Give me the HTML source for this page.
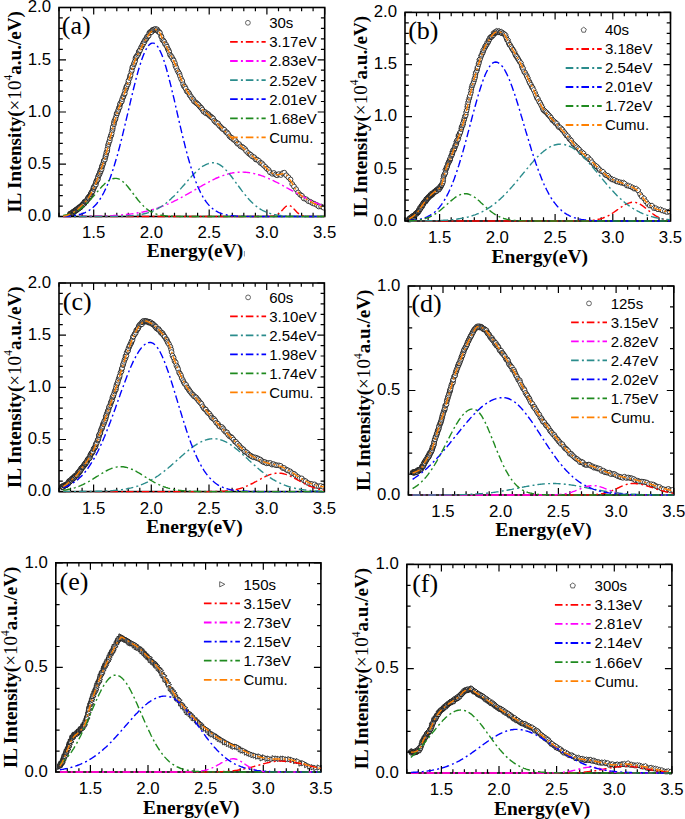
<!DOCTYPE html><html><head><meta charset="utf-8"><style>html,body{margin:0;padding:0;background:#fff;width:685px;height:819px;overflow:hidden}svg{display:block}</style></head><body>
<svg width="685" height="819" viewBox="0 0 685 819">
<rect width="685" height="819" fill="#fff"/>
<clipPath id="cpa"><rect x="59" y="7.5" width="265.7" height="211"/></clipPath>
<g clip-path="url(#cpa)">
<g fill="#fff" stroke="#111" stroke-width="0.8"><circle cx="70" cy="213.7" r="2.4"/><circle cx="70" cy="214.3" r="2.4"/><circle cx="70.8" cy="214.4" r="2.4"/><circle cx="70.9" cy="213.4" r="2.4"/><circle cx="71.1" cy="213.4" r="2.4"/><circle cx="71.7" cy="214.1" r="2.4"/><circle cx="72.1" cy="213.7" r="2.4"/><circle cx="72.4" cy="213.5" r="2.4"/><circle cx="72.3" cy="212.5" r="2.4"/><circle cx="73.1" cy="212.9" r="2.4"/><circle cx="73.5" cy="211.7" r="2.4"/><circle cx="73.4" cy="211.5" r="2.4"/><circle cx="73.8" cy="212" r="2.4"/><circle cx="74.1" cy="211.8" r="2.4"/><circle cx="74.4" cy="211.2" r="2.4"/><circle cx="74.7" cy="211.3" r="2.4"/><circle cx="74.9" cy="211.1" r="2.4"/><circle cx="75.6" cy="210.2" r="2.4"/><circle cx="75.8" cy="210.2" r="2.4"/><circle cx="76.1" cy="209.9" r="2.4"/><circle cx="76.3" cy="210.1" r="2.4"/><circle cx="76.7" cy="209.2" r="2.4"/><circle cx="77.2" cy="209.8" r="2.4"/><circle cx="77.7" cy="209.2" r="2.4"/><circle cx="77.7" cy="208.7" r="2.4"/><circle cx="78.3" cy="208.3" r="2.4"/><circle cx="78.5" cy="208.5" r="2.4"/><circle cx="78.8" cy="207.4" r="2.4"/><circle cx="79.4" cy="207.9" r="2.4"/><circle cx="79.5" cy="207.2" r="2.4"/><circle cx="80" cy="207.6" r="2.4"/><circle cx="80.4" cy="207.4" r="2.4"/><circle cx="80.5" cy="206.9" r="2.4"/><circle cx="81.2" cy="206.1" r="2.4"/><circle cx="81.7" cy="205.5" r="2.4"/><circle cx="81.9" cy="205.9" r="2.4"/><circle cx="82.3" cy="204.8" r="2.4"/><circle cx="82.8" cy="204.4" r="2.4"/><circle cx="82.9" cy="204.9" r="2.4"/><circle cx="83.2" cy="204" r="2.4"/><circle cx="83.6" cy="203.7" r="2.4"/><circle cx="84.2" cy="203.5" r="2.4"/><circle cx="84.4" cy="203.5" r="2.4"/><circle cx="84.5" cy="201.8" r="2.4"/><circle cx="85.3" cy="201.9" r="2.4"/><circle cx="85.4" cy="201.8" r="2.4"/><circle cx="85.9" cy="201.6" r="2.4"/><circle cx="86.3" cy="201.4" r="2.4"/><circle cx="86.8" cy="200.4" r="2.4"/><circle cx="86.9" cy="200.5" r="2.4"/><circle cx="87.4" cy="199.2" r="2.4"/><circle cx="87.9" cy="198.2" r="2.4"/><circle cx="88.3" cy="197.5" r="2.4"/><circle cx="88.6" cy="198.4" r="2.4"/><circle cx="88.9" cy="197.3" r="2.4"/><circle cx="89.6" cy="196" r="2.4"/><circle cx="89.9" cy="195.9" r="2.4"/><circle cx="90.5" cy="195.6" r="2.4"/><circle cx="90.8" cy="194.1" r="2.4"/><circle cx="91" cy="194.1" r="2.4"/><circle cx="91.3" cy="192.9" r="2.4"/><circle cx="91.6" cy="192.3" r="2.4"/><circle cx="92.2" cy="191.8" r="2.4"/><circle cx="92.7" cy="191.1" r="2.4"/><circle cx="93.3" cy="188.9" r="2.4"/><circle cx="93.6" cy="188.7" r="2.4"/><circle cx="93.6" cy="187.2" r="2.4"/><circle cx="94.2" cy="187.1" r="2.4"/><circle cx="95" cy="185.7" r="2.4"/><circle cx="95.4" cy="184" r="2.4"/><circle cx="95.9" cy="184.5" r="2.4"/><circle cx="96.1" cy="182.2" r="2.4"/><circle cx="96.3" cy="181.4" r="2.4"/><circle cx="96.9" cy="180" r="2.4"/><circle cx="97.5" cy="180" r="2.4"/><circle cx="98" cy="178.8" r="2.4"/><circle cx="97.9" cy="176.9" r="2.4"/><circle cx="98.7" cy="175.2" r="2.4"/><circle cx="99.1" cy="174.9" r="2.4"/><circle cx="99.8" cy="173.6" r="2.4"/><circle cx="99.9" cy="172" r="2.4"/><circle cx="100.7" cy="171.3" r="2.4"/><circle cx="100.8" cy="169.6" r="2.4"/><circle cx="101.7" cy="169" r="2.4"/><circle cx="101.9" cy="166.7" r="2.4"/><circle cx="102.1" cy="166" r="2.4"/><circle cx="102.8" cy="164.7" r="2.4"/><circle cx="103.3" cy="163.2" r="2.4"/><circle cx="103.7" cy="161.1" r="2.4"/><circle cx="103.9" cy="160.8" r="2.4"/><circle cx="104.9" cy="159.5" r="2.4"/><circle cx="105.4" cy="157.1" r="2.4"/><circle cx="105.6" cy="155.9" r="2.4"/><circle cx="106.2" cy="154.2" r="2.4"/><circle cx="106.4" cy="152.4" r="2.4"/><circle cx="107.3" cy="151" r="2.4"/><circle cx="107.4" cy="148.8" r="2.4"/><circle cx="108" cy="145.8" r="2.4"/><circle cx="108.4" cy="144.1" r="2.4"/><circle cx="108.9" cy="142.3" r="2.4"/><circle cx="109.7" cy="140.6" r="2.4"/><circle cx="110" cy="138.2" r="2.4"/><circle cx="110.8" cy="136" r="2.4"/><circle cx="111.2" cy="135.2" r="2.4"/><circle cx="111.7" cy="133.4" r="2.4"/><circle cx="112.3" cy="130.4" r="2.4"/><circle cx="112.7" cy="128.8" r="2.4"/><circle cx="112.8" cy="126.9" r="2.4"/><circle cx="113.9" cy="124.3" r="2.4"/><circle cx="113.9" cy="122.7" r="2.4"/><circle cx="114.4" cy="120.8" r="2.4"/><circle cx="115.3" cy="119.5" r="2.4"/><circle cx="115.6" cy="118" r="2.4"/><circle cx="116.4" cy="115.5" r="2.4"/><circle cx="116.7" cy="113.5" r="2.4"/><circle cx="117.2" cy="113.1" r="2.4"/><circle cx="118" cy="111.2" r="2.4"/><circle cx="118.4" cy="109.8" r="2.4"/><circle cx="118.9" cy="107.8" r="2.4"/><circle cx="119.7" cy="107" r="2.4"/><circle cx="120" cy="104.5" r="2.4"/><circle cx="120.3" cy="103.5" r="2.4"/><circle cx="121.4" cy="101.8" r="2.4"/><circle cx="121.8" cy="101.3" r="2.4"/><circle cx="122.2" cy="99.1" r="2.4"/><circle cx="123.1" cy="97.2" r="2.4"/><circle cx="123.5" cy="96.1" r="2.4"/><circle cx="124.2" cy="94.2" r="2.4"/><circle cx="124.8" cy="93.3" r="2.4"/><circle cx="125.2" cy="90.3" r="2.4"/><circle cx="126.1" cy="88.6" r="2.4"/><circle cx="126.3" cy="87" r="2.4"/><circle cx="126.8" cy="86.1" r="2.4"/><circle cx="127.8" cy="84.4" r="2.4"/><circle cx="128.4" cy="82.4" r="2.4"/><circle cx="128.5" cy="80.6" r="2.4"/><circle cx="129.7" cy="78" r="2.4"/><circle cx="130.1" cy="75.9" r="2.4"/><circle cx="130.6" cy="75" r="2.4"/><circle cx="131.4" cy="71.7" r="2.4"/><circle cx="131.9" cy="70" r="2.4"/><circle cx="132.3" cy="67.3" r="2.4"/><circle cx="132.9" cy="66.6" r="2.4"/><circle cx="133.8" cy="64.3" r="2.4"/><circle cx="134.3" cy="62.9" r="2.4"/><circle cx="135.1" cy="61" r="2.4"/><circle cx="135.5" cy="58.3" r="2.4"/><circle cx="136.1" cy="57.1" r="2.4"/><circle cx="136.7" cy="56.2" r="2.4"/><circle cx="137.9" cy="54.9" r="2.4"/><circle cx="138.5" cy="53.4" r="2.4"/><circle cx="138.8" cy="51.8" r="2.4"/><circle cx="139.4" cy="50.8" r="2.4"/><circle cx="140.1" cy="50.1" r="2.4"/><circle cx="141.2" cy="47.4" r="2.4"/><circle cx="141.4" cy="47.2" r="2.4"/><circle cx="142.3" cy="45.3" r="2.4"/><circle cx="143" cy="44.2" r="2.4"/><circle cx="143.6" cy="42.5" r="2.4"/><circle cx="144.4" cy="42.1" r="2.4"/><circle cx="144.9" cy="40.2" r="2.4"/><circle cx="145.9" cy="39.3" r="2.4"/><circle cx="146.6" cy="38.3" r="2.4"/><circle cx="147" cy="36.8" r="2.4"/><circle cx="147.9" cy="36.4" r="2.4"/><circle cx="148.7" cy="35.6" r="2.4"/><circle cx="149.2" cy="33.2" r="2.4"/><circle cx="149.9" cy="32.2" r="2.4"/><circle cx="150.6" cy="32.1" r="2.4"/><circle cx="151.5" cy="32.1" r="2.4"/><circle cx="152.4" cy="30" r="2.4"/><circle cx="152.9" cy="30.6" r="2.4"/><circle cx="153.7" cy="29.5" r="2.4"/><circle cx="154.8" cy="29.6" r="2.4"/><circle cx="155.5" cy="28.9" r="2.4"/><circle cx="156.5" cy="29.9" r="2.4"/><circle cx="157.1" cy="29.4" r="2.4"/><circle cx="157.7" cy="30.9" r="2.4"/><circle cx="158.5" cy="31.6" r="2.4"/><circle cx="159.4" cy="32.2" r="2.4"/><circle cx="159.9" cy="32.9" r="2.4"/><circle cx="161.2" cy="36.2" r="2.4"/><circle cx="161.5" cy="36.9" r="2.4"/><circle cx="162.4" cy="39.9" r="2.4"/><circle cx="163.5" cy="40.7" r="2.4"/><circle cx="164.3" cy="41.9" r="2.4"/><circle cx="165" cy="44" r="2.4"/><circle cx="166.2" cy="45" r="2.4"/><circle cx="166.9" cy="46.7" r="2.4"/><circle cx="167.8" cy="49" r="2.4"/><circle cx="168.6" cy="50.2" r="2.4"/><circle cx="169.2" cy="51.9" r="2.4"/><circle cx="170" cy="54.8" r="2.4"/><circle cx="171" cy="56" r="2.4"/><circle cx="171.9" cy="57.2" r="2.4"/><circle cx="173.1" cy="59.4" r="2.4"/><circle cx="173.7" cy="60.5" r="2.4"/><circle cx="174.9" cy="63.2" r="2.4"/><circle cx="175.4" cy="65.9" r="2.4"/><circle cx="176.3" cy="67.7" r="2.4"/><circle cx="177.4" cy="70.4" r="2.4"/><circle cx="178.4" cy="72.2" r="2.4"/><circle cx="179.4" cy="73.8" r="2.4"/><circle cx="180" cy="76" r="2.4"/><circle cx="181.1" cy="78.9" r="2.4"/><circle cx="182.3" cy="81" r="2.4"/><circle cx="183.1" cy="84.3" r="2.4"/><circle cx="183.9" cy="86.2" r="2.4"/><circle cx="184.9" cy="86.9" r="2.4"/><circle cx="185.7" cy="88.7" r="2.4"/><circle cx="186.8" cy="91.3" r="2.4"/><circle cx="187.9" cy="91.8" r="2.4"/><circle cx="189.2" cy="93.5" r="2.4"/><circle cx="189.7" cy="95.2" r="2.4"/><circle cx="190.9" cy="96.5" r="2.4"/><circle cx="191.9" cy="98.3" r="2.4"/><circle cx="193.2" cy="99.3" r="2.4"/><circle cx="193.9" cy="101.2" r="2.4"/><circle cx="195.3" cy="102.2" r="2.4"/><circle cx="196.3" cy="103" r="2.4"/><circle cx="197.2" cy="103.7" r="2.4"/><circle cx="198.4" cy="104.8" r="2.4"/><circle cx="199.6" cy="106.3" r="2.4"/><circle cx="200.8" cy="107.6" r="2.4"/><circle cx="201.4" cy="108.1" r="2.4"/><circle cx="202.5" cy="109.7" r="2.4"/><circle cx="203.6" cy="111.6" r="2.4"/><circle cx="205.3" cy="112.1" r="2.4"/><circle cx="205.9" cy="113.3" r="2.4"/><circle cx="207.5" cy="113.7" r="2.4"/><circle cx="208.6" cy="114.5" r="2.4"/><circle cx="209.6" cy="115.8" r="2.4"/><circle cx="211" cy="116.7" r="2.4"/><circle cx="211.9" cy="117.6" r="2.4"/><circle cx="213.1" cy="118.4" r="2.4"/><circle cx="214.2" cy="120.6" r="2.4"/><circle cx="215.3" cy="121.8" r="2.4"/><circle cx="216.5" cy="122.8" r="2.4"/><circle cx="218" cy="123.4" r="2.4"/><circle cx="219.1" cy="125.4" r="2.4"/><circle cx="220.3" cy="126.5" r="2.4"/><circle cx="221.7" cy="128" r="2.4"/><circle cx="222.8" cy="129.1" r="2.4"/><circle cx="224.3" cy="129.8" r="2.4"/><circle cx="225.9" cy="132" r="2.4"/><circle cx="226.9" cy="132.4" r="2.4"/><circle cx="228.2" cy="134" r="2.4"/><circle cx="229.5" cy="136.2" r="2.4"/><circle cx="230.8" cy="137.4" r="2.4"/><circle cx="232" cy="138" r="2.4"/><circle cx="233.6" cy="139.7" r="2.4"/><circle cx="235" cy="140.1" r="2.4"/><circle cx="236.5" cy="142.2" r="2.4"/><circle cx="237.5" cy="143.7" r="2.4"/><circle cx="239.2" cy="144.2" r="2.4"/><circle cx="240.5" cy="146.3" r="2.4"/><circle cx="242.2" cy="146.9" r="2.4"/><circle cx="243.4" cy="147.8" r="2.4"/><circle cx="245.2" cy="149.2" r="2.4"/><circle cx="246.2" cy="151" r="2.4"/><circle cx="248.2" cy="153" r="2.4"/><circle cx="249.7" cy="154.2" r="2.4"/><circle cx="250.8" cy="154.9" r="2.4"/><circle cx="252.2" cy="156.4" r="2.4"/><circle cx="254.2" cy="157.3" r="2.4"/><circle cx="255.7" cy="159.4" r="2.4"/><circle cx="257" cy="159.6" r="2.4"/><circle cx="258.9" cy="160.9" r="2.4"/><circle cx="260.4" cy="162.9" r="2.4"/><circle cx="261.9" cy="163.3" r="2.4"/><circle cx="263.3" cy="165.1" r="2.4"/><circle cx="265.3" cy="166.9" r="2.4"/><circle cx="266.9" cy="168.7" r="2.4"/><circle cx="268.7" cy="170.1" r="2.4"/><circle cx="270" cy="172.3" r="2.4"/><circle cx="272.3" cy="173.8" r="2.4"/><circle cx="273.9" cy="173" r="2.4"/><circle cx="275.7" cy="174.6" r="2.4"/><circle cx="277.1" cy="175.3" r="2.4"/><circle cx="278.8" cy="174.1" r="2.4"/><circle cx="280.9" cy="175" r="2.4"/><circle cx="282.6" cy="173.2" r="2.4"/><circle cx="284.3" cy="172.7" r="2.4"/><circle cx="286.3" cy="175.3" r="2.4"/><circle cx="288.4" cy="177.3" r="2.4"/><circle cx="290.5" cy="179.5" r="2.4"/><circle cx="292.2" cy="184" r="2.4"/><circle cx="294" cy="186.5" r="2.4"/><circle cx="296.1" cy="189.2" r="2.4"/><circle cx="298.1" cy="192.5" r="2.4"/><circle cx="300.2" cy="194.7" r="2.4"/><circle cx="301.9" cy="195.8" r="2.4"/><circle cx="303.8" cy="198.4" r="2.4"/><circle cx="306.3" cy="199.3" r="2.4"/><circle cx="308.3" cy="201.1" r="2.4"/><circle cx="310.4" cy="201.8" r="2.4"/><circle cx="312.6" cy="203.2" r="2.4"/><circle cx="314.4" cy="203.8" r="2.4"/><circle cx="317" cy="205.1" r="2.4"/><circle cx="318.8" cy="206.5" r="2.4"/><circle cx="321.1" cy="206.5" r="2.4"/><circle cx="323.5" cy="207.6" r="2.4"/></g>
</g>
<rect x="59" y="7.5" width="265.7" height="209" fill="none" stroke="#000" stroke-width="1.6"/>
<path d="M59 216.5v-3.8M59 7.5v3.8M70.6 216.5v-3.8M70.6 7.5v3.8M82.1 216.5v-3.8M82.1 7.5v3.8M93.7 216.5v-7M93.7 7.5v7M105.2 216.5v-3.8M105.2 7.5v3.8M116.8 216.5v-3.8M116.8 7.5v3.8M128.3 216.5v-3.8M128.3 7.5v3.8M139.9 216.5v-3.8M139.9 7.5v3.8M151.4 216.5v-7M151.4 7.5v7M163 216.5v-3.8M163 7.5v3.8M174.5 216.5v-3.8M174.5 7.5v3.8M186.1 216.5v-3.8M186.1 7.5v3.8M197.6 216.5v-3.8M197.6 7.5v3.8M209.2 216.5v-7M209.2 7.5v7M220.7 216.5v-3.8M220.7 7.5v3.8M232.3 216.5v-3.8M232.3 7.5v3.8M243.8 216.5v-3.8M243.8 7.5v3.8M255.4 216.5v-3.8M255.4 7.5v3.8M266.9 216.5v-7M266.9 7.5v7M278.5 216.5v-3.8M278.5 7.5v3.8M290 216.5v-3.8M290 7.5v3.8M301.6 216.5v-3.8M301.6 7.5v3.8M313.1 216.5v-3.8M313.1 7.5v3.8M324.7 216.5v-7M324.7 7.5v7M59 216.5h7M324.7 216.5h-7M59 206.1h3.8M324.7 206.1h-3.8M59 195.6h3.8M324.7 195.6h-3.8M59 185.2h3.8M324.7 185.2h-3.8M59 174.7h3.8M324.7 174.7h-3.8M59 164.2h7M324.7 164.2h-7M59 153.8h3.8M324.7 153.8h-3.8M59 143.3h3.8M324.7 143.3h-3.8M59 132.9h3.8M324.7 132.9h-3.8M59 122.5h3.8M324.7 122.5h-3.8M59 112h7M324.7 112h-7M59 101.5h3.8M324.7 101.5h-3.8M59 91.1h3.8M324.7 91.1h-3.8M59 80.7h3.8M324.7 80.7h-3.8M59 70.2h3.8M324.7 70.2h-3.8M59 59.8h7M324.7 59.8h-7M59 49.3h3.8M324.7 49.3h-3.8M59 38.8h3.8M324.7 38.8h-3.8M59 28.4h3.8M324.7 28.4h-3.8M59 17.9h3.8M324.7 17.9h-3.8M59 7.5h7M324.7 7.5h-7" stroke="#000" stroke-width="1.2" fill="none"/>
<g clip-path="url(#cpa)">
<path d="M63.2 216.5L64.3 216.5L65.5 216.5L66.6 216.5L67.8 216.5L68.9 216.5L70.1 216.5L71.2 216.5L72.4 216.5L73.6 216.5L74.7 216.5L75.9 216.5L77 216.5L78.2 216.5L79.3 216.5L80.5 216.5L81.6 216.5L82.8 216.5L84 216.5L85.1 216.5L86.3 216.5L87.4 216.5L88.6 216.5L89.7 216.5L90.9 216.5L92 216.5L93.2 216.5L94.3 216.5L95.5 216.5L96.7 216.5L97.8 216.5L99 216.5L100.1 216.5L101.3 216.5L102.4 216.5L103.6 216.5L104.7 216.5L105.9 216.5L107.1 216.5L108.2 216.5L109.4 216.5L110.5 216.5L111.7 216.5L112.8 216.5L114 216.5L115.1 216.5L116.3 216.5L117.5 216.5L118.6 216.5L119.8 216.5L120.9 216.5L122.1 216.5L123.2 216.5L124.4 216.5L125.5 216.5L126.7 216.5L127.9 216.5L129 216.5L130.2 216.5L131.3 216.5L132.5 216.5L133.6 216.5L134.8 216.5L135.9 216.5L137.1 216.5L138.2 216.5L139.4 216.5L140.6 216.5L141.7 216.5L142.9 216.5L144 216.5L145.2 216.5L146.3 216.5L147.5 216.5L148.6 216.5L149.8 216.5L151 216.5L152.1 216.5L153.3 216.5L154.4 216.5L155.6 216.5L156.7 216.5L157.9 216.5L159 216.5L160.2 216.5L161.4 216.5L162.5 216.5L163.7 216.5L164.8 216.5L166 216.5L167.1 216.5L168.3 216.5L169.4 216.5L170.6 216.5L171.7 216.5L172.9 216.5L174.1 216.5L175.2 216.5L176.4 216.5L177.5 216.5L178.7 216.5L179.8 216.5L181 216.5L182.1 216.5L183.3 216.5L184.5 216.5L185.6 216.5L186.8 216.5L187.9 216.5L189.1 216.5L190.2 216.5L191.4 216.5L192.5 216.5L193.7 216.5L194.9 216.5L196 216.5L197.2 216.5L198.3 216.5L199.5 216.5L200.6 216.5L201.8 216.5L202.9 216.5L204.1 216.5L205.3 216.5L206.4 216.5L207.6 216.5L208.7 216.5L209.9 216.5L211 216.5L212.2 216.5L213.3 216.5L214.5 216.5L215.6 216.5L216.8 216.5L218 216.5L219.1 216.5L220.3 216.5L221.4 216.5L222.6 216.5L223.7 216.5L224.9 216.5L226 216.5L227.2 216.5L228.4 216.5L229.5 216.5L230.7 216.5L231.8 216.5L233 216.5L234.1 216.5L235.3 216.5L236.4 216.5L237.6 216.5L238.8 216.5L239.9 216.5L241.1 216.5L242.2 216.5L243.4 216.5L244.5 216.5L245.7 216.5L246.8 216.5L248 216.5L249.1 216.5L250.3 216.5L251.5 216.5L252.6 216.5L253.8 216.5L254.9 216.5L256.1 216.5L257.2 216.5L258.4 216.5L259.5 216.5L260.7 216.5L261.9 216.5L263 216.5L264.2 216.5L265.3 216.5L266.5 216.5L267.6 216.5L268.8 216.5L269.9 216.4L271.1 216.3L272.3 216.2L273.4 216.1L274.6 215.8L275.7 215.4L276.9 214.9L278 214.2L279.2 213.3L280.3 212.2L281.5 211L282.7 209.7L283.8 208.4L285 207.2L286.1 206.3L287.3 205.6L288.4 205.3L289.6 205.5L290.7 206L291.9 206.8L293 207.9L294.2 209.2L295.4 210.5L296.5 211.7L297.7 212.9L298.8 213.8L300 214.6L301.1 215.2L302.3 215.6L303.4 216L304.6 216.2L305.8 216.3L306.9 216.4L308.1 216.4L309.2 216.5L310.4 216.5L311.5 216.5L312.7 216.5L313.8 216.5L315 216.5L316.2 216.5L317.3 216.5L318.5 216.5L319.6 216.5L320.8 216.5L321.9 216.5L323.1 216.5L324.2 216.5" fill="none" stroke="#FF0000" stroke-width="1.4" stroke-dasharray="7.6 3.2 2 2.9"/>
<path d="M63.2 216.5L64.3 216.5L65.5 216.5L66.6 216.5L67.8 216.5L68.9 216.5L70.1 216.5L71.2 216.5L72.4 216.4L73.6 216.4L74.7 216.4L75.9 216.4L77 216.4L78.2 216.4L79.3 216.4L80.5 216.4L81.6 216.4L82.8 216.4L84 216.4L85.1 216.4L86.3 216.3L87.4 216.3L88.6 216.3L89.7 216.3L90.9 216.3L92 216.3L93.2 216.2L94.3 216.2L95.5 216.2L96.7 216.2L97.8 216.1L99 216.1L100.1 216.1L101.3 216.1L102.4 216L103.6 216L104.7 215.9L105.9 215.9L107.1 215.9L108.2 215.8L109.4 215.8L110.5 215.7L111.7 215.6L112.8 215.6L114 215.5L115.1 215.4L116.3 215.4L117.5 215.3L118.6 215.2L119.8 215.1L120.9 215L122.1 214.9L123.2 214.8L124.4 214.7L125.5 214.6L126.7 214.5L127.9 214.3L129 214.2L130.2 214.1L131.3 213.9L132.5 213.8L133.6 213.6L134.8 213.4L135.9 213.2L137.1 213L138.2 212.8L139.4 212.6L140.6 212.4L141.7 212.2L142.9 212L144 211.7L145.2 211.4L146.3 211.2L147.5 210.9L148.6 210.6L149.8 210.3L151 210L152.1 209.7L153.3 209.3L154.4 209L155.6 208.6L156.7 208.3L157.9 207.9L159 207.5L160.2 207.1L161.4 206.6L162.5 206.2L163.7 205.8L164.8 205.3L166 204.8L167.1 204.3L168.3 203.9L169.4 203.3L170.6 202.8L171.7 202.3L172.9 201.8L174.1 201.2L175.2 200.6L176.4 200.1L177.5 199.5L178.7 198.9L179.8 198.3L181 197.7L182.1 197L183.3 196.4L184.5 195.8L185.6 195.1L186.8 194.5L187.9 193.8L189.1 193.2L190.2 192.5L191.4 191.8L192.5 191.2L193.7 190.5L194.9 189.8L196 189.2L197.2 188.5L198.3 187.8L199.5 187.1L200.6 186.5L201.8 185.8L202.9 185.2L204.1 184.5L205.3 183.9L206.4 183.2L207.6 182.6L208.7 182L209.9 181.4L211 180.8L212.2 180.2L213.3 179.6L214.5 179.1L215.6 178.5L216.8 178L218 177.5L219.1 177L220.3 176.5L221.4 176.1L222.6 175.7L223.7 175.3L224.9 174.9L226 174.5L227.2 174.2L228.4 173.9L229.5 173.6L230.7 173.3L231.8 173.1L233 172.8L234.1 172.7L235.3 172.5L236.4 172.4L237.6 172.2L238.8 172.2L239.9 172.1L241.1 172.1L242.2 172.1L243.4 172.1L244.5 172.2L245.7 172.3L246.8 172.4L248 172.5L249.1 172.6L250.3 172.8L251.5 173L252.6 173.2L253.8 173.5L254.9 173.7L256.1 174L257.2 174.4L258.4 174.7L259.5 175L260.7 175.4L261.9 175.8L263 176.2L264.2 176.7L265.3 177.1L266.5 177.6L267.6 178.1L268.8 178.6L269.9 179.1L271.1 179.6L272.3 180.2L273.4 180.7L274.6 181.3L275.7 181.9L276.9 182.4L278 183L279.2 183.6L280.3 184.2L281.5 184.9L282.7 185.5L283.8 186.1L285 186.8L286.1 187.4L287.3 188L288.4 188.7L289.6 189.3L290.7 189.9L291.9 190.6L293 191.2L294.2 191.9L295.4 192.5L296.5 193.1L297.7 193.8L298.8 194.4L300 195L301.1 195.6L302.3 196.2L303.4 196.8L304.6 197.4L305.8 198L306.9 198.6L308.1 199.2L309.2 199.7L310.4 200.3L311.5 200.8L312.7 201.4L313.8 201.9L315 202.4L316.2 202.9L317.3 203.4L318.5 203.9L319.6 204.3L320.8 204.8L321.9 205.2L323.1 205.7L324.2 206.1" fill="none" stroke="#FF00FF" stroke-width="1.4" stroke-dasharray="7.6 3.2 2 2.9"/>
<path d="M63.2 216.5L64.3 216.5L65.5 216.5L66.6 216.5L67.8 216.5L68.9 216.5L70.1 216.5L71.2 216.5L72.4 216.5L73.6 216.5L74.7 216.5L75.9 216.5L77 216.5L78.2 216.5L79.3 216.5L80.5 216.5L81.6 216.5L82.8 216.5L84 216.5L85.1 216.5L86.3 216.5L87.4 216.5L88.6 216.5L89.7 216.5L90.9 216.5L92 216.5L93.2 216.5L94.3 216.5L95.5 216.5L96.7 216.5L97.8 216.5L99 216.5L100.1 216.5L101.3 216.5L102.4 216.5L103.6 216.5L104.7 216.5L105.9 216.5L107.1 216.5L108.2 216.4L109.4 216.4L110.5 216.4L111.7 216.4L112.8 216.4L114 216.4L115.1 216.4L116.3 216.3L117.5 216.3L118.6 216.3L119.8 216.3L120.9 216.2L122.1 216.2L123.2 216.2L124.4 216.1L125.5 216.1L126.7 216L127.9 215.9L129 215.9L130.2 215.8L131.3 215.7L132.5 215.6L133.6 215.5L134.8 215.3L135.9 215.2L137.1 215.1L138.2 214.9L139.4 214.7L140.6 214.5L141.7 214.3L142.9 214.1L144 213.8L145.2 213.5L146.3 213.2L147.5 212.9L148.6 212.5L149.8 212.1L151 211.7L152.1 211.3L153.3 210.8L154.4 210.3L155.6 209.8L156.7 209.2L157.9 208.6L159 207.9L160.2 207.2L161.4 206.5L162.5 205.7L163.7 204.9L164.8 204.1L166 203.2L167.1 202.2L168.3 201.3L169.4 200.3L170.6 199.2L171.7 198.1L172.9 197L174.1 195.9L175.2 194.7L176.4 193.5L177.5 192.3L178.7 191L179.8 189.7L181 188.4L182.1 187.1L183.3 185.8L184.5 184.5L185.6 183.1L186.8 181.8L187.9 180.5L189.1 179.2L190.2 177.9L191.4 176.6L192.5 175.4L193.7 174.2L194.9 173L196 171.9L197.2 170.8L198.3 169.7L199.5 168.8L200.6 167.8L201.8 167L202.9 166.2L204.1 165.5L205.3 164.9L206.4 164.3L207.6 163.9L208.7 163.5L209.9 163.2L211 162.9L212.2 162.8L213.3 162.8L214.5 162.9L215.6 163.1L216.8 163.4L218 163.9L219.1 164.4L220.3 165.1L221.4 165.9L222.6 166.8L223.7 167.8L224.9 168.9L226 170.1L227.2 171.4L228.4 172.7L229.5 174.1L230.7 175.5L231.8 177L233 178.6L234.1 180.1L235.3 181.7L236.4 183.3L237.6 184.9L238.8 186.5L239.9 188L241.1 189.6L242.2 191.1L243.4 192.6L244.5 194.1L245.7 195.5L246.8 196.9L248 198.2L249.1 199.5L250.3 200.7L251.5 201.9L252.6 203L253.8 204.1L254.9 205.1L256.1 206.1L257.2 206.9L258.4 207.8L259.5 208.6L260.7 209.3L261.9 210L263 210.6L264.2 211.2L265.3 211.7L266.5 212.2L267.6 212.7L268.8 213.1L269.9 213.4L271.1 213.8L272.3 214.1L273.4 214.4L274.6 214.6L275.7 214.8L276.9 215.1L278 215.2L279.2 215.4L280.3 215.5L281.5 215.7L282.7 215.8L283.8 215.9L285 216L286.1 216L287.3 216.1L288.4 216.2L289.6 216.2L290.7 216.2L291.9 216.3L293 216.3L294.2 216.3L295.4 216.4L296.5 216.4L297.7 216.4L298.8 216.4L300 216.4L301.1 216.4L302.3 216.5L303.4 216.5L304.6 216.5L305.8 216.5L306.9 216.5L308.1 216.5L309.2 216.5L310.4 216.5L311.5 216.5L312.7 216.5L313.8 216.5L315 216.5L316.2 216.5L317.3 216.5L318.5 216.5L319.6 216.5L320.8 216.5L321.9 216.5L323.1 216.5L324.2 216.5" fill="none" stroke="#2A8C8C" stroke-width="1.4" stroke-dasharray="7.6 3.2 2 2.9"/>
<path d="M63.2 216.3L64.3 216.2L65.5 216.2L66.6 216.1L67.8 216.1L68.9 216L70.1 215.9L71.2 215.8L72.4 215.7L73.6 215.5L74.7 215.4L75.9 215.2L77 215L78.2 214.8L79.3 214.5L80.5 214.2L81.6 213.9L82.8 213.5L84 213L85.1 212.6L86.3 212L87.4 211.4L88.6 210.8L89.7 210L90.9 209.2L92 208.3L93.2 207.3L94.3 206.2L95.5 205L96.7 203.7L97.8 202.2L99 200.7L100.1 199L101.3 197.1L102.4 195.2L103.6 193L104.7 190.7L105.9 188.3L107.1 185.7L108.2 182.9L109.4 180L110.5 176.9L111.7 173.6L112.8 170.1L114 166.5L115.1 162.7L116.3 158.8L117.5 154.7L118.6 150.5L119.8 146.1L120.9 141.6L122.1 137L123.2 132.3L124.4 127.5L125.5 122.6L126.7 117.7L127.9 112.8L129 107.8L130.2 102.9L131.3 98L132.5 93.2L133.6 88.5L134.8 83.8L135.9 79.3L137.1 75L138.2 70.9L139.4 66.9L140.6 63.2L141.7 59.8L142.9 56.6L144 53.7L145.2 51.2L146.3 48.9L147.5 47L148.6 45.5L149.8 44.3L151 43.5L152.1 43.1L153.3 43.1L154.4 43.4L155.6 44.2L156.7 45.3L157.9 46.9L159 48.8L160.2 51.1L161.4 53.7L162.5 56.6L163.7 59.9L164.8 63.4L166 67.2L167.1 71.3L168.3 75.5L169.4 80L170.6 84.6L171.7 89.4L172.9 94.2L174.1 99.2L175.2 104.2L176.4 109.3L177.5 114.3L178.7 119.4L179.8 124.4L181 129.3L182.1 134.2L183.3 139L184.5 143.7L185.6 148.2L186.8 152.6L187.9 156.9L189.1 161L190.2 164.9L191.4 168.7L192.5 172.3L193.7 175.7L194.9 179L196 182.1L197.2 184.9L198.3 187.7L199.5 190.2L200.6 192.6L201.8 194.8L202.9 196.8L204.1 198.7L205.3 200.5L206.4 202.1L207.6 203.6L208.7 204.9L209.9 206.2L211 207.3L212.2 208.3L213.3 209.2L214.5 210.1L215.6 210.8L216.8 211.5L218 212.1L219.1 212.6L220.3 213.1L221.4 213.6L222.6 213.9L223.7 214.3L224.9 214.6L226 214.8L227.2 215.1L228.4 215.3L229.5 215.4L230.7 215.6L231.8 215.7L233 215.8L234.1 215.9L235.3 216L236.4 216.1L237.6 216.2L238.8 216.2L239.9 216.3L241.1 216.3L242.2 216.3L243.4 216.4L244.5 216.4L245.7 216.4L246.8 216.4L248 216.4L249.1 216.4L250.3 216.5L251.5 216.5L252.6 216.5L253.8 216.5L254.9 216.5L256.1 216.5L257.2 216.5L258.4 216.5L259.5 216.5L260.7 216.5L261.9 216.5L263 216.5L264.2 216.5L265.3 216.5L266.5 216.5L267.6 216.5L268.8 216.5L269.9 216.5L271.1 216.5L272.3 216.5L273.4 216.5L274.6 216.5L275.7 216.5L276.9 216.5L278 216.5L279.2 216.5L280.3 216.5L281.5 216.5L282.7 216.5L283.8 216.5L285 216.5L286.1 216.5L287.3 216.5L288.4 216.5L289.6 216.5L290.7 216.5L291.9 216.5L293 216.5L294.2 216.5L295.4 216.5L296.5 216.5L297.7 216.5L298.8 216.5L300 216.5L301.1 216.5L302.3 216.5L303.4 216.5L304.6 216.5L305.8 216.5L306.9 216.5L308.1 216.5L309.2 216.5L310.4 216.5L311.5 216.5L312.7 216.5L313.8 216.5L315 216.5L316.2 216.5L317.3 216.5L318.5 216.5L319.6 216.5L320.8 216.5L321.9 216.5L323.1 216.5L324.2 216.5" fill="none" stroke="#0000FF" stroke-width="1.4" stroke-dasharray="7.6 3.2 2 2.9"/>
<path d="M63.2 215.4L64.3 215.2L65.5 215L66.6 214.8L67.8 214.5L68.9 214.2L70.1 213.9L71.2 213.5L72.4 213.1L73.6 212.6L74.7 212.1L75.9 211.6L77 211L78.2 210.3L79.3 209.6L80.5 208.8L81.6 208L82.8 207.1L84 206.1L85.1 205.1L86.3 204L87.4 202.9L88.6 201.7L89.7 200.5L90.9 199.2L92 197.9L93.2 196.6L94.3 195.3L95.5 193.9L96.7 192.5L97.8 191.2L99 189.9L100.1 188.5L101.3 187.3L102.4 186L103.6 184.9L104.7 183.8L105.9 182.7L107.1 181.8L108.2 181L109.4 180.2L110.5 179.6L111.7 179.1L112.8 178.7L114 178.5L115.1 178.4L116.3 178.4L117.5 178.6L118.6 178.9L119.8 179.4L120.9 180.1L122.1 180.9L123.2 181.9L124.4 183L125.5 184.1L126.7 185.4L127.9 186.8L129 188.2L130.2 189.7L131.3 191.2L132.5 192.7L133.6 194.3L134.8 195.8L135.9 197.3L137.1 198.8L138.2 200.3L139.4 201.6L140.6 203L141.7 204.2L142.9 205.4L144 206.6L145.2 207.6L146.3 208.6L147.5 209.5L148.6 210.3L149.8 211.1L151 211.7L152.1 212.4L153.3 212.9L154.4 213.4L155.6 213.8L156.7 214.2L157.9 214.6L159 214.9L160.2 215.1L161.4 215.3L162.5 215.5L163.7 215.7L164.8 215.8L166 215.9L167.1 216L168.3 216.1L169.4 216.2L170.6 216.3L171.7 216.3L172.9 216.3L174.1 216.4L175.2 216.4L176.4 216.4L177.5 216.4L178.7 216.4L179.8 216.5L181 216.5L182.1 216.5L183.3 216.5L184.5 216.5L185.6 216.5L186.8 216.5L187.9 216.5L189.1 216.5L190.2 216.5L191.4 216.5L192.5 216.5L193.7 216.5L194.9 216.5L196 216.5L197.2 216.5L198.3 216.5L199.5 216.5L200.6 216.5L201.8 216.5L202.9 216.5L204.1 216.5L205.3 216.5L206.4 216.5L207.6 216.5L208.7 216.5L209.9 216.5L211 216.5L212.2 216.5L213.3 216.5L214.5 216.5L215.6 216.5L216.8 216.5L218 216.5L219.1 216.5L220.3 216.5L221.4 216.5L222.6 216.5L223.7 216.5L224.9 216.5L226 216.5L227.2 216.5L228.4 216.5L229.5 216.5L230.7 216.5L231.8 216.5L233 216.5L234.1 216.5L235.3 216.5L236.4 216.5L237.6 216.5L238.8 216.5L239.9 216.5L241.1 216.5L242.2 216.5L243.4 216.5L244.5 216.5L245.7 216.5L246.8 216.5L248 216.5L249.1 216.5L250.3 216.5L251.5 216.5L252.6 216.5L253.8 216.5L254.9 216.5L256.1 216.5L257.2 216.5L258.4 216.5L259.5 216.5L260.7 216.5L261.9 216.5L263 216.5L264.2 216.5L265.3 216.5L266.5 216.5L267.6 216.5L268.8 216.5L269.9 216.5L271.1 216.5L272.3 216.5L273.4 216.5L274.6 216.5L275.7 216.5L276.9 216.5L278 216.5L279.2 216.5L280.3 216.5L281.5 216.5L282.7 216.5L283.8 216.5L285 216.5L286.1 216.5L287.3 216.5L288.4 216.5L289.6 216.5L290.7 216.5L291.9 216.5L293 216.5L294.2 216.5L295.4 216.5L296.5 216.5L297.7 216.5L298.8 216.5L300 216.5L301.1 216.5L302.3 216.5L303.4 216.5L304.6 216.5L305.8 216.5L306.9 216.5L308.1 216.5L309.2 216.5L310.4 216.5L311.5 216.5L312.7 216.5L313.8 216.5L315 216.5L316.2 216.5L317.3 216.5L318.5 216.5L319.6 216.5L320.8 216.5L321.9 216.5L323.1 216.5L324.2 216.5" fill="none" stroke="#1F8A1F" stroke-width="1.4" stroke-dasharray="7.6 3.2 2 2.9"/>
<path d="M63.2 216.2L64.3 216L65.5 215.9L66.6 215.5L67.8 215.1L68.9 214.6L70.1 214.1L71.2 213.5L72.4 212.9L73.6 212.2L74.7 211.4L75.9 210.6L77 209.7L78.2 208.7L79.3 207.7L80.5 206.6L81.6 205.5L82.8 204.3L84 203.2L85.1 202L86.3 200.8L87.4 199.3L88.6 197.7L89.7 195.9L90.9 193.8L92 191.6L93.2 189.3L94.3 186.8L95.5 184L96.7 181.1L97.8 178L99 174.9L100.1 171.8L101.3 168.6L102.4 165.4L103.6 162L104.7 158.4L105.9 154.6L107.1 150.3L108.2 145.8L109.4 141.2L110.5 136.7L111.7 132.4L112.8 128L114 123.7L115.1 119.5L116.3 115.6L117.5 112L118.6 108.8L119.8 105.7L120.9 102.8L122.1 99.7L123.2 96.5L124.4 93.2L125.5 89.9L126.7 86.5L127.9 83.1L129 79.6L130.2 75.8L131.3 71.9L132.5 68.1L133.6 64.4L134.8 61.1L135.9 58.3L137.1 55.8L138.2 53.5L139.4 51.2L140.6 49L141.7 46.8L142.9 44.7L144 42.6L145.2 40.6L146.3 38.8L147.5 36.8L148.6 35L149.8 33.3L151 32L152.1 31L153.3 30.1L154.4 29.5L155.6 29.5L156.7 30L157.9 30.7L159 31.7L160.2 33.7L161.4 36.3L162.5 38.9L163.7 41.2L164.8 43.5L166 45.7L167.1 48L168.3 50.2L169.4 52.5L170.6 54.8L171.7 57.1L172.9 59.5L174.1 61.9L175.2 64.4L176.4 67.1L177.5 69.9L178.7 72.8L179.8 75.7L181 78.6L182.1 81.4L183.3 84.1L184.5 86.5L185.6 88.7L186.8 90.7L187.9 92.5L189.1 94.2L190.2 95.8L191.4 97.4L192.5 98.9L193.7 100.3L194.9 101.6L196 103L197.2 104.2L198.3 105.5L199.5 106.7L200.6 107.9L201.8 109L202.9 110.1L204.1 111.1L205.3 112.1L206.4 113L207.6 114L208.7 115L209.9 116.1L211 117.2L212.2 118.3L213.3 119.4L214.5 120.5L215.6 121.7L216.8 122.8L218 124L219.1 125.1L220.3 126.3L221.4 127.5L222.6 128.6L223.7 129.8L224.9 131L226 132.2L227.2 133.4L228.4 134.5L229.5 135.7L230.7 136.8L231.8 137.8L233 138.9L234.1 139.9L235.3 141L236.4 142L237.6 143L238.8 144L239.9 145L241.1 146.1L242.2 147.1L243.4 148.2L244.5 149.2L245.7 150.3L246.8 151.4L248 152.4L249.1 153.5L250.3 154.5L251.5 155.4L252.6 156.4L253.8 157.3L254.9 158.2L256.1 159.1L257.2 159.9L258.4 160.8L259.5 161.8L260.7 162.7L261.9 163.7L263 164.8L264.2 166L265.3 167.1L266.5 168.2L267.6 169.3L268.8 170.4L269.9 171.5L271.1 172.4L272.3 173.1L273.4 173.6L274.6 174L275.7 174.3L276.9 174.6L278 174.7L279.2 174.6L280.3 174.4L281.5 174L282.7 173.6L283.8 173.4L285 173.5L286.1 174.4L287.3 175.9L288.4 177.6L289.6 179.4L290.7 181L291.9 182.9L293 184.8L294.2 186.8L295.4 188.6L296.5 190.1L297.7 191.6L298.8 193L300 194.3L301.1 195.4L302.3 196.4L303.4 197.3L304.6 198.1L305.8 198.9L306.9 199.6L308.1 200.3L309.2 200.9L310.4 201.5L311.5 202.2L312.7 202.8L313.8 203.4L315 204L316.2 204.6L317.3 205.1L318.5 205.7L319.6 206.2L320.8 206.7L321.9 207.2L323.1 207.7L324.2 208.2" fill="none" stroke="#FF8000" stroke-width="1.4" stroke-dasharray="7.6 3.2 2 2.9"/>
</g>
<g font-family='"Liberation Sans", sans-serif' font-size="16.8">
<text x="93.7" y="238.3" text-anchor="middle">1.5</text>
<text x="151.4" y="238.3" text-anchor="middle">2.0</text>
<text x="209.2" y="238.3" text-anchor="middle">2.5</text>
<text x="266.9" y="238.3" text-anchor="middle">3.0</text>
<text x="324.7" y="238.3" text-anchor="middle">3.5</text>
<text x="51" y="221.2" text-anchor="end">0.0</text>
<text x="51" y="168.9" text-anchor="end">0.5</text>
<text x="51" y="116.7" text-anchor="end">1.0</text>
<text x="51" y="64.5" text-anchor="end">1.5</text>
<text x="51" y="12.2" text-anchor="end">2.0</text>
</g>
<text x="195" y="257.3" font-family='"Liberation Serif", serif' font-weight="bold" font-size="19.5" text-anchor="middle">Energy(eV)</text>
<text transform="translate(20.5 112) rotate(-90)" font-family='"Liberation Serif", serif' font-weight="bold" font-size="19.1" text-anchor="middle">IL Intensity(<tspan font-weight="normal">&#215;10</tspan><tspan font-weight="normal" font-size="11.5" dy="-8.3">4</tspan><tspan dy="8.3">a.u./eV)</tspan></text>
<text x="61.8" y="33.8" font-family='"Liberation Serif", serif' font-size="26">(a)</text>
<g font-family='"Liberation Sans", sans-serif' font-size="15">
<circle cx="247.9" cy="22.8" r="2.4" fill="none" stroke="#555" stroke-width="0.9"/>
<text x="269.2" y="28.2">30s</text>
<path d="M230.1 41.9H265.7" stroke="#FF0000" stroke-width="1.8" stroke-dasharray="7.6 3.2 2 2.9"/>
<text x="269.2" y="47.3">3.17eV</text>
<path d="M230.1 61H265.7" stroke="#FF00FF" stroke-width="1.8" stroke-dasharray="7.6 3.2 2 2.9"/>
<text x="269.2" y="66.4">2.83eV</text>
<path d="M230.1 80.1H265.7" stroke="#2A8C8C" stroke-width="1.8" stroke-dasharray="7.6 3.2 2 2.9"/>
<text x="269.2" y="85.5">2.52eV</text>
<path d="M230.1 99.2H265.7" stroke="#0000FF" stroke-width="1.8" stroke-dasharray="7.6 3.2 2 2.9"/>
<text x="269.2" y="104.6">2.01eV</text>
<path d="M230.1 118.3H265.7" stroke="#1F8A1F" stroke-width="1.8" stroke-dasharray="7.6 3.2 2 2.9"/>
<text x="269.2" y="123.7">1.68eV</text>
<path d="M230.1 137.4H265.7" stroke="#FF8000" stroke-width="1.8" stroke-dasharray="7.6 3.2 2 2.9"/>
<text x="269.2" y="142.8">Cumu.</text>
</g>
<clipPath id="cpb"><rect x="405" y="12.4" width="265.5" height="210.6"/></clipPath>
<g clip-path="url(#cpb)">
<g fill="#fff" stroke="#111" stroke-width="0.8"><path d="M408.9 217L411.4 218.8L410.5 221.8L407.4 221.8L406.4 218.8Z"/><path d="M408.8 216.2L411.4 218L410.4 221L407.3 221L406.3 218Z"/><path d="M409.7 216.9L412.2 218.7L411.2 221.6L408.1 221.6L407.2 218.7Z"/><path d="M409.8 215.6L412.3 217.5L411.3 220.4L408.2 220.4L407.3 217.5Z"/><path d="M410.2 215.1L412.7 216.9L411.8 219.8L408.7 219.8L407.7 216.9Z"/><path d="M410.1 215.5L412.6 217.3L411.6 220.3L408.5 220.3L407.6 217.3Z"/><path d="M410.3 215.2L412.9 217L411.9 220L408.8 220L407.8 217Z"/><path d="M411 215.8L413.5 217.7L412.6 220.6L409.5 220.6L408.5 217.7Z"/><path d="M411.4 214.8L413.9 216.6L412.9 219.6L409.8 219.6L408.9 216.6Z"/><path d="M411.8 215.4L414.3 217.2L413.3 220.1L410.2 220.1L409.2 217.2Z"/><path d="M411.9 213.9L414.4 215.7L413.5 218.6L410.4 218.6L409.4 215.7Z"/><path d="M411.9 214.6L414.4 216.4L413.5 219.4L410.4 219.4L409.4 216.4Z"/><path d="M412.3 214.3L414.8 216.1L413.8 219L410.7 219L409.8 216.1Z"/><path d="M412.6 213.5L415.1 215.3L414.2 218.2L411.1 218.2L410.1 215.3Z"/><path d="M412.7 214.3L415.2 216.1L414.2 219.1L411.1 219.1L410.2 216.1Z"/><path d="M413.2 214.2L415.7 216L414.8 218.9L411.7 218.9L410.7 216Z"/><path d="M413.7 214L416.2 215.8L415.3 218.8L412.2 218.8L411.2 215.8Z"/><path d="M413.7 212.8L416.3 214.6L415.3 217.6L412.2 217.6L411.2 214.6Z"/><path d="M414.2 212.4L416.7 214.2L415.8 217.2L412.7 217.2L411.7 214.2Z"/><path d="M414.3 212.7L416.9 214.5L415.9 217.4L412.8 217.4L411.8 214.5Z"/><path d="M414.9 212.4L417.4 214.2L416.4 217.2L413.3 217.2L412.4 214.2Z"/><path d="M414.8 212.3L417.3 214.2L416.4 217.1L413.3 217.1L412.3 214.2Z"/><path d="M415.3 211.8L417.8 213.7L416.8 216.6L413.7 216.6L412.7 213.7Z"/><path d="M415.6 211.4L418.1 213.3L417.2 216.2L414.1 216.2L413.1 213.3Z"/><path d="M416.3 210.6L418.8 212.5L417.8 215.4L414.7 215.4L413.8 212.5Z"/><path d="M416.1 210.3L418.6 212.1L417.6 215L414.5 215L413.6 212.1Z"/><path d="M416.8 210.1L419.4 211.9L418.4 214.8L415.3 214.8L414.3 211.9Z"/><path d="M416.9 210.9L419.4 212.7L418.4 215.7L415.3 215.7L414.4 212.7Z"/><path d="M417.5 210L420 211.8L419 214.8L415.9 214.8L415 211.8Z"/><path d="M417.6 209.4L420.2 211.3L419.2 214.2L416.1 214.2L415.1 211.3Z"/><path d="M418 209.7L420.5 211.5L419.6 214.5L416.5 214.5L415.5 211.5Z"/><path d="M418 209.3L420.5 211.1L419.5 214L416.4 214L415.5 211.1Z"/><path d="M418.5 208.6L421 210.4L420.1 213.4L417 213.4L416 210.4Z"/><path d="M419.1 208.1L421.6 209.9L420.7 212.9L417.6 212.9L416.6 209.9Z"/><path d="M419.1 207L421.6 208.8L420.6 211.8L417.5 211.8L416.6 208.8Z"/><path d="M419.6 207.1L422.1 209L421.1 211.9L418 211.9L417.1 209Z"/><path d="M419.6 206.6L422.1 208.4L421.1 211.4L418 211.4L417 208.4Z"/><path d="M420.2 206.2L422.7 208L421.8 211L418.7 211L417.7 208Z"/><path d="M420.3 204.6L422.8 206.4L421.8 209.4L418.7 209.4L417.8 206.4Z"/><path d="M420.7 205.5L423.2 207.3L422.3 210.2L419.1 210.2L418.2 207.3Z"/><path d="M421 204.4L423.5 206.2L422.6 209.1L419.5 209.1L418.5 206.2Z"/><path d="M421.8 203.1L424.3 204.9L423.3 207.8L420.2 207.8L419.3 204.9Z"/><path d="M421.9 204L424.4 205.8L423.5 208.8L420.4 208.8L419.4 205.8Z"/><path d="M422 202.2L424.5 204.1L423.6 207L420.5 207L419.5 204.1Z"/><path d="M422.7 202.2L425.2 204.1L424.3 207L421.2 207L420.2 204.1Z"/><path d="M422.7 202.8L425.2 204.6L424.3 207.5L421.2 207.5L420.2 204.6Z"/><path d="M423.1 201.7L425.6 203.5L424.6 206.4L421.5 206.4L420.5 203.5Z"/><path d="M423.3 200.3L425.8 202.1L424.9 205L421.8 205L420.8 202.1Z"/><path d="M424.2 200L426.7 201.8L425.7 204.8L422.6 204.8L421.7 201.8Z"/><path d="M424 199.3L426.5 201.1L425.6 204.1L422.5 204.1L421.5 201.1Z"/><path d="M424.6 199.2L427.1 201L426.1 204L423 204L422 201Z"/><path d="M425.1 198.4L427.6 200.2L426.7 203.2L423.6 203.2L422.6 200.2Z"/><path d="M425.4 198.6L427.9 200.5L426.9 203.4L423.8 203.4L422.9 200.5Z"/><path d="M425.7 198.6L428.2 200.4L427.3 203.4L424.2 203.4L423.2 200.4Z"/><path d="M426.1 197.7L428.6 199.5L427.6 202.5L424.5 202.5L423.6 199.5Z"/><path d="M426.3 196.3L428.8 198.1L427.9 201.1L424.8 201.1L423.8 198.1Z"/><path d="M426.8 197.2L429.3 199.1L428.3 202L425.2 202L424.3 199.1Z"/><path d="M427.2 196.6L429.7 198.4L428.7 201.4L425.6 201.4L424.7 198.4Z"/><path d="M427.4 195.4L429.9 197.2L429 200.2L425.9 200.2L424.9 197.2Z"/><path d="M427.5 195.2L430 197L429.1 199.9L426 199.9L425 197Z"/><path d="M428 195.2L430.5 197L429.6 200L426.5 200L425.5 197Z"/><path d="M428.8 194L431.3 195.8L430.3 198.8L427.2 198.8L426.3 195.8Z"/><path d="M428.9 194.5L431.4 196.3L430.5 199.3L427.4 199.3L426.4 196.3Z"/><path d="M429.3 193.8L431.8 195.6L430.8 198.6L427.7 198.6L426.8 195.6Z"/><path d="M429.8 193.4L432.3 195.3L431.3 198.2L428.2 198.2L427.3 195.3Z"/><path d="M429.8 192.7L432.4 194.6L431.4 197.5L428.3 197.5L427.3 194.6Z"/><path d="M430.6 193L433.1 194.9L432.1 197.8L429 197.8L428.1 194.9Z"/><path d="M430.8 192.7L433.3 194.5L432.3 197.5L429.2 197.5L428.3 194.5Z"/><path d="M431 191.2L433.5 193.1L432.6 196L429.5 196L428.5 193.1Z"/><path d="M431.6 192L434.1 193.8L433.1 196.7L430 196.7L429.1 193.8Z"/><path d="M432.1 192L434.6 193.9L433.6 196.8L430.5 196.8L429.6 193.9Z"/><path d="M432.2 191.7L434.7 193.5L433.8 196.5L430.7 196.5L429.7 193.5Z"/><path d="M432.6 190.9L435.1 192.8L434.2 195.7L431.1 195.7L430.1 192.8Z"/><path d="M433.1 190.7L435.7 192.6L434.7 195.5L431.6 195.5L430.6 192.6Z"/><path d="M433.7 189.9L436.2 191.8L435.3 194.7L432.2 194.7L431.2 191.8Z"/><path d="M433.7 189.4L436.2 191.2L435.3 194.1L432.2 194.1L431.2 191.2Z"/><path d="M434.2 189.5L436.8 191.3L435.8 194.2L432.7 194.2L431.7 191.3Z"/><path d="M434.6 189.4L437.1 191.2L436.2 194.2L433.1 194.2L432.1 191.2Z"/><path d="M434.9 188.6L437.4 190.5L436.5 193.4L433.4 193.4L432.4 190.5Z"/><path d="M435.4 188.9L437.9 190.8L436.9 193.7L433.8 193.7L432.9 190.8Z"/><path d="M435.8 188L438.3 189.9L437.4 192.8L434.3 192.8L433.3 189.9Z"/><path d="M436.2 187.9L438.7 189.7L437.8 192.7L434.7 192.7L433.7 189.7Z"/><path d="M436.5 188.6L439 190.4L438.1 193.3L435 193.3L434 190.4Z"/><path d="M437.1 187.1L439.6 188.9L438.6 191.8L435.5 191.8L434.6 188.9Z"/><path d="M437.4 186.9L439.9 188.7L439 191.7L435.9 191.7L434.9 188.7Z"/><path d="M438 186.5L440.5 188.4L439.5 191.3L436.4 191.3L435.4 188.4Z"/><path d="M438 186L440.5 187.8L439.6 190.8L436.5 190.8L435.5 187.8Z"/><path d="M438.7 187L441.2 188.9L440.2 191.8L437.1 191.8L436.2 188.9Z"/><path d="M438.8 185.3L441.3 187.1L440.3 190.1L437.2 190.1L436.3 187.1Z"/><path d="M439.4 186.2L441.9 188.1L440.9 191L437.8 191L436.8 188.1Z"/><path d="M440 185L442.5 186.8L441.5 189.8L438.4 189.8L437.4 186.8Z"/><path d="M440.6 184.5L443.1 186.4L442.1 189.3L439 189.3L438.1 186.4Z"/><path d="M440.5 183.7L443 185.5L442.1 188.4L439 188.4L438 185.5Z"/><path d="M441.2 182.7L443.8 184.6L442.8 187.5L439.7 187.5L438.7 184.6Z"/><path d="M441.6 182.3L444.1 184.1L443.2 187.1L440.1 187.1L439.1 184.1Z"/><path d="M441.9 182L444.4 183.9L443.4 186.8L440.3 186.8L439.3 183.9Z"/><path d="M442.5 180.6L445 182.4L444 185.4L440.9 185.4L440 182.4Z"/><path d="M443.1 178.9L445.6 180.7L444.7 183.7L441.6 183.7L440.6 180.7Z"/><path d="M443.2 176.5L445.7 178.4L444.7 181.3L441.6 181.3L440.7 178.4Z"/><path d="M443.6 174.1L446.1 175.9L445.2 178.9L442.1 178.9L441.1 175.9Z"/><path d="M444 172.6L446.5 174.4L445.6 177.3L442.5 177.3L441.5 174.4Z"/><path d="M444.9 171.3L447.4 173.1L446.4 176.1L443.3 176.1L442.3 173.1Z"/><path d="M445.4 170.2L447.9 172L446.9 175L443.8 175L442.9 172Z"/><path d="M445.5 167.3L448 169.2L447 172.1L443.9 172.1L442.9 169.2Z"/><path d="M446.3 166.1L448.8 168L447.8 170.9L444.7 170.9L443.8 168Z"/><path d="M446.5 165.4L449 167.2L448.1 170.2L445 170.2L444 167.2Z"/><path d="M446.8 164.4L449.3 166.2L448.3 169.2L445.2 169.2L444.3 166.2Z"/><path d="M447.4 163.4L449.9 165.3L448.9 168.2L445.8 168.2L444.9 165.3Z"/><path d="M447.8 161.5L450.3 163.4L449.3 166.3L446.2 166.3L445.3 163.4Z"/><path d="M448.4 160.1L450.9 162L449.9 164.9L446.8 164.9L445.9 162Z"/><path d="M448.9 159.1L451.4 160.9L450.4 163.9L447.3 163.9L446.4 160.9Z"/><path d="M449.2 158.9L451.7 160.7L450.7 163.7L447.6 163.7L446.7 160.7Z"/><path d="M449.8 158L452.3 159.8L451.4 162.7L448.3 162.7L447.3 159.8Z"/><path d="M450 156.7L452.5 158.5L451.6 161.5L448.5 161.5L447.5 158.5Z"/><path d="M450.4 155.7L452.9 157.6L451.9 160.5L448.8 160.5L447.8 157.6Z"/><path d="M451.1 153.5L453.6 155.3L452.6 158.3L449.5 158.3L448.6 155.3Z"/><path d="M451.8 152.5L454.3 154.4L453.3 157.3L450.2 157.3L449.3 154.4Z"/><path d="M452.1 151.7L454.6 153.5L453.7 156.4L450.6 156.4L449.6 153.5Z"/><path d="M452.4 149.7L454.9 151.5L453.9 154.5L450.8 154.5L449.8 151.5Z"/><path d="M452.9 149.2L455.4 151L454.4 154L451.3 154L450.4 151Z"/><path d="M453.3 147.2L455.8 149L454.8 152L451.7 152L450.7 149Z"/><path d="M454.1 146.9L456.6 148.7L455.7 151.7L452.6 151.7L451.6 148.7Z"/><path d="M454.6 145.7L457.1 147.5L456.2 150.5L453.1 150.5L452.1 147.5Z"/><path d="M455.1 143.8L457.6 145.6L456.6 148.5L453.5 148.5L452.5 145.6Z"/><path d="M455.6 142.5L458.1 144.4L457.2 147.3L454.1 147.3L453.1 144.4Z"/><path d="M456.2 141.6L458.8 143.4L457.8 146.4L454.7 146.4L453.7 143.4Z"/><path d="M456.3 139.5L458.8 141.3L457.9 144.2L454.8 144.2L453.8 141.3Z"/><path d="M457 138.3L459.5 140.1L458.5 143.1L455.4 143.1L454.5 140.1Z"/><path d="M457.3 137.5L459.8 139.3L458.9 142.3L455.8 142.3L454.8 139.3Z"/><path d="M458.2 136.4L460.8 138.2L459.8 141.2L456.7 141.2L455.7 138.2Z"/><path d="M458.4 133.9L460.9 135.7L460 138.7L456.8 138.7L455.9 135.7Z"/><path d="M458.7 132.4L461.3 134.3L460.3 137.2L457.2 137.2L456.2 134.3Z"/><path d="M459.3 132.5L461.8 134.3L460.8 137.3L457.7 137.3L456.8 134.3Z"/><path d="M459.9 130.2L462.5 132L461.5 135L458.4 135L457.4 132Z"/><path d="M460.5 129.4L463 131.2L462 134.2L458.9 134.2L458 131.2Z"/><path d="M461.3 126.5L463.8 128.4L462.9 131.3L459.8 131.3L458.8 128.4Z"/><path d="M461.5 125L464 126.8L463.1 129.8L460 129.8L459 126.8Z"/><path d="M462.1 123.1L464.6 125L463.7 127.9L460.6 127.9L459.6 125Z"/><path d="M462.9 122.2L465.4 124L464.5 127L461.4 127L460.4 124Z"/><path d="M463.1 120.4L465.6 122.2L464.6 125.2L461.5 125.2L460.6 122.2Z"/><path d="M463.8 118L466.4 119.8L465.4 122.8L462.3 122.8L461.3 119.8Z"/><path d="M464.4 116.1L466.9 117.9L465.9 120.9L462.8 120.9L461.9 117.9Z"/><path d="M465 113.7L467.5 115.5L466.5 118.5L463.4 118.5L462.5 115.5Z"/><path d="M465.8 112.6L468.3 114.4L467.3 117.4L464.2 117.4L463.3 114.4Z"/><path d="M466.1 109.8L468.6 111.6L467.6 114.6L464.5 114.6L463.6 111.6Z"/><path d="M466.7 107.6L469.2 109.4L468.2 112.4L465.1 112.4L464.2 109.4Z"/><path d="M467.4 104.5L469.9 106.4L468.9 109.3L465.8 109.3L464.8 106.4Z"/><path d="M467.5 102.5L470 104.3L469 107.3L465.9 107.3L465 104.3Z"/><path d="M468.2 99.8L470.7 101.6L469.7 104.6L466.6 104.6L465.6 101.6Z"/><path d="M468.6 97.4L471.1 99.2L470.1 102.1L467 102.1L466.1 99.2Z"/><path d="M469.4 95.2L471.9 97L471 99.9L467.9 99.9L466.9 97Z"/><path d="M469.8 93.2L472.3 95.1L471.4 98L468.3 98L467.3 95.1Z"/><path d="M470.8 90.3L473.3 92.1L472.4 95L469.3 95L468.3 92.1Z"/><path d="M471.2 87.4L473.7 89.2L472.8 92.2L469.7 92.2L468.7 89.2Z"/><path d="M471.6 85.1L474.1 86.9L473.2 89.8L470.1 89.8L469.1 86.9Z"/><path d="M472.2 82.8L474.7 84.7L473.8 87.6L470.6 87.6L469.7 84.7Z"/><path d="M473 81.2L475.5 83L474.5 86L471.4 86L470.5 83Z"/><path d="M473.7 79.2L476.2 81L475.3 83.9L472.2 83.9L471.2 81Z"/><path d="M474.3 76.9L476.8 78.7L475.9 81.6L472.8 81.6L471.8 78.7Z"/><path d="M475 75L477.5 76.8L476.6 79.8L473.5 79.8L472.5 76.8Z"/><path d="M475.4 72.5L477.9 74.3L477 77.2L473.8 77.2L472.9 74.3Z"/><path d="M475.7 70.1L478.2 71.9L477.3 74.8L474.2 74.8L473.2 71.9Z"/><path d="M476.8 68.1L479.3 70L478.4 72.9L475.3 72.9L474.3 70Z"/><path d="M477.3 65.8L479.8 67.7L478.9 70.6L475.8 70.6L474.8 67.7Z"/><path d="M477.7 64.5L480.2 66.3L479.3 69.2L476.1 69.2L475.2 66.3Z"/><path d="M478.5 61.6L481 63.5L480.1 66.4L477 66.4L476 63.5Z"/><path d="M479 60L481.5 61.8L480.6 64.7L477.5 64.7L476.5 61.8Z"/><path d="M479.4 57.2L481.9 59.1L480.9 62L477.8 62L476.9 59.1Z"/><path d="M480.2 56.3L482.7 58.1L481.7 61.1L478.6 61.1L477.7 58.1Z"/><path d="M481.1 53.5L483.6 55.3L482.7 58.2L479.6 58.2L478.6 55.3Z"/><path d="M481.6 52.2L484.2 54L483.2 56.9L480.1 56.9L479.1 54Z"/><path d="M482.5 50.1L485 51.9L484.1 54.9L481 54.9L480 51.9Z"/><path d="M483 49.4L485.5 51.2L484.6 54.2L481.4 54.2L480.5 51.2Z"/><path d="M483.4 47.6L485.9 49.4L484.9 52.3L481.8 52.3L480.8 49.4Z"/><path d="M484.3 46L486.8 47.9L485.9 50.8L482.8 50.8L481.8 47.9Z"/><path d="M485.2 44.1L487.7 45.9L486.7 48.9L483.6 48.9L482.7 45.9Z"/><path d="M485.6 43.5L488.1 45.3L487.1 48.3L484 48.3L483 45.3Z"/><path d="M486.3 42.2L488.8 44L487.8 47L484.7 47L483.8 44Z"/><path d="M487.1 41.2L489.6 43.1L488.6 46L485.5 46L484.6 43.1Z"/><path d="M487.3 39.9L489.8 41.7L488.9 44.6L485.8 44.6L484.8 41.7Z"/><path d="M488.5 38.9L491 40.8L490.1 43.7L487 43.7L486 40.8Z"/><path d="M488.8 37.2L491.3 39L490.3 42L487.2 42L486.3 39Z"/><path d="M489.5 36.7L492 38.5L491 41.4L487.9 41.4L487 38.5Z"/><path d="M490.2 34.7L492.7 36.5L491.8 39.5L488.7 39.5L487.7 36.5Z"/><path d="M491.1 34.2L493.6 36L492.7 39L489.6 39L488.6 36Z"/><path d="M491.6 34L494.1 35.8L493.1 38.8L490 38.8L489.1 35.8Z"/><path d="M492.7 32.9L495.2 34.7L494.2 37.7L491.1 37.7L490.2 34.7Z"/><path d="M493.4 32.2L496 34L495 37L491.9 37L490.9 34Z"/><path d="M493.6 30.3L496.1 32.1L495.2 35.1L492.1 35.1L491.1 32.1Z"/><path d="M494.7 30.7L497.2 32.5L496.3 35.5L493.2 35.5L492.2 32.5Z"/><path d="M495.2 29.7L497.7 31.5L496.8 34.5L493.7 34.5L492.7 31.5Z"/><path d="M495.9 29L498.4 30.8L497.5 33.7L494.4 33.7L493.4 30.8Z"/><path d="M496.7 28.4L499.2 30.3L498.3 33.2L495.2 33.2L494.2 30.3Z"/><path d="M497.6 29.8L500.1 31.6L499.1 34.6L496 34.6L495.1 31.6Z"/><path d="M498.1 28.9L500.6 30.7L499.6 33.7L496.5 33.7L495.6 30.7Z"/><path d="M499.1 28.5L501.6 30.3L500.7 33.3L497.5 33.3L496.6 30.3Z"/><path d="M499.7 29.6L502.2 31.4L501.2 34.4L498.1 34.4L497.2 31.4Z"/><path d="M500.8 29.6L503.3 31.4L502.3 34.4L499.2 34.4L498.3 31.4Z"/><path d="M501.5 29.3L504 31.1L503 34.1L499.9 34.1L498.9 31.1Z"/><path d="M501.9 30.7L504.4 32.5L503.4 35.5L500.3 35.5L499.4 32.5Z"/><path d="M502.9 30.5L505.4 32.3L504.5 35.2L501.4 35.2L500.4 32.3Z"/><path d="M504 31L506.5 32.8L505.5 35.8L502.4 35.8L501.5 32.8Z"/><path d="M504.6 31.9L507.1 33.7L506.2 36.7L503.1 36.7L502.1 33.7Z"/><path d="M505.6 32.6L508.1 34.4L507.1 37.4L504 37.4L503.1 34.4Z"/><path d="M506.2 34.8L508.7 36.6L507.7 39.5L504.6 39.5L503.7 36.6Z"/><path d="M506.7 36.7L509.2 38.5L508.3 41.5L505.2 41.5L504.2 38.5Z"/><path d="M507.9 37.5L510.4 39.3L509.4 42.3L506.3 42.3L505.4 39.3Z"/><path d="M508.5 39.8L511 41.6L510 44.6L506.9 44.6L506 41.6Z"/><path d="M509.3 41.7L511.8 43.5L510.8 46.5L507.7 46.5L506.8 43.5Z"/><path d="M509.9 42.2L512.4 44L511.5 46.9L508.4 46.9L507.4 44Z"/><path d="M511.1 44.1L513.6 45.9L512.7 48.8L509.6 48.8L508.6 45.9Z"/><path d="M511.8 45.5L514.3 47.3L513.4 50.3L510.3 50.3L509.3 47.3Z"/><path d="M512.9 47L515.4 48.9L514.5 51.8L511.4 51.8L510.4 48.9Z"/><path d="M513.3 47.7L515.8 49.6L514.8 52.5L511.7 52.5L510.8 49.6Z"/><path d="M514.6 49.7L517.1 51.5L516.2 54.5L513.1 54.5L512.1 51.5Z"/><path d="M515.1 51.7L517.6 53.5L516.7 56.5L513.6 56.5L512.6 53.5Z"/><path d="M516 53.1L518.5 54.9L517.5 57.9L514.4 57.9L513.5 54.9Z"/><path d="M516.9 54L519.4 55.9L518.4 58.8L515.3 58.8L514.4 55.9Z"/><path d="M517.6 55.7L520.2 57.5L519.2 60.5L516.1 60.5L515.1 57.5Z"/><path d="M518.6 57.1L521.1 59L520.2 61.9L517.1 61.9L516.1 59Z"/><path d="M519.5 58.7L522 60.6L521 63.5L517.9 63.5L517 60.6Z"/><path d="M520.8 60.3L523.4 62.2L522.4 65.1L519.3 65.1L518.3 62.2Z"/><path d="M521.7 63.1L524.2 64.9L523.3 67.9L520.2 67.9L519.2 64.9Z"/><path d="M522.3 65L524.8 66.9L523.8 69.8L520.7 69.8L519.8 66.9Z"/><path d="M523.1 65.9L525.6 67.7L524.6 70.7L521.5 70.7L520.6 67.7Z"/><path d="M524 68.8L526.5 70.6L525.5 73.6L522.4 73.6L521.5 70.6Z"/><path d="M525.1 70L527.6 71.8L526.6 74.8L523.5 74.8L522.6 71.8Z"/><path d="M526.4 72.3L528.9 74.2L527.9 77.1L524.8 77.1L523.9 74.2Z"/><path d="M526.8 73.7L529.3 75.5L528.4 78.5L525.3 78.5L524.3 75.5Z"/><path d="M527.8 75.5L530.3 77.3L529.4 80.3L526.2 80.3L525.3 77.3Z"/><path d="M528.9 78.1L531.4 80L530.5 82.9L527.3 82.9L526.4 80Z"/><path d="M529.7 80.1L532.2 81.9L531.2 84.9L528.1 84.9L527.2 81.9Z"/><path d="M530.9 82.1L533.4 83.9L532.5 86.8L529.4 86.8L528.4 83.9Z"/><path d="M531.8 84.1L534.3 85.9L533.3 88.9L530.2 88.9L529.3 85.9Z"/><path d="M532.6 85.1L535.1 86.9L534.2 89.9L531.1 89.9L530.1 86.9Z"/><path d="M533.6 87.3L536.1 89.2L535.2 92.1L532.1 92.1L531.1 89.2Z"/><path d="M535 90.1L537.5 91.9L536.6 94.9L533.5 94.9L532.5 91.9Z"/><path d="M535.9 92.6L538.5 94.5L537.5 97.4L534.4 97.4L533.4 94.5Z"/><path d="M536.8 95L539.3 96.8L538.3 99.8L535.2 99.8L534.3 96.8Z"/><path d="M537.9 96.1L540.4 97.9L539.4 100.8L536.3 100.8L535.4 97.9Z"/><path d="M539 98.7L541.5 100.5L540.5 103.5L537.4 103.5L536.5 100.5Z"/><path d="M540.1 100.3L542.6 102.2L541.7 105.1L538.6 105.1L537.6 102.2Z"/><path d="M541.2 102.5L543.7 104.3L542.7 107.2L539.6 107.2L538.6 104.3Z"/><path d="M542.3 104.6L544.8 106.5L543.8 109.4L540.7 109.4L539.8 106.5Z"/><path d="M543.1 107L545.6 108.8L544.6 111.7L541.5 111.7L540.6 108.8Z"/><path d="M544.2 107.9L546.7 109.7L545.7 112.7L542.6 112.7L541.7 109.7Z"/><path d="M545.4 109L547.9 110.9L547 113.8L543.9 113.8L542.9 110.9Z"/><path d="M546.5 109.9L549 111.7L548.1 114.6L545 114.6L544 111.7Z"/><path d="M547.6 111.4L550.2 113.2L549.2 116.2L546.1 116.2L545.1 113.2Z"/><path d="M548.7 112.4L551.2 114.3L550.3 117.2L547.2 117.2L546.2 114.3Z"/><path d="M549.9 113.7L552.4 115.5L551.4 118.5L548.3 118.5L547.3 115.5Z"/><path d="M551.1 115.1L553.6 117L552.6 119.9L549.5 119.9L548.6 117Z"/><path d="M552.2 117.3L554.7 119.1L553.7 122L550.6 122L549.6 119.1Z"/><path d="M553.4 118.1L555.9 120L555 122.9L551.9 122.9L550.9 120Z"/><path d="M554.5 119L557 120.8L556 123.7L552.9 123.7L552 120.8Z"/><path d="M555.3 120.3L557.9 122.1L556.9 125.1L553.8 125.1L552.8 122.1Z"/><path d="M556.9 120.9L559.4 122.8L558.4 125.7L555.3 125.7L554.4 122.8Z"/><path d="M557.8 123.1L560.3 124.9L559.4 127.8L556.3 127.8L555.3 124.9Z"/><path d="M558.7 124.4L561.2 126.2L560.3 129.1L557.2 129.1L556.2 126.2Z"/><path d="M560.2 124.9L562.8 126.7L561.8 129.7L558.7 129.7L557.7 126.7Z"/><path d="M561.6 126.3L564.1 128.1L563.2 131.1L560 131.1L559.1 128.1Z"/><path d="M562.4 127.3L564.9 129.1L563.9 132.1L560.8 132.1L559.9 129.1Z"/><path d="M564.1 129.3L566.6 131.1L565.6 134.1L562.5 134.1L561.6 131.1Z"/><path d="M565.1 130.7L567.6 132.5L566.6 135.5L563.5 135.5L562.6 132.5Z"/><path d="M566.3 132.7L568.8 134.5L567.9 137.5L564.8 137.5L563.8 134.5Z"/><path d="M567.7 133.5L570.2 135.3L569.3 138.3L566.2 138.3L565.2 135.3Z"/><path d="M569 135.8L571.5 137.7L570.6 140.6L567.5 140.6L566.5 137.7Z"/><path d="M570.2 136.8L572.7 138.6L571.7 141.5L568.6 141.5L567.7 138.6Z"/><path d="M571.2 138L573.7 139.8L572.7 142.7L569.6 142.7L568.7 139.8Z"/><path d="M572.9 140.7L575.4 142.6L574.4 145.5L571.3 145.5L570.4 142.6Z"/><path d="M574.1 141.8L576.6 143.6L575.7 146.6L572.6 146.6L571.6 143.6Z"/><path d="M575.7 143.5L578.2 145.3L577.2 148.2L574.1 148.2L573.2 145.3Z"/><path d="M577 144.6L579.6 146.4L578.6 149.4L575.5 149.4L574.5 146.4Z"/><path d="M578.4 146L580.9 147.8L579.9 150.8L576.8 150.8L575.8 147.8Z"/><path d="M579.5 147.2L582 149.1L581.1 152L578 152L577 149.1Z"/><path d="M580.9 149.6L583.4 151.4L582.5 154.4L579.4 154.4L578.4 151.4Z"/><path d="M582.2 149.6L584.7 151.5L583.7 154.4L580.6 154.4L579.7 151.5Z"/><path d="M583.5 150.7L586 152.6L585.1 155.5L582 155.5L581 152.6Z"/><path d="M585 153.3L587.5 155.2L586.5 158.1L583.4 158.1L582.5 155.2Z"/><path d="M586.7 154.7L589.2 156.5L588.3 159.5L585.1 159.5L584.2 156.5Z"/><path d="M587.9 154.4L590.4 156.3L589.4 159.2L586.3 159.2L585.4 156.3Z"/><path d="M589.3 156.7L591.8 158.5L590.8 161.5L587.7 161.5L586.7 158.5Z"/><path d="M590.6 157.3L593.1 159.2L592.2 162.1L589 162.1L588.1 159.2Z"/><path d="M592 159.6L594.6 161.5L593.6 164.4L590.5 164.4L589.5 161.5Z"/><path d="M593.7 161.6L596.2 163.4L595.3 166.3L592.2 166.3L591.2 163.4Z"/><path d="M595.2 163.1L597.7 164.9L596.8 167.9L593.7 167.9L592.7 164.9Z"/><path d="M596.6 163.7L599.1 165.5L598.1 168.5L595 168.5L594.1 165.5Z"/><path d="M598.6 165.7L601.1 167.6L600.1 170.5L597 170.5L596.1 167.6Z"/><path d="M599.6 167.3L602.1 169.2L601.2 172.1L598.1 172.1L597.1 169.2Z"/><path d="M601.4 168.5L603.9 170.3L603 173.2L599.9 173.2L598.9 170.3Z"/><path d="M603.1 169.2L605.6 171L604.7 173.9L601.6 173.9L600.6 171Z"/><path d="M604.9 171.5L607.4 173.3L606.5 176.3L603.3 176.3L602.4 173.3Z"/><path d="M606.2 172.6L608.7 174.5L607.8 177.4L604.7 177.4L603.7 174.5Z"/><path d="M608.1 173.2L610.6 175L609.6 178L606.5 178L605.5 175Z"/><path d="M609.4 174.9L611.9 176.7L611 179.6L607.9 179.6L606.9 176.7Z"/><path d="M610.9 176.1L613.4 177.9L612.5 180.8L609.4 180.8L608.4 177.9Z"/><path d="M612.5 176.9L615 178.7L614 181.7L610.9 181.7L610 178.7Z"/><path d="M614.2 177.3L616.7 179.1L615.8 182.1L612.7 182.1L611.7 179.1Z"/><path d="M616.4 178.5L618.9 180.4L617.9 183.3L614.8 183.3L613.8 180.4Z"/><path d="M617.7 179L620.2 180.8L619.2 183.8L616.1 183.8L615.1 180.8Z"/><path d="M619.8 179.6L622.3 181.4L621.4 184.4L618.3 184.4L617.3 181.4Z"/><path d="M621.6 180.2L624.1 182L623.2 185L620.1 185L619.1 182Z"/><path d="M623.3 180.1L625.8 181.9L624.8 184.9L621.7 184.9L620.8 181.9Z"/><path d="M624.6 180.9L627.2 182.8L626.2 185.7L623.1 185.7L622.1 182.8Z"/><path d="M626.8 182.8L629.3 184.7L628.4 187.6L625.3 187.6L624.3 184.7Z"/><path d="M628.3 183.1L630.8 184.9L629.8 187.9L626.7 187.9L625.8 184.9Z"/><path d="M630.3 183.8L632.8 185.6L631.9 188.5L628.8 188.5L627.8 185.6Z"/><path d="M632.5 184.9L635 186.7L634 189.6L630.9 189.6L629.9 186.7Z"/><path d="M634.4 186L636.9 187.9L635.9 190.8L632.8 190.8L631.9 187.9Z"/><path d="M636.2 186.1L638.7 187.9L637.7 190.8L634.6 190.8L633.6 187.9Z"/><path d="M638.2 187.8L640.7 189.7L639.7 192.6L636.6 192.6L635.6 189.7Z"/><path d="M640 191.5L642.5 193.3L641.6 196.3L638.5 196.3L637.5 193.3Z"/><path d="M641.6 194L644.1 195.8L643.2 198.7L640.1 198.7L639.1 195.8Z"/><path d="M644 195.7L646.5 197.5L645.5 200.4L642.4 200.4L641.5 197.5Z"/><path d="M645.8 198.7L648.3 200.6L647.4 203.5L644.3 203.5L643.3 200.6Z"/><path d="M647.8 201.2L650.3 203L649.3 206L646.2 206L645.3 203Z"/><path d="M649.7 203L652.2 204.8L651.3 207.7L648.2 207.7L647.2 204.8Z"/><path d="M652 203L654.5 204.9L653.5 207.8L650.4 207.8L649.5 204.9Z"/><path d="M653.9 205.4L656.4 207.3L655.4 210.2L652.3 210.2L651.4 207.3Z"/><path d="M655.9 205.6L658.4 207.4L657.5 210.3L654.3 210.3L653.4 207.4Z"/><path d="M658 206.8L660.6 208.6L659.6 211.5L656.5 211.5L655.5 208.6Z"/><path d="M660.7 206.9L663.2 208.8L662.3 211.7L659.2 211.7L658.2 208.8Z"/><path d="M662.5 208L665 209.8L664 212.7L660.9 212.7L660 209.8Z"/><path d="M664.9 208.6L667.4 210.4L666.4 213.3L663.3 213.3L662.4 210.4Z"/><path d="M667 209.4L669.6 211.2L668.6 214.2L665.5 214.2L664.5 211.2Z"/><path d="M669.3 208.9L671.9 210.8L670.9 213.7L667.8 213.7L666.8 210.8Z"/></g>
</g>
<rect x="405" y="12.4" width="265.5" height="208.6" fill="none" stroke="#000" stroke-width="1.6"/>
<path d="M405 221v-3.8M405 12.4v3.8M416.5 221v-3.8M416.5 12.4v3.8M428.1 221v-3.8M428.1 12.4v3.8M439.6 221v-7M439.6 12.4v7M451.2 221v-3.8M451.2 12.4v3.8M462.7 221v-3.8M462.7 12.4v3.8M474.3 221v-3.8M474.3 12.4v3.8M485.8 221v-3.8M485.8 12.4v3.8M497.3 221v-7M497.3 12.4v7M508.9 221v-3.8M508.9 12.4v3.8M520.4 221v-3.8M520.4 12.4v3.8M532 221v-3.8M532 12.4v3.8M543.5 221v-3.8M543.5 12.4v3.8M555.1 221v-7M555.1 12.4v7M566.6 221v-3.8M566.6 12.4v3.8M578.2 221v-3.8M578.2 12.4v3.8M589.7 221v-3.8M589.7 12.4v3.8M601.2 221v-3.8M601.2 12.4v3.8M612.8 221v-7M612.8 12.4v7M624.3 221v-3.8M624.3 12.4v3.8M635.9 221v-3.8M635.9 12.4v3.8M647.4 221v-3.8M647.4 12.4v3.8M659 221v-3.8M659 12.4v3.8M670.5 221v-7M670.5 12.4v7M405 221h7M670.5 221h-7M405 210.6h3.8M670.5 210.6h-3.8M405 200.1h3.8M670.5 200.1h-3.8M405 189.7h3.8M670.5 189.7h-3.8M405 179.3h3.8M670.5 179.3h-3.8M405 168.8h7M670.5 168.8h-7M405 158.4h3.8M670.5 158.4h-3.8M405 148h3.8M670.5 148h-3.8M405 137.6h3.8M670.5 137.6h-3.8M405 127.1h3.8M670.5 127.1h-3.8M405 116.7h7M670.5 116.7h-7M405 106.3h3.8M670.5 106.3h-3.8M405 95.8h3.8M670.5 95.8h-3.8M405 85.4h3.8M670.5 85.4h-3.8M405 75h3.8M670.5 75h-3.8M405 64.6h7M670.5 64.6h-7M405 54.1h3.8M670.5 54.1h-3.8M405 43.7h3.8M670.5 43.7h-3.8M405 33.3h3.8M670.5 33.3h-3.8M405 22.8h3.8M670.5 22.8h-3.8M405 12.4h7M670.5 12.4h-7" stroke="#000" stroke-width="1.2" fill="none"/>
<g clip-path="url(#cpb)">
<path d="M409.2 221L410.3 221L411.5 221L412.6 221L413.8 221L414.9 221L416.1 221L417.2 221L418.4 221L419.5 221L420.7 221L421.9 221L423 221L424.2 221L425.3 221L426.5 221L427.6 221L428.8 221L429.9 221L431.1 221L432.2 221L433.4 221L434.6 221L435.7 221L436.9 221L438 221L439.2 221L440.3 221L441.5 221L442.6 221L443.8 221L444.9 221L446.1 221L447.2 221L448.4 221L449.6 221L450.7 221L451.9 221L453 221L454.2 221L455.3 221L456.5 221L457.6 221L458.8 221L459.9 221L461.1 221L462.3 221L463.4 221L464.6 221L465.7 221L466.9 221L468 221L469.2 221L470.3 221L471.5 221L472.6 221L473.8 221L475 221L476.1 221L477.3 221L478.4 221L479.6 221L480.7 221L481.9 221L483 221L484.2 221L485.3 221L486.5 221L487.7 221L488.8 221L490 221L491.1 221L492.3 221L493.4 221L494.6 221L495.7 221L496.9 221L498 221L499.2 221L500.3 221L501.5 221L502.7 221L503.8 221L505 221L506.1 221L507.3 221L508.4 221L509.6 221L510.7 221L511.9 221L513 221L514.2 221L515.4 221L516.5 221L517.7 221L518.8 221L520 221L521.1 221L522.3 221L523.4 221L524.6 221L525.7 221L526.9 221L528.1 221L529.2 221L530.4 221L531.5 221L532.7 221L533.8 221L535 221L536.1 221L537.3 221L538.4 221L539.6 221L540.8 221L541.9 221L543.1 221L544.2 221L545.4 221L546.5 221L547.7 221L548.8 221L550 221L551.1 221L552.3 221L553.4 221L554.6 221L555.8 221L556.9 221L558.1 221L559.2 221L560.4 221L561.5 221L562.7 221L563.8 221L565 221L566.1 221L567.3 221L568.5 221L569.6 221L570.8 221L571.9 221L573.1 221L574.2 221L575.4 221L576.5 221L577.7 221L578.8 220.9L580 220.9L581.2 220.9L582.3 220.9L583.5 220.9L584.6 220.8L585.8 220.8L586.9 220.7L588.1 220.7L589.2 220.6L590.4 220.5L591.5 220.4L592.7 220.3L593.9 220.2L595 220L596.2 219.8L597.3 219.6L598.5 219.3L599.6 219.1L600.8 218.7L601.9 218.4L603.1 218L604.2 217.5L605.4 217.1L606.5 216.5L607.7 216L608.9 215.4L610 214.7L611.2 214L612.3 213.3L613.5 212.5L614.6 211.7L615.8 210.9L616.9 210.1L618.1 209.3L619.2 208.5L620.4 207.7L621.6 206.9L622.7 206.1L623.9 205.4L625 204.7L626.2 204.1L627.3 203.6L628.5 203.2L629.6 202.8L630.8 202.5L631.9 202.3L633.1 202.2L634.3 202.2L635.4 202.4L636.6 202.7L637.7 203.1L638.9 203.6L640 204.2L641.2 204.9L642.3 205.6L643.5 206.5L644.6 207.4L645.8 208.3L647 209.2L648.1 210.2L649.3 211.1L650.4 212L651.6 212.9L652.7 213.8L653.9 214.6L655 215.4L656.2 216.1L657.3 216.7L658.5 217.3L659.6 217.8L660.8 218.3L662 218.7L663.1 219.1L664.3 219.4L665.4 219.7L666.6 219.9L667.7 220.1L668.9 220.3L670 220.4" fill="none" stroke="#FF0000" stroke-width="1.4" stroke-dasharray="7.6 3.2 2 2.9"/>
<path d="M409.2 221L410.3 221L411.5 221L412.6 221L413.8 221L414.9 220.9L416.1 220.9L417.2 220.9L418.4 220.9L419.5 220.9L420.7 220.9L421.9 220.9L423 220.9L424.2 220.9L425.3 220.9L426.5 220.8L427.6 220.8L428.8 220.8L429.9 220.8L431.1 220.8L432.2 220.7L433.4 220.7L434.6 220.7L435.7 220.6L436.9 220.6L438 220.6L439.2 220.5L440.3 220.5L441.5 220.4L442.6 220.4L443.8 220.3L444.9 220.2L446.1 220.2L447.2 220.1L448.4 220L449.6 219.9L450.7 219.8L451.9 219.7L453 219.6L454.2 219.4L455.3 219.3L456.5 219.2L457.6 219L458.8 218.8L459.9 218.6L461.1 218.4L462.3 218.2L463.4 218L464.6 217.8L465.7 217.5L466.9 217.2L468 217L469.2 216.7L470.3 216.3L471.5 216L472.6 215.6L473.8 215.2L475 214.8L476.1 214.4L477.3 213.9L478.4 213.5L479.6 212.9L480.7 212.4L481.9 211.9L483 211.3L484.2 210.7L485.3 210L486.5 209.3L487.7 208.6L488.8 207.9L490 207.2L491.1 206.4L492.3 205.5L493.4 204.7L494.6 203.8L495.7 202.9L496.9 201.9L498 200.9L499.2 199.9L500.3 198.9L501.5 197.8L502.7 196.7L503.8 195.6L505 194.4L506.1 193.2L507.3 192L508.4 190.8L509.6 189.5L510.7 188.2L511.9 186.9L513 185.6L514.2 184.3L515.4 182.9L516.5 181.5L517.7 180.1L518.8 178.7L520 177.3L521.1 175.9L522.3 174.5L523.4 173.1L524.6 171.7L525.7 170.3L526.9 168.9L528.1 167.5L529.2 166.1L530.4 164.8L531.5 163.4L532.7 162.1L533.8 160.8L535 159.6L536.1 158.3L537.3 157.1L538.4 156L539.6 154.9L540.8 153.8L541.9 152.8L543.1 151.8L544.2 150.8L545.4 150L546.5 149.1L547.7 148.4L548.8 147.6L550 147L551.1 146.4L552.3 145.9L553.4 145.4L554.6 145L555.8 144.7L556.9 144.5L558.1 144.3L559.2 144.2L560.4 144.1L561.5 144.2L562.7 144.3L563.8 144.4L565 144.7L566.1 145L567.3 145.3L568.5 145.8L569.6 146.3L570.8 146.9L571.9 147.5L573.1 148.2L574.2 149L575.4 149.8L576.5 150.7L577.7 151.6L578.8 152.6L580 153.6L581.2 154.6L582.3 155.8L583.5 156.9L584.6 158.1L585.8 159.3L586.9 160.6L588.1 161.9L589.2 163.2L590.4 164.5L591.5 165.9L592.7 167.2L593.9 168.6L595 170L596.2 171.4L597.3 172.8L598.5 174.2L599.6 175.6L600.8 177.1L601.9 178.5L603.1 179.9L604.2 181.3L605.4 182.6L606.5 184L607.7 185.3L608.9 186.7L610 188L611.2 189.3L612.3 190.5L613.5 191.8L614.6 193L615.8 194.2L616.9 195.4L618.1 196.5L619.2 197.6L620.4 198.7L621.6 199.7L622.7 200.7L623.9 201.7L625 202.7L626.2 203.6L627.3 204.5L628.5 205.4L629.6 206.2L630.8 207L631.9 207.8L633.1 208.5L634.3 209.2L635.4 209.9L636.6 210.5L637.7 211.2L638.9 211.7L640 212.3L641.2 212.8L642.3 213.4L643.5 213.8L644.6 214.3L645.8 214.7L647 215.2L648.1 215.5L649.3 215.9L650.4 216.3L651.6 216.6L652.7 216.9L653.9 217.2L655 217.5L656.2 217.7L657.3 218L658.5 218.2L659.6 218.4L660.8 218.6L662 218.8L663.1 219L664.3 219.1L665.4 219.3L666.6 219.4L667.7 219.5L668.9 219.7L670 219.8" fill="none" stroke="#2A8C8C" stroke-width="1.4" stroke-dasharray="7.6 3.2 2 2.9"/>
<path d="M409.2 220.5L410.3 220.4L411.5 220.3L412.6 220.2L413.8 220.1L414.9 220L416.1 219.8L417.2 219.6L418.4 219.4L419.5 219.2L420.7 219L421.9 218.7L423 218.3L424.2 218L425.3 217.6L426.5 217.1L427.6 216.6L428.8 216L429.9 215.4L431.1 214.7L432.2 213.9L433.4 213.1L434.6 212.2L435.7 211.2L436.9 210.1L438 208.9L439.2 207.6L440.3 206.1L441.5 204.6L442.6 203L443.8 201.2L444.9 199.3L446.1 197.3L447.2 195.1L448.4 192.8L449.6 190.3L450.7 187.7L451.9 185L453 182.1L454.2 179L455.3 175.8L456.5 172.5L457.6 169L458.8 165.4L459.9 161.7L461.1 157.9L462.3 153.9L463.4 149.9L464.6 145.7L465.7 141.5L466.9 137.2L468 132.9L469.2 128.5L470.3 124.2L471.5 119.8L472.6 115.4L473.8 111.1L475 106.8L476.1 102.7L477.3 98.6L478.4 94.6L479.6 90.8L480.7 87.2L481.9 83.7L483 80.4L484.2 77.4L485.3 74.5L486.5 72L487.7 69.7L488.8 67.7L490 65.9L491.1 64.5L492.3 63.4L493.4 62.6L494.6 62.2L495.7 62L496.9 62.2L498 62.6L499.2 63.3L500.3 64.3L501.5 65.5L502.7 66.9L503.8 68.6L505 70.5L506.1 72.6L507.3 75L508.4 77.6L509.6 80.3L510.7 83.2L511.9 86.3L513 89.5L514.2 92.9L515.4 96.4L516.5 100L517.7 103.7L518.8 107.5L520 111.3L521.1 115.2L522.3 119.1L523.4 123L524.6 127L525.7 130.9L526.9 134.8L528.1 138.7L529.2 142.5L530.4 146.3L531.5 150L532.7 153.6L533.8 157.2L535 160.7L536.1 164L537.3 167.3L538.4 170.5L539.6 173.6L540.8 176.5L541.9 179.4L543.1 182.1L544.2 184.7L545.4 187.2L546.5 189.5L547.7 191.8L548.8 193.9L550 196L551.1 197.9L552.3 199.7L553.4 201.4L554.6 202.9L555.8 204.4L556.9 205.8L558.1 207.1L559.2 208.3L560.4 209.4L561.5 210.5L562.7 211.4L563.8 212.3L565 213.2L566.1 213.9L567.3 214.6L568.5 215.2L569.6 215.8L570.8 216.3L571.9 216.8L573.1 217.3L574.2 217.7L575.4 218L576.5 218.3L577.7 218.6L578.8 218.9L580 219.1L581.2 219.4L582.3 219.6L583.5 219.7L584.6 219.9L585.8 220L586.9 220.1L588.1 220.2L589.2 220.3L590.4 220.4L591.5 220.5L592.7 220.6L593.9 220.6L595 220.7L596.2 220.7L597.3 220.8L598.5 220.8L599.6 220.8L600.8 220.8L601.9 220.9L603.1 220.9L604.2 220.9L605.4 220.9L606.5 220.9L607.7 220.9L608.9 220.9L610 221L611.2 221L612.3 221L613.5 221L614.6 221L615.8 221L616.9 221L618.1 221L619.2 221L620.4 221L621.6 221L622.7 221L623.9 221L625 221L626.2 221L627.3 221L628.5 221L629.6 221L630.8 221L631.9 221L633.1 221L634.3 221L635.4 221L636.6 221L637.7 221L638.9 221L640 221L641.2 221L642.3 221L643.5 221L644.6 221L645.8 221L647 221L648.1 221L649.3 221L650.4 221L651.6 221L652.7 221L653.9 221L655 221L656.2 221L657.3 221L658.5 221L659.6 221L660.8 221L662 221L663.1 221L664.3 221L665.4 221L666.6 221L667.7 221L668.9 221L670 221" fill="none" stroke="#0000FF" stroke-width="1.4" stroke-dasharray="7.6 3.2 2 2.9"/>
<path d="M409.2 220.8L410.3 220.7L411.5 220.6L412.6 220.6L413.8 220.5L414.9 220.4L416.1 220.3L417.2 220.1L418.4 220L419.5 219.8L420.7 219.6L421.9 219.4L423 219.1L424.2 218.8L425.3 218.5L426.5 218.2L427.6 217.7L428.8 217.3L429.9 216.8L431.1 216.3L432.2 215.7L433.4 215.1L434.6 214.4L435.7 213.6L436.9 212.9L438 212L439.2 211.2L440.3 210.3L441.5 209.3L442.6 208.3L443.8 207.3L444.9 206.3L446.1 205.3L447.2 204.2L448.4 203.2L449.6 202.1L450.7 201.1L451.9 200.1L453 199.2L454.2 198.3L455.3 197.4L456.5 196.7L457.6 196L458.8 195.3L459.9 194.8L461.1 194.4L462.3 194L463.4 193.8L464.6 193.7L465.7 193.7L466.9 193.8L468 194L469.2 194.3L470.3 194.8L471.5 195.3L472.6 196L473.8 196.7L475 197.5L476.1 198.4L477.3 199.3L478.4 200.3L479.6 201.3L480.7 202.4L481.9 203.5L483 204.5L484.2 205.6L485.3 206.7L486.5 207.7L487.7 208.8L488.8 209.8L490 210.7L491.1 211.6L492.3 212.5L493.4 213.3L494.6 214.1L495.7 214.8L496.9 215.5L498 216.1L499.2 216.7L500.3 217.2L501.5 217.7L502.7 218.1L503.8 218.5L505 218.8L506.1 219.1L507.3 219.4L508.4 219.6L509.6 219.8L510.7 220L511.9 220.2L513 220.3L514.2 220.4L515.4 220.5L516.5 220.6L517.7 220.7L518.8 220.7L520 220.8L521.1 220.8L522.3 220.9L523.4 220.9L524.6 220.9L525.7 220.9L526.9 220.9L528.1 221L529.2 221L530.4 221L531.5 221L532.7 221L533.8 221L535 221L536.1 221L537.3 221L538.4 221L539.6 221L540.8 221L541.9 221L543.1 221L544.2 221L545.4 221L546.5 221L547.7 221L548.8 221L550 221L551.1 221L552.3 221L553.4 221L554.6 221L555.8 221L556.9 221L558.1 221L559.2 221L560.4 221L561.5 221L562.7 221L563.8 221L565 221L566.1 221L567.3 221L568.5 221L569.6 221L570.8 221L571.9 221L573.1 221L574.2 221L575.4 221L576.5 221L577.7 221L578.8 221L580 221L581.2 221L582.3 221L583.5 221L584.6 221L585.8 221L586.9 221L588.1 221L589.2 221L590.4 221L591.5 221L592.7 221L593.9 221L595 221L596.2 221L597.3 221L598.5 221L599.6 221L600.8 221L601.9 221L603.1 221L604.2 221L605.4 221L606.5 221L607.7 221L608.9 221L610 221L611.2 221L612.3 221L613.5 221L614.6 221L615.8 221L616.9 221L618.1 221L619.2 221L620.4 221L621.6 221L622.7 221L623.9 221L625 221L626.2 221L627.3 221L628.5 221L629.6 221L630.8 221L631.9 221L633.1 221L634.3 221L635.4 221L636.6 221L637.7 221L638.9 221L640 221L641.2 221L642.3 221L643.5 221L644.6 221L645.8 221L647 221L648.1 221L649.3 221L650.4 221L651.6 221L652.7 221L653.9 221L655 221L656.2 221L657.3 221L658.5 221L659.6 221L660.8 221L662 221L663.1 221L664.3 221L665.4 221L666.6 221L667.7 221L668.9 221L670 221" fill="none" stroke="#1F8A1F" stroke-width="1.4" stroke-dasharray="7.6 3.2 2 2.9"/>
<path d="M409.2 218.9L410.3 218.2L411.5 217.4L412.6 216.6L413.8 215.7L414.9 214.7L416.1 213.6L417.2 212.4L418.4 211L419.5 209.3L420.7 207.7L421.9 206L423 204.4L424.2 202.7L425.3 201.1L426.5 199.5L427.6 198.1L428.8 196.8L429.9 195.7L431.1 194.7L432.2 193.7L433.4 192.7L434.6 191.8L435.7 191.1L436.9 190.3L438 189.5L439.2 188.5L440.3 187.2L441.5 185.4L442.6 181.9L443.8 177.4L444.9 172.8L446.1 168.8L447.2 165.8L448.4 163L449.6 160.3L450.7 157.5L451.9 154.6L453 151.6L454.2 148.7L455.3 145.8L456.5 142.8L457.6 139.7L458.8 136.6L459.9 133.3L461.1 129.9L462.3 126.3L463.4 122.5L464.6 118.3L465.7 113.7L466.9 108.9L468 103.9L469.2 98.9L470.3 93.9L471.5 89.1L472.6 84.5L473.8 80.2L475 76.3L476.1 72.4L477.3 68.5L478.4 64.7L479.6 61L480.7 57.5L481.9 54.2L483 51.2L484.2 48.5L485.3 46.2L486.5 44.2L487.7 42.2L488.8 40.3L490 38.5L491.1 36.7L492.3 35.2L493.4 33.9L494.6 32.8L495.7 32.1L496.9 31.7L498 31.7L499.2 31.9L500.3 32.2L501.5 32.6L502.7 33L503.8 33.8L505 35.3L506.1 37.4L507.3 39.7L508.4 42L509.6 44L510.7 46L511.9 48L513 50L514.2 52L515.4 54.1L516.5 56.1L517.7 58.2L518.8 60.3L520 62.4L521.1 64.6L522.3 66.8L523.4 69.1L524.6 71.4L525.7 73.8L526.9 76.1L528.1 78.5L529.2 80.8L530.4 83.2L531.5 85.5L532.7 87.9L533.8 90.3L535 92.8L536.1 95.3L537.3 97.8L538.4 100.3L539.6 102.6L540.8 104.9L541.9 107L543.1 108.8L544.2 110.5L545.4 112L546.5 113.4L547.7 114.7L548.8 115.9L550 117.1L551.1 118.2L552.3 119.4L553.4 120.6L554.6 121.8L555.8 123.1L556.9 124.4L558.1 125.6L559.2 126.9L560.4 128.2L561.5 129.4L562.7 130.7L563.8 132L565 133.3L566.1 134.6L567.3 136L568.5 137.4L569.6 138.8L570.8 140.2L571.9 141.7L573.1 143.1L574.2 144.6L575.4 146L576.5 147.3L577.7 148.5L578.8 149.7L580 150.9L581.2 151.9L582.3 153L583.5 154L584.6 155L585.8 156L586.9 157L588.1 158L589.2 159L590.4 160.1L591.5 161.3L592.7 162.4L593.9 163.6L595 164.8L596.2 166L597.3 167.1L598.5 168.3L599.6 169.4L600.8 170.4L601.9 171.4L603.1 172.4L604.2 173.5L605.4 174.4L606.5 175.4L607.7 176.4L608.9 177.2L610 178.1L611.2 178.8L612.3 179.5L613.5 180L614.6 180.5L615.8 181L616.9 181.4L618.1 181.8L619.2 182.1L620.4 182.5L621.6 182.9L622.7 183.3L623.9 183.7L625 184.1L626.2 184.6L627.3 185.1L628.5 185.5L629.6 186L630.8 186.5L631.9 187L633.1 187.6L634.3 188.3L635.4 189L636.6 189.8L637.7 190.9L638.9 192.2L640 193.7L641.2 195.3L642.3 196.9L643.5 198.5L644.6 200L645.8 201.4L647 202.6L648.1 203.5L649.3 204.4L650.4 205.3L651.6 206.1L652.7 206.9L653.9 207.6L655 208.2L656.2 208.8L657.3 209.3L658.5 209.7L659.6 210L660.8 210.3L662 210.6L663.1 210.9L664.3 211.1L665.4 211.3L666.6 211.5L667.7 211.7L668.9 211.8L670 211.8" fill="none" stroke="#FF8000" stroke-width="1.4" stroke-dasharray="7.6 3.2 2 2.9"/>
</g>
<g font-family='"Liberation Sans", sans-serif' font-size="16.8">
<text x="439.6" y="242.8" text-anchor="middle">1.5</text>
<text x="497.3" y="242.8" text-anchor="middle">2.0</text>
<text x="555.1" y="242.8" text-anchor="middle">2.5</text>
<text x="612.8" y="242.8" text-anchor="middle">3.0</text>
<text x="670.5" y="242.8" text-anchor="middle">3.5</text>
<text x="397" y="225.7" text-anchor="end">0.0</text>
<text x="397" y="173.5" text-anchor="end">0.5</text>
<text x="397" y="121.4" text-anchor="end">1.0</text>
<text x="397" y="69.3" text-anchor="end">1.5</text>
<text x="397" y="17.1" text-anchor="end">2.0</text>
</g>
<text x="539.8" y="263" font-family='"Liberation Serif", serif' font-weight="bold" font-size="19.5" text-anchor="middle">Energy(eV)</text>
<text transform="translate(366.5 116.7) rotate(-90)" font-family='"Liberation Serif", serif' font-weight="bold" font-size="19.1" text-anchor="middle">IL Intensity(<tspan font-weight="normal">&#215;10</tspan><tspan font-weight="normal" font-size="11.5" dy="-8.3">4</tspan><tspan dy="8.3">a.u./eV)</tspan></text>
<text x="408.2" y="38.7" font-family='"Liberation Serif", serif' font-size="26">(b)</text>
<g font-family='"Liberation Sans", sans-serif' font-size="15">
<path d="M583.7 27.2L586.3 29.1L585.3 32.2L582.1 32.2L581.1 29.1Z" fill="none" stroke="#555" stroke-width="0.9"/>
<text x="604.9" y="35.4">40s</text>
<path d="M565.7 49H601.7" stroke="#FF0000" stroke-width="1.8" stroke-dasharray="7.6 3.2 2 2.9"/>
<text x="604.9" y="54.4">3.18eV</text>
<path d="M565.7 68H601.7" stroke="#2A8C8C" stroke-width="1.8" stroke-dasharray="7.6 3.2 2 2.9"/>
<text x="604.9" y="73.4">2.54eV</text>
<path d="M565.7 87H601.7" stroke="#0000FF" stroke-width="1.8" stroke-dasharray="7.6 3.2 2 2.9"/>
<text x="604.9" y="92.4">2.01eV</text>
<path d="M565.7 106H601.7" stroke="#1F8A1F" stroke-width="1.8" stroke-dasharray="7.6 3.2 2 2.9"/>
<text x="604.9" y="111.4">1.72eV</text>
<path d="M565.7 125H601.7" stroke="#FF8000" stroke-width="1.8" stroke-dasharray="7.6 3.2 2 2.9"/>
<text x="604.9" y="130.4">Cumu.</text>
</g>
<clipPath id="cpc"><rect x="59" y="283" width="265.4" height="210.6"/></clipPath>
<g clip-path="url(#cpc)">
<g fill="#fff" stroke="#111" stroke-width="0.8"><circle cx="61.8" cy="486.7" r="2.4"/><circle cx="62.3" cy="487.2" r="2.4"/><circle cx="62.4" cy="486.8" r="2.4"/><circle cx="62.8" cy="486.4" r="2.4"/><circle cx="63" cy="485.8" r="2.4"/><circle cx="63.2" cy="487.1" r="2.4"/><circle cx="63.7" cy="485.5" r="2.4"/><circle cx="64.2" cy="485.9" r="2.4"/><circle cx="64.4" cy="485.5" r="2.4"/><circle cx="64.3" cy="485.6" r="2.4"/><circle cx="64.8" cy="485.4" r="2.4"/><circle cx="65" cy="485.3" r="2.4"/><circle cx="65.7" cy="485.3" r="2.4"/><circle cx="65.9" cy="485" r="2.4"/><circle cx="66.1" cy="484.8" r="2.4"/><circle cx="66.4" cy="484.7" r="2.4"/><circle cx="66.8" cy="484.8" r="2.4"/><circle cx="67.1" cy="484.4" r="2.4"/><circle cx="67.4" cy="483.6" r="2.4"/><circle cx="67.8" cy="483.8" r="2.4"/><circle cx="67.7" cy="483.8" r="2.4"/><circle cx="68.4" cy="483.4" r="2.4"/><circle cx="68.2" cy="482.9" r="2.4"/><circle cx="69" cy="481.9" r="2.4"/><circle cx="68.8" cy="481.4" r="2.4"/><circle cx="69.2" cy="482.4" r="2.4"/><circle cx="69.7" cy="480.9" r="2.4"/><circle cx="69.8" cy="481.6" r="2.4"/><circle cx="70" cy="480.4" r="2.4"/><circle cx="70.4" cy="480.3" r="2.4"/><circle cx="70.8" cy="480.8" r="2.4"/><circle cx="71.4" cy="480.5" r="2.4"/><circle cx="71.5" cy="480.4" r="2.4"/><circle cx="71.9" cy="479.2" r="2.4"/><circle cx="72" cy="478.5" r="2.4"/><circle cx="72.7" cy="479" r="2.4"/><circle cx="73.1" cy="478.5" r="2.4"/><circle cx="73.5" cy="477.6" r="2.4"/><circle cx="73.5" cy="478.3" r="2.4"/><circle cx="73.7" cy="477.2" r="2.4"/><circle cx="74.3" cy="477.4" r="2.4"/><circle cx="74.3" cy="477.7" r="2.4"/><circle cx="74.7" cy="477.2" r="2.4"/><circle cx="75.1" cy="475.8" r="2.4"/><circle cx="75.2" cy="475.9" r="2.4"/><circle cx="75.6" cy="476.3" r="2.4"/><circle cx="76.3" cy="475.4" r="2.4"/><circle cx="76.7" cy="475.4" r="2.4"/><circle cx="76.7" cy="475.1" r="2.4"/><circle cx="77.2" cy="475" r="2.4"/><circle cx="77.4" cy="473.5" r="2.4"/><circle cx="78" cy="473.9" r="2.4"/><circle cx="78.1" cy="472.5" r="2.4"/><circle cx="78.7" cy="472.8" r="2.4"/><circle cx="79.1" cy="471.5" r="2.4"/><circle cx="79.3" cy="472" r="2.4"/><circle cx="79.8" cy="471.8" r="2.4"/><circle cx="79.9" cy="471.3" r="2.4"/><circle cx="80.2" cy="469.9" r="2.4"/><circle cx="80.6" cy="470.3" r="2.4"/><circle cx="81.1" cy="468.4" r="2.4"/><circle cx="81.4" cy="469.2" r="2.4"/><circle cx="81.7" cy="467.9" r="2.4"/><circle cx="82.2" cy="467.6" r="2.4"/><circle cx="82.7" cy="467.1" r="2.4"/><circle cx="82.8" cy="467" r="2.4"/><circle cx="83" cy="466.7" r="2.4"/><circle cx="83.7" cy="465.9" r="2.4"/><circle cx="84.1" cy="464.8" r="2.4"/><circle cx="84.7" cy="465" r="2.4"/><circle cx="85" cy="464.3" r="2.4"/><circle cx="85.1" cy="463.7" r="2.4"/><circle cx="85.3" cy="463.6" r="2.4"/><circle cx="86.1" cy="462.9" r="2.4"/><circle cx="86.1" cy="462.4" r="2.4"/><circle cx="86.6" cy="461.8" r="2.4"/><circle cx="87.1" cy="461.8" r="2.4"/><circle cx="87.2" cy="460.5" r="2.4"/><circle cx="87.8" cy="459.5" r="2.4"/><circle cx="88.2" cy="458.9" r="2.4"/><circle cx="88.7" cy="458.6" r="2.4"/><circle cx="88.8" cy="458.5" r="2.4"/><circle cx="89.5" cy="458.3" r="2.4"/><circle cx="89.9" cy="457.6" r="2.4"/><circle cx="90.2" cy="456" r="2.4"/><circle cx="90.4" cy="454.9" r="2.4"/><circle cx="90.8" cy="454.1" r="2.4"/><circle cx="91.6" cy="453.5" r="2.4"/><circle cx="92" cy="452.5" r="2.4"/><circle cx="92.5" cy="452.2" r="2.4"/><circle cx="92.4" cy="452.1" r="2.4"/><circle cx="92.8" cy="451.5" r="2.4"/><circle cx="93.5" cy="449.5" r="2.4"/><circle cx="93.8" cy="448.5" r="2.4"/><circle cx="94.5" cy="447.9" r="2.4"/><circle cx="94.8" cy="447.6" r="2.4"/><circle cx="95.3" cy="446.8" r="2.4"/><circle cx="95.6" cy="446" r="2.4"/><circle cx="95.7" cy="444.4" r="2.4"/><circle cx="96.2" cy="443.7" r="2.4"/><circle cx="96.8" cy="442.7" r="2.4"/><circle cx="97.5" cy="440.6" r="2.4"/><circle cx="98" cy="439.8" r="2.4"/><circle cx="98.3" cy="439.1" r="2.4"/><circle cx="98.9" cy="437" r="2.4"/><circle cx="98.9" cy="435.4" r="2.4"/><circle cx="99.3" cy="434.8" r="2.4"/><circle cx="100.2" cy="433.4" r="2.4"/><circle cx="100.3" cy="432.9" r="2.4"/><circle cx="100.7" cy="430.8" r="2.4"/><circle cx="101.2" cy="429.3" r="2.4"/><circle cx="102" cy="428.4" r="2.4"/><circle cx="102.1" cy="427.4" r="2.4"/><circle cx="102.6" cy="426" r="2.4"/><circle cx="103" cy="424" r="2.4"/><circle cx="103.7" cy="424" r="2.4"/><circle cx="104.2" cy="422.4" r="2.4"/><circle cx="104.3" cy="421" r="2.4"/><circle cx="105.3" cy="419.9" r="2.4"/><circle cx="105.8" cy="418.1" r="2.4"/><circle cx="105.8" cy="416.4" r="2.4"/><circle cx="106.4" cy="415.7" r="2.4"/><circle cx="106.8" cy="413.7" r="2.4"/><circle cx="107.6" cy="412.3" r="2.4"/><circle cx="107.7" cy="411.1" r="2.4"/><circle cx="108.5" cy="409.9" r="2.4"/><circle cx="109" cy="407.7" r="2.4"/><circle cx="109.2" cy="406.7" r="2.4"/><circle cx="110.2" cy="405.4" r="2.4"/><circle cx="110.7" cy="403.3" r="2.4"/><circle cx="110.9" cy="402.3" r="2.4"/><circle cx="111.6" cy="401.1" r="2.4"/><circle cx="112.2" cy="399.7" r="2.4"/><circle cx="112.4" cy="397.5" r="2.4"/><circle cx="113.1" cy="396.6" r="2.4"/><circle cx="113.3" cy="395.6" r="2.4"/><circle cx="114.1" cy="393.6" r="2.4"/><circle cx="114.7" cy="391.5" r="2.4"/><circle cx="115.2" cy="390.3" r="2.4"/><circle cx="115.9" cy="389.4" r="2.4"/><circle cx="116" cy="387.6" r="2.4"/><circle cx="116.4" cy="385.4" r="2.4"/><circle cx="117.2" cy="383.6" r="2.4"/><circle cx="117.6" cy="382.8" r="2.4"/><circle cx="118.1" cy="380.7" r="2.4"/><circle cx="118.8" cy="378.7" r="2.4"/><circle cx="119.4" cy="377.1" r="2.4"/><circle cx="119.7" cy="375.8" r="2.4"/><circle cx="120.5" cy="372.7" r="2.4"/><circle cx="121.4" cy="371.4" r="2.4"/><circle cx="121.7" cy="369.1" r="2.4"/><circle cx="122.1" cy="368.1" r="2.4"/><circle cx="123" cy="365.1" r="2.4"/><circle cx="123.2" cy="364" r="2.4"/><circle cx="124" cy="361.9" r="2.4"/><circle cx="124.5" cy="359.9" r="2.4"/><circle cx="125.4" cy="358.3" r="2.4"/><circle cx="125.5" cy="356.1" r="2.4"/><circle cx="126.4" cy="355.7" r="2.4"/><circle cx="126.7" cy="352.5" r="2.4"/><circle cx="127.7" cy="351" r="2.4"/><circle cx="128" cy="350.7" r="2.4"/><circle cx="128.5" cy="348.4" r="2.4"/><circle cx="129.4" cy="346.6" r="2.4"/><circle cx="129.7" cy="345.4" r="2.4"/><circle cx="130.8" cy="343.6" r="2.4"/><circle cx="131.3" cy="342.7" r="2.4"/><circle cx="131.6" cy="341.3" r="2.4"/><circle cx="132.5" cy="339.9" r="2.4"/><circle cx="132.9" cy="337.1" r="2.4"/><circle cx="133.4" cy="336.4" r="2.4"/><circle cx="134.5" cy="334.2" r="2.4"/><circle cx="134.8" cy="334.2" r="2.4"/><circle cx="135.8" cy="332.7" r="2.4"/><circle cx="136.2" cy="330.5" r="2.4"/><circle cx="136.9" cy="329.9" r="2.4"/><circle cx="137.7" cy="329" r="2.4"/><circle cx="138.2" cy="328.1" r="2.4"/><circle cx="138.8" cy="325.9" r="2.4"/><circle cx="139.5" cy="325.7" r="2.4"/><circle cx="140.1" cy="324.3" r="2.4"/><circle cx="140.9" cy="324.3" r="2.4"/><circle cx="141.9" cy="324.2" r="2.4"/><circle cx="142" cy="322.3" r="2.4"/><circle cx="142.7" cy="321.7" r="2.4"/><circle cx="143.4" cy="320.9" r="2.4"/><circle cx="144.5" cy="321.6" r="2.4"/><circle cx="145.1" cy="320.9" r="2.4"/><circle cx="145.9" cy="321.6" r="2.4"/><circle cx="146.5" cy="321.1" r="2.4"/><circle cx="147.3" cy="321.6" r="2.4"/><circle cx="148" cy="321.6" r="2.4"/><circle cx="148.7" cy="322.6" r="2.4"/><circle cx="149.1" cy="321.8" r="2.4"/><circle cx="149.9" cy="322.5" r="2.4"/><circle cx="150.8" cy="322.4" r="2.4"/><circle cx="151.5" cy="323.7" r="2.4"/><circle cx="152.5" cy="323.6" r="2.4"/><circle cx="152.8" cy="324.1" r="2.4"/><circle cx="154" cy="324.9" r="2.4"/><circle cx="154.8" cy="325.9" r="2.4"/><circle cx="155.3" cy="327" r="2.4"/><circle cx="155.9" cy="326.6" r="2.4"/><circle cx="156.6" cy="328.5" r="2.4"/><circle cx="157.9" cy="329.2" r="2.4"/><circle cx="158.6" cy="329" r="2.4"/><circle cx="159.1" cy="330.1" r="2.4"/><circle cx="160.2" cy="331.2" r="2.4"/><circle cx="160.9" cy="332.8" r="2.4"/><circle cx="161.7" cy="332.6" r="2.4"/><circle cx="162.7" cy="333.4" r="2.4"/><circle cx="163.1" cy="334.8" r="2.4"/><circle cx="164.3" cy="336.3" r="2.4"/><circle cx="164.7" cy="336.8" r="2.4"/><circle cx="166" cy="339" r="2.4"/><circle cx="166.8" cy="339.8" r="2.4"/><circle cx="167.4" cy="341.6" r="2.4"/><circle cx="168.1" cy="343" r="2.4"/><circle cx="169.1" cy="344.3" r="2.4"/><circle cx="170.4" cy="346.9" r="2.4"/><circle cx="171.2" cy="349.6" r="2.4"/><circle cx="171.6" cy="352.1" r="2.4"/><circle cx="172.5" cy="355.7" r="2.4"/><circle cx="173.6" cy="357.8" r="2.4"/><circle cx="174.5" cy="361" r="2.4"/><circle cx="175.7" cy="362.4" r="2.4"/><circle cx="176.4" cy="365.5" r="2.4"/><circle cx="177.4" cy="367.2" r="2.4"/><circle cx="178.1" cy="369.1" r="2.4"/><circle cx="179.1" cy="372.5" r="2.4"/><circle cx="180" cy="373.8" r="2.4"/><circle cx="181" cy="375.5" r="2.4"/><circle cx="181.7" cy="378.1" r="2.4"/><circle cx="182.9" cy="380.2" r="2.4"/><circle cx="183.7" cy="382.1" r="2.4"/><circle cx="184.6" cy="383.8" r="2.4"/><circle cx="186.1" cy="384.9" r="2.4"/><circle cx="186.9" cy="387.3" r="2.4"/><circle cx="187.9" cy="388.2" r="2.4"/><circle cx="188.9" cy="389.9" r="2.4"/><circle cx="189.6" cy="390.9" r="2.4"/><circle cx="190.7" cy="392.3" r="2.4"/><circle cx="191.9" cy="393.9" r="2.4"/><circle cx="193.1" cy="394.8" r="2.4"/><circle cx="193.9" cy="396.2" r="2.4"/><circle cx="195.2" cy="396.9" r="2.4"/><circle cx="196.2" cy="397.5" r="2.4"/><circle cx="197.3" cy="399.2" r="2.4"/><circle cx="198.4" cy="400.2" r="2.4"/><circle cx="199" cy="401.3" r="2.4"/><circle cx="200.3" cy="402.7" r="2.4"/><circle cx="201.4" cy="403.8" r="2.4"/><circle cx="202.6" cy="406.3" r="2.4"/><circle cx="203.8" cy="408.2" r="2.4"/><circle cx="205.1" cy="409.3" r="2.4"/><circle cx="205.8" cy="409.6" r="2.4"/><circle cx="207.1" cy="411.7" r="2.4"/><circle cx="208" cy="412.9" r="2.4"/><circle cx="209.3" cy="413.7" r="2.4"/><circle cx="210.8" cy="415.8" r="2.4"/><circle cx="211.7" cy="417.6" r="2.4"/><circle cx="213.1" cy="418.5" r="2.4"/><circle cx="214.2" cy="419.2" r="2.4"/><circle cx="215.3" cy="420.7" r="2.4"/><circle cx="216.3" cy="422.7" r="2.4"/><circle cx="217.9" cy="423.8" r="2.4"/><circle cx="219.1" cy="425.9" r="2.4"/><circle cx="220" cy="426.7" r="2.4"/><circle cx="221.8" cy="427" r="2.4"/><circle cx="223.1" cy="428.4" r="2.4"/><circle cx="224" cy="430.2" r="2.4"/><circle cx="225.5" cy="431.9" r="2.4"/><circle cx="227" cy="432.4" r="2.4"/><circle cx="228" cy="434.5" r="2.4"/><circle cx="229.3" cy="436.1" r="2.4"/><circle cx="231" cy="436.9" r="2.4"/><circle cx="232" cy="437.8" r="2.4"/><circle cx="233.5" cy="439.6" r="2.4"/><circle cx="234.9" cy="441.6" r="2.4"/><circle cx="235.9" cy="441.9" r="2.4"/><circle cx="237.4" cy="443.8" r="2.4"/><circle cx="239.2" cy="445.4" r="2.4"/><circle cx="240.4" cy="447.3" r="2.4"/><circle cx="241.9" cy="448.3" r="2.4"/><circle cx="243.5" cy="449.5" r="2.4"/><circle cx="244.6" cy="451.5" r="2.4"/><circle cx="246.2" cy="452.1" r="2.4"/><circle cx="247.6" cy="453.2" r="2.4"/><circle cx="249" cy="454.7" r="2.4"/><circle cx="250.6" cy="455.6" r="2.4"/><circle cx="252" cy="456.6" r="2.4"/><circle cx="253.6" cy="457.2" r="2.4"/><circle cx="255.4" cy="457.5" r="2.4"/><circle cx="257" cy="458.1" r="2.4"/><circle cx="258.5" cy="458.8" r="2.4"/><circle cx="260.4" cy="459.6" r="2.4"/><circle cx="262" cy="461.1" r="2.4"/><circle cx="263.5" cy="462.1" r="2.4"/><circle cx="265" cy="462.1" r="2.4"/><circle cx="266.4" cy="463.3" r="2.4"/><circle cx="268.3" cy="463.1" r="2.4"/><circle cx="270.2" cy="463" r="2.4"/><circle cx="272" cy="464.6" r="2.4"/><circle cx="273.5" cy="464.1" r="2.4"/><circle cx="275.2" cy="465" r="2.4"/><circle cx="277" cy="465.3" r="2.4"/><circle cx="279" cy="465.4" r="2.4"/><circle cx="280.6" cy="465.9" r="2.4"/><circle cx="282.7" cy="468" r="2.4"/><circle cx="284.1" cy="468" r="2.4"/><circle cx="286.4" cy="469.7" r="2.4"/><circle cx="287.8" cy="470.3" r="2.4"/><circle cx="290.2" cy="471.4" r="2.4"/><circle cx="291.9" cy="473.1" r="2.4"/><circle cx="294.1" cy="473.8" r="2.4"/><circle cx="295.6" cy="475.2" r="2.4"/><circle cx="297.9" cy="476.9" r="2.4"/><circle cx="299.6" cy="478.4" r="2.4"/><circle cx="301.7" cy="478.4" r="2.4"/><circle cx="304" cy="480.5" r="2.4"/><circle cx="305.6" cy="481.2" r="2.4"/><circle cx="307.8" cy="482.9" r="2.4"/><circle cx="310.2" cy="483.9" r="2.4"/><circle cx="312" cy="484.1" r="2.4"/><circle cx="314.6" cy="484.4" r="2.4"/><circle cx="316.4" cy="485.9" r="2.4"/><circle cx="318.8" cy="486.3" r="2.4"/><circle cx="320.7" cy="486" r="2.4"/><circle cx="323.1" cy="486.8" r="2.4"/></g>
</g>
<rect x="59" y="283" width="265.4" height="208.6" fill="none" stroke="#000" stroke-width="1.6"/>
<path d="M59 491.6v-3.8M59 283v3.8M70.5 491.6v-3.8M70.5 283v3.8M82.1 491.6v-3.8M82.1 283v3.8M93.6 491.6v-7M93.6 283v7M105.2 491.6v-3.8M105.2 283v3.8M116.7 491.6v-3.8M116.7 283v3.8M128.2 491.6v-3.8M128.2 283v3.8M139.8 491.6v-3.8M139.8 283v3.8M151.3 491.6v-7M151.3 283v7M162.9 491.6v-3.8M162.9 283v3.8M174.4 491.6v-3.8M174.4 283v3.8M185.9 491.6v-3.8M185.9 283v3.8M197.5 491.6v-3.8M197.5 283v3.8M209 491.6v-7M209 283v7M220.5 491.6v-3.8M220.5 283v3.8M232.1 491.6v-3.8M232.1 283v3.8M243.6 491.6v-3.8M243.6 283v3.8M255.2 491.6v-3.8M255.2 283v3.8M266.7 491.6v-7M266.7 283v7M278.2 491.6v-3.8M278.2 283v3.8M289.8 491.6v-3.8M289.8 283v3.8M301.3 491.6v-3.8M301.3 283v3.8M312.9 491.6v-3.8M312.9 283v3.8M324.4 491.6v-7M324.4 283v7M59 491.6h7M324.4 491.6h-7M59 481.2h3.8M324.4 481.2h-3.8M59 470.7h3.8M324.4 470.7h-3.8M59 460.3h3.8M324.4 460.3h-3.8M59 449.9h3.8M324.4 449.9h-3.8M59 439.5h7M324.4 439.5h-7M59 429h3.8M324.4 429h-3.8M59 418.6h3.8M324.4 418.6h-3.8M59 408.2h3.8M324.4 408.2h-3.8M59 397.7h3.8M324.4 397.7h-3.8M59 387.3h7M324.4 387.3h-7M59 376.9h3.8M324.4 376.9h-3.8M59 366.4h3.8M324.4 366.4h-3.8M59 356h3.8M324.4 356h-3.8M59 345.6h3.8M324.4 345.6h-3.8M59 335.1h7M324.4 335.1h-7M59 324.7h3.8M324.4 324.7h-3.8M59 314.3h3.8M324.4 314.3h-3.8M59 303.9h3.8M324.4 303.9h-3.8M59 293.4h3.8M324.4 293.4h-3.8M59 283h7M324.4 283h-7" stroke="#000" stroke-width="1.2" fill="none"/>
<g clip-path="url(#cpc)">
<path d="M63.2 491.6L64.3 491.6L65.5 491.6L66.6 491.6L67.8 491.6L68.9 491.6L70.1 491.6L71.2 491.6L72.4 491.6L73.5 491.6L74.7 491.6L75.8 491.6L77 491.6L78.2 491.6L79.3 491.6L80.5 491.6L81.6 491.6L82.8 491.6L83.9 491.6L85.1 491.6L86.2 491.6L87.4 491.6L88.5 491.6L89.7 491.6L90.8 491.6L92 491.6L93.2 491.6L94.3 491.6L95.5 491.6L96.6 491.6L97.8 491.6L98.9 491.6L100.1 491.6L101.2 491.6L102.4 491.6L103.5 491.6L104.7 491.6L105.8 491.6L107 491.6L108.2 491.6L109.3 491.6L110.5 491.6L111.6 491.6L112.8 491.6L113.9 491.6L115.1 491.6L116.2 491.6L117.4 491.6L118.5 491.6L119.7 491.6L120.8 491.6L122 491.6L123.2 491.6L124.3 491.6L125.5 491.6L126.6 491.6L127.8 491.6L128.9 491.6L130.1 491.6L131.2 491.6L132.4 491.6L133.5 491.6L134.7 491.6L135.9 491.6L137 491.6L138.2 491.6L139.3 491.6L140.5 491.6L141.6 491.6L142.8 491.6L143.9 491.6L145.1 491.6L146.2 491.6L147.4 491.6L148.5 491.6L149.7 491.6L150.9 491.6L152 491.6L153.2 491.6L154.3 491.6L155.5 491.6L156.6 491.6L157.8 491.6L158.9 491.6L160.1 491.6L161.2 491.6L162.4 491.6L163.5 491.6L164.7 491.6L165.9 491.6L167 491.6L168.2 491.6L169.3 491.6L170.5 491.6L171.6 491.6L172.8 491.6L173.9 491.6L175.1 491.6L176.2 491.6L177.4 491.6L178.5 491.6L179.7 491.6L180.9 491.6L182 491.6L183.2 491.6L184.3 491.6L185.5 491.6L186.6 491.6L187.8 491.6L188.9 491.6L190.1 491.6L191.2 491.6L192.4 491.6L193.5 491.6L194.7 491.6L195.9 491.6L197 491.6L198.2 491.6L199.3 491.6L200.5 491.6L201.6 491.6L202.8 491.6L203.9 491.6L205.1 491.6L206.2 491.6L207.4 491.6L208.5 491.6L209.7 491.5L210.9 491.5L212 491.5L213.2 491.5L214.3 491.5L215.5 491.5L216.6 491.4L217.8 491.4L218.9 491.4L220.1 491.3L221.2 491.3L222.4 491.2L223.5 491.1L224.7 491.1L225.9 491L227 490.9L228.2 490.7L229.3 490.6L230.5 490.5L231.6 490.3L232.8 490.1L233.9 489.9L235.1 489.7L236.2 489.5L237.4 489.2L238.5 488.9L239.7 488.6L240.9 488.3L242 487.9L243.2 487.5L244.3 487.1L245.5 486.7L246.6 486.2L247.8 485.7L248.9 485.2L250.1 484.6L251.2 484L252.4 483.5L253.5 482.9L254.7 482.2L255.9 481.6L257 481L258.2 480.3L259.3 479.7L260.5 479.1L261.6 478.4L262.8 477.8L263.9 477.2L265.1 476.7L266.2 476.1L267.4 475.6L268.6 475.1L269.7 474.7L270.9 474.3L272 474L273.2 473.7L274.3 473.5L275.5 473.3L276.6 473.2L277.8 473.1L278.9 473.1L280.1 473.2L281.2 473.3L282.4 473.5L283.6 473.8L284.7 474.1L285.9 474.4L287 474.8L288.2 475.2L289.3 475.7L290.5 476.2L291.6 476.8L292.8 477.4L293.9 478L295.1 478.6L296.2 479.2L297.4 479.8L298.6 480.5L299.7 481.1L300.9 481.7L302 482.4L303.2 483L304.3 483.6L305.5 484.2L306.6 484.7L307.8 485.3L308.9 485.8L310.1 486.3L311.2 486.7L312.4 487.2L313.6 487.6L314.7 488L315.9 488.3L317 488.7L318.2 489L319.3 489.3L320.5 489.5L321.6 489.8L322.8 490L323.9 490.2" fill="none" stroke="#FF0000" stroke-width="1.4" stroke-dasharray="7.6 3.2 2 2.9"/>
<path d="M63.2 491.6L64.3 491.6L65.5 491.6L66.6 491.6L67.8 491.6L68.9 491.6L70.1 491.6L71.2 491.6L72.4 491.6L73.5 491.6L74.7 491.6L75.8 491.6L77 491.6L78.2 491.6L79.3 491.6L80.5 491.5L81.6 491.5L82.8 491.5L83.9 491.5L85.1 491.5L86.2 491.5L87.4 491.5L88.5 491.5L89.7 491.5L90.8 491.5L92 491.4L93.2 491.4L94.3 491.4L95.5 491.4L96.6 491.3L97.8 491.3L98.9 491.3L100.1 491.3L101.2 491.2L102.4 491.2L103.5 491.1L104.7 491.1L105.8 491L107 491L108.2 490.9L109.3 490.8L110.5 490.8L111.6 490.7L112.8 490.6L113.9 490.5L115.1 490.4L116.2 490.3L117.4 490.2L118.5 490.1L119.7 489.9L120.8 489.8L122 489.6L123.2 489.4L124.3 489.3L125.5 489.1L126.6 488.9L127.8 488.6L128.9 488.4L130.1 488.1L131.2 487.9L132.4 487.6L133.5 487.3L134.7 487L135.9 486.6L137 486.3L138.2 485.9L139.3 485.5L140.5 485.1L141.6 484.6L142.8 484.2L143.9 483.7L145.1 483.2L146.2 482.6L147.4 482.1L148.5 481.5L149.7 480.9L150.9 480.3L152 479.6L153.2 478.9L154.3 478.2L155.5 477.5L156.6 476.7L157.8 476L158.9 475.2L160.1 474.3L161.2 473.5L162.4 472.6L163.5 471.8L164.7 470.8L165.9 469.9L167 469L168.2 468L169.3 467L170.5 466.1L171.6 465.1L172.8 464L173.9 463L175.1 462L176.2 461L177.4 459.9L178.5 458.9L179.7 457.9L180.9 456.8L182 455.8L183.2 454.8L184.3 453.8L185.5 452.8L186.6 451.8L187.8 450.9L188.9 449.9L190.1 449L191.2 448.1L192.4 447.3L193.5 446.4L194.7 445.6L195.9 444.9L197 444.1L198.2 443.4L199.3 442.8L200.5 442.2L201.6 441.6L202.8 441.1L203.9 440.6L205.1 440.2L206.2 439.8L207.4 439.5L208.5 439.2L209.7 439L210.9 438.9L212 438.8L213.2 438.7L214.3 438.7L215.5 438.8L216.6 438.9L217.8 439.1L218.9 439.3L220.1 439.6L221.2 440L222.4 440.4L223.5 440.8L224.7 441.4L225.9 441.9L227 442.5L228.2 443.2L229.3 443.9L230.5 444.6L231.6 445.4L232.8 446.2L233.9 447.1L235.1 448L236.2 448.9L237.4 449.8L238.5 450.8L239.7 451.8L240.9 452.8L242 453.8L243.2 454.9L244.3 455.9L245.5 457L246.6 458L247.8 459.1L248.9 460.2L250.1 461.2L251.2 462.3L252.4 463.4L253.5 464.4L254.7 465.4L255.9 466.5L257 467.5L258.2 468.5L259.3 469.5L260.5 470.4L261.6 471.4L262.8 472.3L263.9 473.2L265.1 474.1L266.2 474.9L267.4 475.8L268.6 476.6L269.7 477.4L270.9 478.1L272 478.8L273.2 479.6L274.3 480.2L275.5 480.9L276.6 481.5L277.8 482.1L278.9 482.7L280.1 483.2L281.2 483.8L282.4 484.3L283.6 484.7L284.7 485.2L285.9 485.6L287 486L288.2 486.4L289.3 486.8L290.5 487.1L291.6 487.4L292.8 487.7L293.9 488L295.1 488.3L296.2 488.5L297.4 488.8L298.6 489L299.7 489.2L300.9 489.4L302 489.6L303.2 489.7L304.3 489.9L305.5 490L306.6 490.2L307.8 490.3L308.9 490.4L310.1 490.5L311.2 490.6L312.4 490.7L313.6 490.8L314.7 490.9L315.9 490.9L317 491L318.2 491L319.3 491.1L320.5 491.1L321.6 491.2L322.8 491.2L323.9 491.3" fill="none" stroke="#2A8C8C" stroke-width="1.4" stroke-dasharray="7.6 3.2 2 2.9"/>
<path d="M63.2 487.6L64.3 487.2L65.5 486.8L66.6 486.3L67.8 485.8L68.9 485.3L70.1 484.7L71.2 484.1L72.4 483.4L73.5 482.6L74.7 481.9L75.8 481L77 480.1L78.2 479.2L79.3 478.1L80.5 477L81.6 475.9L82.8 474.7L83.9 473.4L85.1 472L86.2 470.5L87.4 469L88.5 467.4L89.7 465.7L90.8 463.9L92 462.1L93.2 460.1L94.3 458.1L95.5 456L96.6 453.8L97.8 451.5L98.9 449.2L100.1 446.7L101.2 444.2L102.4 441.6L103.5 438.9L104.7 436.2L105.8 433.4L107 430.5L108.2 427.5L109.3 424.5L110.5 421.5L111.6 418.4L112.8 415.2L113.9 412.1L115.1 408.9L116.2 405.7L117.4 402.4L118.5 399.2L119.7 396L120.8 392.8L122 389.6L123.2 386.4L124.3 383.3L125.5 380.2L126.6 377.2L127.8 374.3L128.9 371.4L130.1 368.6L131.2 366L132.4 363.4L133.5 360.9L134.7 358.6L135.9 356.4L137 354.3L138.2 352.4L139.3 350.6L140.5 349L141.6 347.6L142.8 346.3L143.9 345.2L145.1 344.3L146.2 343.5L147.4 343L148.5 342.6L149.7 342.5L150.9 342.5L152 342.8L153.2 343.4L154.3 344.2L155.5 345.3L156.6 346.6L157.8 348.2L158.9 350L160.1 352L161.2 354.3L162.4 356.8L163.5 359.4L164.7 362.3L165.9 365.3L167 368.4L168.2 371.7L169.3 375.1L170.5 378.7L171.6 382.3L172.8 386L173.9 389.7L175.1 393.5L176.2 397.3L177.4 401.1L178.5 405L179.7 408.8L180.9 412.6L182 416.3L183.2 420L184.3 423.7L185.5 427.2L186.6 430.7L187.8 434.2L188.9 437.5L190.1 440.7L191.2 443.8L192.4 446.8L193.5 449.7L194.7 452.5L195.9 455.1L197 457.6L198.2 460.1L199.3 462.4L200.5 464.5L201.6 466.6L202.8 468.5L203.9 470.4L205.1 472.1L206.2 473.7L207.4 475.2L208.5 476.6L209.7 477.9L210.9 479.2L212 480.3L213.2 481.3L214.3 482.3L215.5 483.2L216.6 484L217.8 484.8L218.9 485.5L220.1 486.1L221.2 486.7L222.4 487.2L223.5 487.7L224.7 488.1L225.9 488.5L227 488.8L228.2 489.1L229.3 489.4L230.5 489.7L231.6 489.9L232.8 490.1L233.9 490.3L235.1 490.4L236.2 490.6L237.4 490.7L238.5 490.8L239.7 490.9L240.9 491L242 491.1L243.2 491.2L244.3 491.2L245.5 491.3L246.6 491.3L247.8 491.4L248.9 491.4L250.1 491.4L251.2 491.4L252.4 491.5L253.5 491.5L254.7 491.5L255.9 491.5L257 491.5L258.2 491.5L259.3 491.6L260.5 491.6L261.6 491.6L262.8 491.6L263.9 491.6L265.1 491.6L266.2 491.6L267.4 491.6L268.6 491.6L269.7 491.6L270.9 491.6L272 491.6L273.2 491.6L274.3 491.6L275.5 491.6L276.6 491.6L277.8 491.6L278.9 491.6L280.1 491.6L281.2 491.6L282.4 491.6L283.6 491.6L284.7 491.6L285.9 491.6L287 491.6L288.2 491.6L289.3 491.6L290.5 491.6L291.6 491.6L292.8 491.6L293.9 491.6L295.1 491.6L296.2 491.6L297.4 491.6L298.6 491.6L299.7 491.6L300.9 491.6L302 491.6L303.2 491.6L304.3 491.6L305.5 491.6L306.6 491.6L307.8 491.6L308.9 491.6L310.1 491.6L311.2 491.6L312.4 491.6L313.6 491.6L314.7 491.6L315.9 491.6L317 491.6L318.2 491.6L319.3 491.6L320.5 491.6L321.6 491.6L322.8 491.6L323.9 491.6" fill="none" stroke="#0000FF" stroke-width="1.4" stroke-dasharray="7.6 3.2 2 2.9"/>
<path d="M63.2 490.3L64.3 490.1L65.5 490L66.6 489.8L67.8 489.5L68.9 489.3L70.1 489.1L71.2 488.8L72.4 488.5L73.5 488.2L74.7 487.8L75.8 487.4L77 487L78.2 486.6L79.3 486.2L80.5 485.7L81.6 485.2L82.8 484.7L83.9 484.1L85.1 483.5L86.2 482.9L87.4 482.3L88.5 481.7L89.7 481L90.8 480.3L92 479.6L93.2 478.9L94.3 478.2L95.5 477.4L96.6 476.7L97.8 476L98.9 475.2L100.1 474.5L101.2 473.8L102.4 473.1L103.5 472.4L104.7 471.7L105.8 471.1L107 470.5L108.2 469.9L109.3 469.4L110.5 468.9L111.6 468.4L112.8 468L113.9 467.7L115.1 467.3L116.2 467.1L117.4 466.9L118.5 466.8L119.7 466.7L120.8 466.7L122 466.7L123.2 466.8L124.3 467L125.5 467.2L126.6 467.4L127.8 467.8L128.9 468.1L130.1 468.5L131.2 469L132.4 469.5L133.5 470L134.7 470.6L135.9 471.2L137 471.9L138.2 472.5L139.3 473.2L140.5 473.9L141.6 474.6L142.8 475.3L143.9 476L145.1 476.8L146.2 477.5L147.4 478.2L148.5 478.9L149.7 479.6L150.9 480.3L152 481L153.2 481.7L154.3 482.3L155.5 482.9L156.6 483.5L157.8 484.1L158.9 484.6L160.1 485.1L161.2 485.6L162.4 486.1L163.5 486.6L164.7 487L165.9 487.4L167 487.7L168.2 488.1L169.3 488.4L170.5 488.7L171.6 489L172.8 489.2L173.9 489.5L175.1 489.7L176.2 489.9L177.4 490.1L178.5 490.2L179.7 490.4L180.9 490.5L182 490.7L183.2 490.8L184.3 490.9L185.5 491L186.6 491L187.8 491.1L188.9 491.2L190.1 491.2L191.2 491.3L192.4 491.3L193.5 491.4L194.7 491.4L195.9 491.4L197 491.4L198.2 491.5L199.3 491.5L200.5 491.5L201.6 491.5L202.8 491.5L203.9 491.5L205.1 491.5L206.2 491.6L207.4 491.6L208.5 491.6L209.7 491.6L210.9 491.6L212 491.6L213.2 491.6L214.3 491.6L215.5 491.6L216.6 491.6L217.8 491.6L218.9 491.6L220.1 491.6L221.2 491.6L222.4 491.6L223.5 491.6L224.7 491.6L225.9 491.6L227 491.6L228.2 491.6L229.3 491.6L230.5 491.6L231.6 491.6L232.8 491.6L233.9 491.6L235.1 491.6L236.2 491.6L237.4 491.6L238.5 491.6L239.7 491.6L240.9 491.6L242 491.6L243.2 491.6L244.3 491.6L245.5 491.6L246.6 491.6L247.8 491.6L248.9 491.6L250.1 491.6L251.2 491.6L252.4 491.6L253.5 491.6L254.7 491.6L255.9 491.6L257 491.6L258.2 491.6L259.3 491.6L260.5 491.6L261.6 491.6L262.8 491.6L263.9 491.6L265.1 491.6L266.2 491.6L267.4 491.6L268.6 491.6L269.7 491.6L270.9 491.6L272 491.6L273.2 491.6L274.3 491.6L275.5 491.6L276.6 491.6L277.8 491.6L278.9 491.6L280.1 491.6L281.2 491.6L282.4 491.6L283.6 491.6L284.7 491.6L285.9 491.6L287 491.6L288.2 491.6L289.3 491.6L290.5 491.6L291.6 491.6L292.8 491.6L293.9 491.6L295.1 491.6L296.2 491.6L297.4 491.6L298.6 491.6L299.7 491.6L300.9 491.6L302 491.6L303.2 491.6L304.3 491.6L305.5 491.6L306.6 491.6L307.8 491.6L308.9 491.6L310.1 491.6L311.2 491.6L312.4 491.6L313.6 491.6L314.7 491.6L315.9 491.6L317 491.6L318.2 491.6L319.3 491.6L320.5 491.6L321.6 491.6L322.8 491.6L323.9 491.6" fill="none" stroke="#1F8A1F" stroke-width="1.4" stroke-dasharray="7.6 3.2 2 2.9"/>
<path d="M63.2 486.6L64.3 485.9L65.5 485.2L66.6 484.3L67.8 483.2L68.9 482.1L70.1 481L71.2 479.9L72.4 479L73.5 478L74.7 477L75.8 475.9L77 474.7L78.2 473.2L79.3 471.6L80.5 470L81.6 468.3L82.8 466.8L83.9 465.3L85.1 463.8L86.2 462.3L87.4 460.7L88.5 458.9L89.7 457.1L90.8 455.1L92 453L93.2 450.7L94.3 448.3L95.5 445.6L96.6 442.8L97.8 439.8L98.9 436.7L100.1 433.4L101.2 430.2L102.4 426.9L103.5 423.6L104.7 420.3L105.8 417.1L107 413.8L108.2 410.6L109.3 407.3L110.5 404L111.6 400.6L112.8 397.3L113.9 393.9L115.1 390.5L116.2 387L117.4 383.5L118.5 379.9L119.7 376.1L120.8 372.3L122 368.5L123.2 364.7L124.3 361L125.5 357.5L126.6 354.1L127.8 350.9L128.9 348L130.1 345.1L131.2 342.1L132.4 339.3L133.5 336.5L134.7 333.9L135.9 331.5L137 329.3L138.2 327.4L139.3 325.9L140.5 324.6L141.6 323.4L142.8 322.3L143.9 321.5L145.1 321L146.2 321L147.4 321.3L148.5 321.9L149.7 322.5L150.9 323.2L152 323.9L153.2 324.7L154.3 325.5L155.5 326.5L156.6 327.5L157.8 328.7L158.9 329.8L160.1 331.1L161.2 332.4L162.4 333.8L163.5 335.2L164.7 336.7L165.9 338.4L167 340.3L168.2 342.4L169.3 344.8L170.5 348L171.6 351.6L172.8 355.3L173.9 358.7L175.1 361.7L176.2 364.7L177.4 367.5L178.5 370.3L179.7 373.1L180.9 375.7L182 378.2L183.2 380.6L184.3 382.8L185.5 384.9L186.6 386.7L187.8 388.4L188.9 389.9L190.1 391.4L191.2 392.8L192.4 394.2L193.5 395.5L194.7 396.7L195.9 398L197 399.3L198.2 400.6L199.3 402L200.5 403.4L201.6 404.8L202.8 406.3L203.9 407.7L205.1 409.2L206.2 410.6L207.4 412L208.5 413.4L209.7 414.7L210.9 416L212 417.3L213.2 418.7L214.3 419.9L215.5 421.2L216.6 422.5L217.8 423.8L218.9 425L220.1 426.2L221.2 427.5L222.4 428.7L223.5 429.8L224.7 431L225.9 432.2L227 433.3L228.2 434.5L229.3 435.6L230.5 436.8L231.6 437.9L232.8 439.1L233.9 440.3L235.1 441.5L236.2 442.7L237.4 443.9L238.5 445.1L239.7 446.3L240.9 447.4L242 448.5L243.2 449.5L244.3 450.4L245.5 451.4L246.6 452.3L247.8 453.1L248.9 454L250.1 454.8L251.2 455.6L252.4 456.3L253.5 457L254.7 457.7L255.9 458.3L257 458.9L258.2 459.4L259.3 460L260.5 460.5L261.6 461L262.8 461.4L263.9 461.9L265.1 462.3L266.2 462.7L267.4 463L268.6 463.3L269.7 463.6L270.9 463.8L272 464.1L273.2 464.3L274.3 464.5L275.5 464.8L276.6 465.1L277.8 465.4L278.9 465.8L280.1 466.2L281.2 466.6L282.4 467.2L283.6 467.7L284.7 468.3L285.9 468.9L287 469.5L288.2 470.2L289.3 470.8L290.5 471.4L291.6 472.2L292.8 472.9L293.9 473.7L295.1 474.5L296.2 475.4L297.4 476.2L298.6 477L299.7 477.7L300.9 478.4L302 479.1L303.2 479.7L304.3 480.3L305.5 480.9L306.6 481.5L307.8 482.1L308.9 482.7L310.1 483.2L311.2 483.6L312.4 484L313.6 484.4L314.7 484.8L315.9 485.1L317 485.4L318.2 485.7L319.3 486L320.5 486.3L321.6 486.5L322.8 486.7L323.9 486.9" fill="none" stroke="#FF8000" stroke-width="1.4" stroke-dasharray="7.6 3.2 2 2.9"/>
</g>
<g font-family='"Liberation Sans", sans-serif' font-size="16.8">
<text x="93.6" y="513.5" text-anchor="middle">1.5</text>
<text x="151.3" y="513.5" text-anchor="middle">2.0</text>
<text x="209" y="513.5" text-anchor="middle">2.5</text>
<text x="266.7" y="513.5" text-anchor="middle">3.0</text>
<text x="324.4" y="513.5" text-anchor="middle">3.5</text>
<text x="51" y="496.3" text-anchor="end">0.0</text>
<text x="51" y="444.2" text-anchor="end">0.5</text>
<text x="51" y="392" text-anchor="end">1.0</text>
<text x="51" y="339.8" text-anchor="end">1.5</text>
<text x="51" y="287.7" text-anchor="end">2.0</text>
</g>
<text x="194.5" y="533.4" font-family='"Liberation Serif", serif' font-weight="bold" font-size="19.5" text-anchor="middle">Energy(eV)</text>
<text transform="translate(20.5 387.3) rotate(-90)" font-family='"Liberation Serif", serif' font-weight="bold" font-size="19.1" text-anchor="middle">IL Intensity(<tspan font-weight="normal">&#215;10</tspan><tspan font-weight="normal" font-size="11.5" dy="-8.3">4</tspan><tspan dy="8.3">a.u./eV)</tspan></text>
<text x="62.8" y="309.9" font-family='"Liberation Serif", serif' font-size="26">(c)</text>
<g font-family='"Liberation Sans", sans-serif' font-size="15">
<circle cx="248.1" cy="297.4" r="2.4" fill="none" stroke="#555" stroke-width="0.9"/>
<text x="269.2" y="302.8">60s</text>
<path d="M230.1 316.4H266.1" stroke="#FF0000" stroke-width="1.8" stroke-dasharray="7.6 3.2 2 2.9"/>
<text x="269.2" y="321.8">3.10eV</text>
<path d="M230.1 335.4H266.1" stroke="#2A8C8C" stroke-width="1.8" stroke-dasharray="7.6 3.2 2 2.9"/>
<text x="269.2" y="340.8">2.54eV</text>
<path d="M230.1 354.4H266.1" stroke="#0000FF" stroke-width="1.8" stroke-dasharray="7.6 3.2 2 2.9"/>
<text x="269.2" y="359.8">1.98eV</text>
<path d="M230.1 373.4H266.1" stroke="#1F8A1F" stroke-width="1.8" stroke-dasharray="7.6 3.2 2 2.9"/>
<text x="269.2" y="378.8">1.74eV</text>
<path d="M230.1 392.4H266.1" stroke="#FF8000" stroke-width="1.8" stroke-dasharray="7.6 3.2 2 2.9"/>
<text x="269.2" y="397.8">Cumu.</text>
</g>
<clipPath id="cpd"><rect x="408.4" y="286" width="265.4" height="211"/></clipPath>
<g clip-path="url(#cpd)">
<g fill="#fff" stroke="#111" stroke-width="0.8"><circle cx="412.6" cy="472.5" r="2.4"/><circle cx="413.4" cy="472.5" r="2.4"/><circle cx="413.1" cy="472.1" r="2.4"/><circle cx="413.7" cy="472.5" r="2.4"/><circle cx="414.1" cy="472.3" r="2.4"/><circle cx="414.1" cy="472.8" r="2.4"/><circle cx="414.3" cy="472.4" r="2.4"/><circle cx="415" cy="471.7" r="2.4"/><circle cx="415" cy="471.9" r="2.4"/><circle cx="415.2" cy="472.1" r="2.4"/><circle cx="415.8" cy="472.3" r="2.4"/><circle cx="415.8" cy="471.7" r="2.4"/><circle cx="416.1" cy="472.2" r="2.4"/><circle cx="416.7" cy="471.2" r="2.4"/><circle cx="417" cy="471.3" r="2.4"/><circle cx="417.1" cy="471" r="2.4"/><circle cx="417.4" cy="471.8" r="2.4"/><circle cx="417.8" cy="470.1" r="2.4"/><circle cx="418.3" cy="470.2" r="2.4"/><circle cx="418.6" cy="470.9" r="2.4"/><circle cx="418.7" cy="470.9" r="2.4"/><circle cx="418.9" cy="470.1" r="2.4"/><circle cx="419.3" cy="469.9" r="2.4"/><circle cx="419.8" cy="469.7" r="2.4"/><circle cx="419.8" cy="469.7" r="2.4"/><circle cx="420.3" cy="469.3" r="2.4"/><circle cx="420.6" cy="468.8" r="2.4"/><circle cx="421.2" cy="469.4" r="2.4"/><circle cx="421.3" cy="468.4" r="2.4"/><circle cx="421.8" cy="467.3" r="2.4"/><circle cx="421.9" cy="466.6" r="2.4"/><circle cx="422.3" cy="466.6" r="2.4"/><circle cx="422.8" cy="466.2" r="2.4"/><circle cx="423.1" cy="466.1" r="2.4"/><circle cx="423.3" cy="465.8" r="2.4"/><circle cx="423.8" cy="464.7" r="2.4"/><circle cx="423.6" cy="463.5" r="2.4"/><circle cx="424.5" cy="463.5" r="2.4"/><circle cx="424.7" cy="461.9" r="2.4"/><circle cx="424.7" cy="462.8" r="2.4"/><circle cx="425.5" cy="461.4" r="2.4"/><circle cx="425.5" cy="460.4" r="2.4"/><circle cx="425.8" cy="461.1" r="2.4"/><circle cx="426.3" cy="460.2" r="2.4"/><circle cx="426.6" cy="459.6" r="2.4"/><circle cx="426.7" cy="458.7" r="2.4"/><circle cx="427.6" cy="458.2" r="2.4"/><circle cx="427.8" cy="457.1" r="2.4"/><circle cx="427.8" cy="456.6" r="2.4"/><circle cx="428.5" cy="457.2" r="2.4"/><circle cx="428.6" cy="455.3" r="2.4"/><circle cx="429.2" cy="455.8" r="2.4"/><circle cx="429.4" cy="455.4" r="2.4"/><circle cx="429.5" cy="453.2" r="2.4"/><circle cx="429.8" cy="454" r="2.4"/><circle cx="430.5" cy="453.1" r="2.4"/><circle cx="431.1" cy="451.8" r="2.4"/><circle cx="431.3" cy="451.5" r="2.4"/><circle cx="431.6" cy="449.9" r="2.4"/><circle cx="432.1" cy="450" r="2.4"/><circle cx="432.5" cy="448.3" r="2.4"/><circle cx="432.4" cy="447.1" r="2.4"/><circle cx="433.1" cy="446.6" r="2.4"/><circle cx="433.6" cy="445.2" r="2.4"/><circle cx="434" cy="444.1" r="2.4"/><circle cx="434.2" cy="442" r="2.4"/><circle cx="434.3" cy="441.9" r="2.4"/><circle cx="434.7" cy="439.8" r="2.4"/><circle cx="435" cy="439.2" r="2.4"/><circle cx="435.5" cy="437" r="2.4"/><circle cx="436" cy="436.7" r="2.4"/><circle cx="436.7" cy="434.7" r="2.4"/><circle cx="436.7" cy="433.9" r="2.4"/><circle cx="437.3" cy="432.6" r="2.4"/><circle cx="437.7" cy="430.8" r="2.4"/><circle cx="438" cy="430.1" r="2.4"/><circle cx="438.6" cy="429.2" r="2.4"/><circle cx="439" cy="427.7" r="2.4"/><circle cx="438.9" cy="426.2" r="2.4"/><circle cx="439.9" cy="424.7" r="2.4"/><circle cx="440.3" cy="423.3" r="2.4"/><circle cx="440.6" cy="422.7" r="2.4"/><circle cx="440.7" cy="422" r="2.4"/><circle cx="441.4" cy="420.4" r="2.4"/><circle cx="441.6" cy="419" r="2.4"/><circle cx="442.2" cy="417.6" r="2.4"/><circle cx="442.2" cy="416.2" r="2.4"/><circle cx="442.7" cy="414.9" r="2.4"/><circle cx="443" cy="413.9" r="2.4"/><circle cx="443.6" cy="411.9" r="2.4"/><circle cx="444.4" cy="410.4" r="2.4"/><circle cx="444.4" cy="409.5" r="2.4"/><circle cx="445" cy="408.3" r="2.4"/><circle cx="445.1" cy="405.9" r="2.4"/><circle cx="445.8" cy="405.1" r="2.4"/><circle cx="446.5" cy="404.2" r="2.4"/><circle cx="446.8" cy="401.4" r="2.4"/><circle cx="447" cy="400" r="2.4"/><circle cx="447.7" cy="398.4" r="2.4"/><circle cx="447.9" cy="397" r="2.4"/><circle cx="448.6" cy="395.4" r="2.4"/><circle cx="449" cy="393.7" r="2.4"/><circle cx="449.7" cy="392" r="2.4"/><circle cx="450" cy="390.7" r="2.4"/><circle cx="450" cy="390.1" r="2.4"/><circle cx="450.6" cy="388.8" r="2.4"/><circle cx="451.1" cy="386.3" r="2.4"/><circle cx="451.6" cy="384.7" r="2.4"/><circle cx="452.4" cy="382.9" r="2.4"/><circle cx="452.9" cy="382.5" r="2.4"/><circle cx="452.9" cy="380.2" r="2.4"/><circle cx="453.3" cy="379.6" r="2.4"/><circle cx="453.9" cy="376.8" r="2.4"/><circle cx="454.7" cy="376" r="2.4"/><circle cx="455.1" cy="375.4" r="2.4"/><circle cx="455.5" cy="373" r="2.4"/><circle cx="456.1" cy="371.2" r="2.4"/><circle cx="456.4" cy="371" r="2.4"/><circle cx="456.7" cy="369.4" r="2.4"/><circle cx="457.5" cy="367.8" r="2.4"/><circle cx="457.8" cy="365.9" r="2.4"/><circle cx="458.6" cy="365.2" r="2.4"/><circle cx="458.8" cy="363.5" r="2.4"/><circle cx="459.3" cy="363.2" r="2.4"/><circle cx="460.1" cy="361.6" r="2.4"/><circle cx="460.4" cy="360" r="2.4"/><circle cx="461.2" cy="358.8" r="2.4"/><circle cx="461.5" cy="356.8" r="2.4"/><circle cx="461.8" cy="356.3" r="2.4"/><circle cx="462.5" cy="355.3" r="2.4"/><circle cx="462.7" cy="353.3" r="2.4"/><circle cx="463.6" cy="352.2" r="2.4"/><circle cx="463.8" cy="350.4" r="2.4"/><circle cx="464.3" cy="349.6" r="2.4"/><circle cx="465.2" cy="348" r="2.4"/><circle cx="465.6" cy="347.2" r="2.4"/><circle cx="466.3" cy="346" r="2.4"/><circle cx="466.9" cy="344.5" r="2.4"/><circle cx="467.2" cy="344.1" r="2.4"/><circle cx="467.6" cy="342.1" r="2.4"/><circle cx="468.4" cy="341.3" r="2.4"/><circle cx="468.8" cy="339.8" r="2.4"/><circle cx="469.4" cy="339" r="2.4"/><circle cx="470" cy="337.6" r="2.4"/><circle cx="470.4" cy="337" r="2.4"/><circle cx="470.8" cy="335.7" r="2.4"/><circle cx="471.4" cy="335.6" r="2.4"/><circle cx="472.1" cy="333.7" r="2.4"/><circle cx="472.6" cy="332.5" r="2.4"/><circle cx="473.2" cy="332" r="2.4"/><circle cx="473.7" cy="330.6" r="2.4"/><circle cx="474.3" cy="329.7" r="2.4"/><circle cx="474.9" cy="328.9" r="2.4"/><circle cx="475.7" cy="328.3" r="2.4"/><circle cx="476.4" cy="327.5" r="2.4"/><circle cx="477.1" cy="326.5" r="2.4"/><circle cx="477.7" cy="327" r="2.4"/><circle cx="477.9" cy="327.2" r="2.4"/><circle cx="478.8" cy="326.2" r="2.4"/><circle cx="479.2" cy="327.4" r="2.4"/><circle cx="480.1" cy="326.6" r="2.4"/><circle cx="480.3" cy="327.5" r="2.4"/><circle cx="481.3" cy="326.8" r="2.4"/><circle cx="481.8" cy="327.5" r="2.4"/><circle cx="482.4" cy="328.1" r="2.4"/><circle cx="483.4" cy="328.5" r="2.4"/><circle cx="483.4" cy="329.3" r="2.4"/><circle cx="484.2" cy="329" r="2.4"/><circle cx="485" cy="329.6" r="2.4"/><circle cx="485.4" cy="330.2" r="2.4"/><circle cx="486.5" cy="330.4" r="2.4"/><circle cx="487.2" cy="332.3" r="2.4"/><circle cx="487.4" cy="332.9" r="2.4"/><circle cx="488" cy="333.7" r="2.4"/><circle cx="488.8" cy="334.3" r="2.4"/><circle cx="489.5" cy="335.4" r="2.4"/><circle cx="490.1" cy="336.9" r="2.4"/><circle cx="490.8" cy="337.9" r="2.4"/><circle cx="491.9" cy="338" r="2.4"/><circle cx="492.2" cy="339.5" r="2.4"/><circle cx="492.9" cy="340.2" r="2.4"/><circle cx="494" cy="341.2" r="2.4"/><circle cx="494.5" cy="342.5" r="2.4"/><circle cx="494.9" cy="343.6" r="2.4"/><circle cx="495.8" cy="343.1" r="2.4"/><circle cx="496.4" cy="345.6" r="2.4"/><circle cx="497" cy="345.1" r="2.4"/><circle cx="497.9" cy="346.3" r="2.4"/><circle cx="498.5" cy="347.3" r="2.4"/><circle cx="499.4" cy="349.6" r="2.4"/><circle cx="500" cy="350.7" r="2.4"/><circle cx="501.1" cy="350.7" r="2.4"/><circle cx="501.8" cy="352.9" r="2.4"/><circle cx="502.7" cy="353.2" r="2.4"/><circle cx="503.3" cy="354.3" r="2.4"/><circle cx="504.2" cy="355.4" r="2.4"/><circle cx="504.8" cy="356.2" r="2.4"/><circle cx="505.8" cy="358.5" r="2.4"/><circle cx="506.5" cy="359.7" r="2.4"/><circle cx="507.4" cy="359.5" r="2.4"/><circle cx="508.1" cy="360.9" r="2.4"/><circle cx="508.8" cy="363.3" r="2.4"/><circle cx="509.2" cy="364.5" r="2.4"/><circle cx="510.3" cy="365.4" r="2.4"/><circle cx="510.9" cy="366.5" r="2.4"/><circle cx="511.9" cy="367.3" r="2.4"/><circle cx="512.5" cy="369.8" r="2.4"/><circle cx="513.8" cy="369.9" r="2.4"/><circle cx="514.6" cy="371.9" r="2.4"/><circle cx="515.3" cy="373.7" r="2.4"/><circle cx="516.1" cy="375.5" r="2.4"/><circle cx="516.8" cy="376.5" r="2.4"/><circle cx="517.8" cy="378.6" r="2.4"/><circle cx="518.6" cy="380.2" r="2.4"/><circle cx="519.8" cy="380.4" r="2.4"/><circle cx="520.1" cy="382.3" r="2.4"/><circle cx="521" cy="384.5" r="2.4"/><circle cx="522.1" cy="386.4" r="2.4"/><circle cx="522.9" cy="388.2" r="2.4"/><circle cx="524" cy="389" r="2.4"/><circle cx="524.6" cy="390.2" r="2.4"/><circle cx="525.5" cy="392.9" r="2.4"/><circle cx="526.6" cy="394.4" r="2.4"/><circle cx="527.5" cy="395.8" r="2.4"/><circle cx="528.7" cy="397.8" r="2.4"/><circle cx="529.4" cy="398.8" r="2.4"/><circle cx="530.2" cy="400.9" r="2.4"/><circle cx="531.1" cy="402.7" r="2.4"/><circle cx="532.5" cy="404" r="2.4"/><circle cx="533.4" cy="406.7" r="2.4"/><circle cx="534.4" cy="406.9" r="2.4"/><circle cx="535" cy="408.6" r="2.4"/><circle cx="536.4" cy="410.3" r="2.4"/><circle cx="537.2" cy="412" r="2.4"/><circle cx="538.2" cy="413.6" r="2.4"/><circle cx="539.3" cy="414.7" r="2.4"/><circle cx="540.4" cy="417.4" r="2.4"/><circle cx="541.5" cy="418.4" r="2.4"/><circle cx="542.3" cy="420.2" r="2.4"/><circle cx="543" cy="421.7" r="2.4"/><circle cx="544.3" cy="422.3" r="2.4"/><circle cx="545.6" cy="424.5" r="2.4"/><circle cx="546.3" cy="425.6" r="2.4"/><circle cx="547.4" cy="426.3" r="2.4"/><circle cx="548.6" cy="428.1" r="2.4"/><circle cx="550" cy="430.5" r="2.4"/><circle cx="550.6" cy="431.3" r="2.4"/><circle cx="551.8" cy="432.7" r="2.4"/><circle cx="553.1" cy="434.4" r="2.4"/><circle cx="554.4" cy="435.1" r="2.4"/><circle cx="555.2" cy="436.9" r="2.4"/><circle cx="556.7" cy="438.7" r="2.4"/><circle cx="557.8" cy="439.7" r="2.4"/><circle cx="558.8" cy="441.4" r="2.4"/><circle cx="559.8" cy="442.3" r="2.4"/><circle cx="560.9" cy="443.9" r="2.4"/><circle cx="562.4" cy="444.3" r="2.4"/><circle cx="563.8" cy="446.6" r="2.4"/><circle cx="564.9" cy="448.2" r="2.4"/><circle cx="565.9" cy="448.7" r="2.4"/><circle cx="566.9" cy="449.7" r="2.4"/><circle cx="568.4" cy="451.2" r="2.4"/><circle cx="569.7" cy="453.7" r="2.4"/><circle cx="571.1" cy="453.7" r="2.4"/><circle cx="572.1" cy="455.1" r="2.4"/><circle cx="573.3" cy="456.2" r="2.4"/><circle cx="574.6" cy="457.4" r="2.4"/><circle cx="576.1" cy="458.7" r="2.4"/><circle cx="577.3" cy="459.2" r="2.4"/><circle cx="578.8" cy="460.5" r="2.4"/><circle cx="580" cy="462.2" r="2.4"/><circle cx="581.5" cy="461.8" r="2.4"/><circle cx="582.8" cy="462.4" r="2.4"/><circle cx="584.3" cy="464.4" r="2.4"/><circle cx="585.6" cy="464.7" r="2.4"/><circle cx="586.7" cy="465" r="2.4"/><circle cx="588.4" cy="464.6" r="2.4"/><circle cx="589.6" cy="464.8" r="2.4"/><circle cx="591.2" cy="466" r="2.4"/><circle cx="592.9" cy="466.5" r="2.4"/><circle cx="594" cy="467.7" r="2.4"/><circle cx="595.6" cy="467.5" r="2.4"/><circle cx="597.3" cy="468.5" r="2.4"/><circle cx="598.3" cy="468.4" r="2.4"/><circle cx="600.1" cy="469" r="2.4"/><circle cx="601.6" cy="470.9" r="2.4"/><circle cx="603.4" cy="470.7" r="2.4"/><circle cx="604.8" cy="472.2" r="2.4"/><circle cx="606.3" cy="472.4" r="2.4"/><circle cx="608.1" cy="472.8" r="2.4"/><circle cx="609.5" cy="472.7" r="2.4"/><circle cx="610.9" cy="474.1" r="2.4"/><circle cx="613.1" cy="474" r="2.4"/><circle cx="614.5" cy="474.1" r="2.4"/><circle cx="616" cy="475.2" r="2.4"/><circle cx="617.9" cy="476.2" r="2.4"/><circle cx="619.7" cy="476.8" r="2.4"/><circle cx="621" cy="477.2" r="2.4"/><circle cx="622.8" cy="477.8" r="2.4"/><circle cx="624.5" cy="476.7" r="2.4"/><circle cx="626.4" cy="478" r="2.4"/><circle cx="628.2" cy="477.5" r="2.4"/><circle cx="630.2" cy="478.1" r="2.4"/><circle cx="631.8" cy="478.3" r="2.4"/><circle cx="633.7" cy="479" r="2.4"/><circle cx="635.3" cy="480.2" r="2.4"/><circle cx="637.7" cy="480.7" r="2.4"/><circle cx="639.1" cy="481.5" r="2.4"/><circle cx="641.2" cy="481.6" r="2.4"/><circle cx="642.9" cy="481.7" r="2.4"/><circle cx="644.9" cy="482.1" r="2.4"/><circle cx="646.9" cy="482.6" r="2.4"/><circle cx="649" cy="484.1" r="2.4"/><circle cx="651.4" cy="484.2" r="2.4"/><circle cx="653.5" cy="484.6" r="2.4"/><circle cx="655.3" cy="485.8" r="2.4"/><circle cx="657.1" cy="486.6" r="2.4"/><circle cx="659.4" cy="487" r="2.4"/><circle cx="661.5" cy="488.5" r="2.4"/><circle cx="663.7" cy="489.3" r="2.4"/><circle cx="666.2" cy="489.6" r="2.4"/><circle cx="668.4" cy="488.9" r="2.4"/><circle cx="670.3" cy="490.2" r="2.4"/><circle cx="672.6" cy="489.9" r="2.4"/></g>
</g>
<rect x="408.4" y="286" width="265.4" height="209" fill="none" stroke="#000" stroke-width="1.6"/>
<path d="M408.4 495v-3.8M408.4 286v3.8M419.9 495v-3.8M419.9 286v3.8M431.5 495v-3.8M431.5 286v3.8M443 495v-7M443 286v7M454.6 495v-3.8M454.6 286v3.8M466.1 495v-3.8M466.1 286v3.8M477.6 495v-3.8M477.6 286v3.8M489.2 495v-3.8M489.2 286v3.8M500.7 495v-7M500.7 286v7M512.3 495v-3.8M512.3 286v3.8M523.8 495v-3.8M523.8 286v3.8M535.3 495v-3.8M535.3 286v3.8M546.9 495v-3.8M546.9 286v3.8M558.4 495v-7M558.4 286v7M569.9 495v-3.8M569.9 286v3.8M581.5 495v-3.8M581.5 286v3.8M593 495v-3.8M593 286v3.8M604.6 495v-3.8M604.6 286v3.8M616.1 495v-7M616.1 286v7M627.6 495v-3.8M627.6 286v3.8M639.2 495v-3.8M639.2 286v3.8M650.7 495v-3.8M650.7 286v3.8M662.3 495v-3.8M662.3 286v3.8M673.8 495v-7M673.8 286v7M408.4 495h7M673.8 495h-7M408.4 474.1h3.8M673.8 474.1h-3.8M408.4 453.2h3.8M673.8 453.2h-3.8M408.4 432.3h3.8M673.8 432.3h-3.8M408.4 411.4h3.8M673.8 411.4h-3.8M408.4 390.5h7M673.8 390.5h-7M408.4 369.6h3.8M673.8 369.6h-3.8M408.4 348.7h3.8M673.8 348.7h-3.8M408.4 327.8h3.8M673.8 327.8h-3.8M408.4 306.9h3.8M673.8 306.9h-3.8M408.4 286h7M673.8 286h-7" stroke="#000" stroke-width="1.2" fill="none"/>
<g clip-path="url(#cpd)">
<path d="M412.6 495L413.7 495L414.9 495L416 495L417.2 495L418.3 495L419.5 495L420.6 495L421.8 495L422.9 495L424.1 495L425.2 495L426.4 495L427.6 495L428.7 495L429.9 495L431 495L432.2 495L433.3 495L434.5 495L435.6 495L436.8 495L437.9 495L439.1 495L440.2 495L441.4 495L442.6 495L443.7 495L444.9 495L446 495L447.2 495L448.3 495L449.5 495L450.6 495L451.8 495L452.9 495L454.1 495L455.2 495L456.4 495L457.6 495L458.7 495L459.9 495L461 495L462.2 495L463.3 495L464.5 495L465.6 495L466.8 495L467.9 495L469.1 495L470.2 495L471.4 495L472.6 495L473.7 495L474.9 495L476 495L477.2 495L478.3 495L479.5 495L480.6 495L481.8 495L482.9 495L484.1 495L485.3 495L486.4 495L487.6 495L488.7 495L489.9 495L491 495L492.2 495L493.3 495L494.5 495L495.6 495L496.8 495L497.9 495L499.1 495L500.3 495L501.4 495L502.6 495L503.7 495L504.9 495L506 495L507.2 495L508.3 495L509.5 495L510.6 495L511.8 495L512.9 495L514.1 495L515.3 495L516.4 495L517.6 495L518.7 495L519.9 495L521 495L522.2 495L523.3 495L524.5 495L525.6 495L526.8 495L527.9 495L529.1 495L530.3 495L531.4 495L532.6 495L533.7 495L534.9 495L536 495L537.2 495L538.3 495L539.5 495L540.6 495L541.8 495L542.9 495L544.1 495L545.3 495L546.4 495L547.6 495L548.7 495L549.9 495L551 495L552.2 495L553.3 495L554.5 495L555.6 495L556.8 495L557.9 495L559.1 495L560.3 495L561.4 495L562.6 495L563.7 495L564.9 495L566 495L567.2 495L568.3 495L569.5 495L570.6 495L571.8 495L572.9 495L574.1 495L575.3 495L576.4 495L577.6 495L578.7 495L579.9 495L581 495L582.2 495L583.3 495L584.5 494.9L585.6 494.9L586.8 494.9L587.9 494.9L589.1 494.9L590.3 494.8L591.4 494.8L592.6 494.7L593.7 494.6L594.9 494.6L596 494.5L597.2 494.4L598.3 494.2L599.5 494.1L600.6 493.9L601.8 493.7L602.9 493.5L604.1 493.2L605.3 493L606.4 492.6L607.6 492.3L608.7 491.9L609.9 491.5L611 491.1L612.2 490.6L613.3 490.1L614.5 489.6L615.6 489.1L616.8 488.6L618 488L619.1 487.5L620.3 486.9L621.4 486.4L622.6 485.9L623.7 485.5L624.9 485L626 484.6L627.2 484.3L628.3 484L629.5 483.8L630.6 483.6L631.8 483.5L633 483.5L634.1 483.5L635.3 483.6L636.4 483.7L637.6 483.8L638.7 484L639.9 484.2L641 484.4L642.2 484.6L643.3 484.9L644.5 485.2L645.6 485.5L646.8 485.9L648 486.2L649.1 486.6L650.3 487L651.4 487.3L652.6 487.7L653.7 488.1L654.9 488.5L656 488.9L657.2 489.3L658.3 489.6L659.5 490L660.6 490.3L661.8 490.7L663 491L664.1 491.3L665.3 491.6L666.4 491.9L667.6 492.2L668.7 492.4L669.9 492.7L671 492.9L672.2 493.1L673.3 493.3" fill="none" stroke="#FF0000" stroke-width="1.4" stroke-dasharray="7.6 3.2 2 2.9"/>
<path d="M412.6 495L413.7 495L414.9 495L416 495L417.2 495L418.3 495L419.5 495L420.6 495L421.8 495L422.9 495L424.1 495L425.2 495L426.4 495L427.6 495L428.7 495L429.9 495L431 495L432.2 495L433.3 495L434.5 495L435.6 495L436.8 495L437.9 495L439.1 495L440.2 495L441.4 495L442.6 495L443.7 495L444.9 495L446 495L447.2 495L448.3 495L449.5 495L450.6 495L451.8 495L452.9 495L454.1 495L455.2 495L456.4 495L457.6 495L458.7 495L459.9 495L461 495L462.2 495L463.3 495L464.5 495L465.6 495L466.8 495L467.9 495L469.1 495L470.2 495L471.4 495L472.6 495L473.7 495L474.9 495L476 495L477.2 495L478.3 495L479.5 495L480.6 495L481.8 495L482.9 495L484.1 495L485.3 495L486.4 495L487.6 495L488.7 495L489.9 495L491 495L492.2 495L493.3 495L494.5 495L495.6 495L496.8 495L497.9 495L499.1 495L500.3 495L501.4 495L502.6 495L503.7 495L504.9 495L506 495L507.2 495L508.3 495L509.5 495L510.6 495L511.8 495L512.9 495L514.1 495L515.3 495L516.4 495L517.6 495L518.7 495L519.9 495L521 495L522.2 495L523.3 495L524.5 495L525.6 495L526.8 495L527.9 495L529.1 495L530.3 495L531.4 495L532.6 495L533.7 495L534.9 495L536 495L537.2 495L538.3 495L539.5 495L540.6 495L541.8 495L542.9 495L544.1 495L545.3 495L546.4 495L547.6 495L548.7 494.9L549.9 494.9L551 494.9L552.2 494.9L553.3 494.8L554.5 494.8L555.6 494.8L556.8 494.7L557.9 494.6L559.1 494.5L560.3 494.4L561.4 494.3L562.6 494.2L563.7 494L564.9 493.8L566 493.6L567.2 493.4L568.3 493.1L569.5 492.8L570.6 492.5L571.8 492.1L572.9 491.7L574.1 491.3L575.3 490.9L576.4 490.4L577.6 490L578.7 489.5L579.9 489L581 488.5L582.2 488.1L583.3 487.6L584.5 487.2L585.6 486.8L586.8 486.5L587.9 486.2L589.1 486L590.3 485.8L591.4 485.7L592.6 485.6L593.7 485.6L594.9 485.7L596 485.8L597.2 486L598.3 486.3L599.5 486.6L600.6 486.9L601.8 487.3L602.9 487.7L604.1 488.2L605.3 488.6L606.4 489.1L607.6 489.6L608.7 490.1L609.9 490.5L611 491L612.2 491.4L613.3 491.8L614.5 492.2L615.6 492.5L616.8 492.8L618 493.1L619.1 493.4L620.3 493.6L621.4 493.8L622.6 494L623.7 494.2L624.9 494.3L626 494.5L627.2 494.6L628.3 494.6L629.5 494.7L630.6 494.8L631.8 494.8L633 494.9L634.1 494.9L635.3 494.9L636.4 494.9L637.6 494.9L638.7 495L639.9 495L641 495L642.2 495L643.3 495L644.5 495L645.6 495L646.8 495L648 495L649.1 495L650.3 495L651.4 495L652.6 495L653.7 495L654.9 495L656 495L657.2 495L658.3 495L659.5 495L660.6 495L661.8 495L663 495L664.1 495L665.3 495L666.4 495L667.6 495L668.7 495L669.9 495L671 495L672.2 495L673.3 495" fill="none" stroke="#FF00FF" stroke-width="1.4" stroke-dasharray="7.6 3.2 2 2.9"/>
<path d="M412.6 495L413.7 495L414.9 495L416 495L417.2 495L418.3 495L419.5 495L420.6 495L421.8 495L422.9 495L424.1 495L425.2 495L426.4 495L427.6 495L428.7 495L429.9 495L431 495L432.2 495L433.3 495L434.5 495L435.6 495L436.8 495L437.9 495L439.1 494.9L440.2 494.9L441.4 494.9L442.6 494.9L443.7 494.9L444.9 494.9L446 494.9L447.2 494.9L448.3 494.9L449.5 494.9L450.6 494.9L451.8 494.8L452.9 494.8L454.1 494.8L455.2 494.8L456.4 494.8L457.6 494.7L458.7 494.7L459.9 494.7L461 494.7L462.2 494.6L463.3 494.6L464.5 494.6L465.6 494.5L466.8 494.5L467.9 494.4L469.1 494.4L470.2 494.3L471.4 494.3L472.6 494.2L473.7 494.2L474.9 494.1L476 494L477.2 494L478.3 493.9L479.5 493.8L480.6 493.7L481.8 493.6L482.9 493.5L484.1 493.4L485.3 493.3L486.4 493.2L487.6 493.1L488.7 493L489.9 492.8L491 492.7L492.2 492.6L493.3 492.4L494.5 492.3L495.6 492.1L496.8 491.9L497.9 491.8L499.1 491.6L500.3 491.4L501.4 491.2L502.6 491L503.7 490.8L504.9 490.6L506 490.4L507.2 490.2L508.3 490L509.5 489.8L510.6 489.6L511.8 489.4L512.9 489.1L514.1 488.9L515.3 488.7L516.4 488.4L517.6 488.2L518.7 488L519.9 487.7L521 487.5L522.2 487.3L523.3 487.1L524.5 486.8L525.6 486.6L526.8 486.4L527.9 486.2L529.1 486L530.3 485.8L531.4 485.6L532.6 485.4L533.7 485.2L534.9 485L536 484.8L537.2 484.7L538.3 484.5L539.5 484.4L540.6 484.2L541.8 484.1L542.9 484L544.1 483.9L545.3 483.8L546.4 483.7L547.6 483.7L548.7 483.6L549.9 483.6L551 483.5L552.2 483.5L553.3 483.5L554.5 483.5L555.6 483.5L556.8 483.6L557.9 483.6L559.1 483.7L560.3 483.7L561.4 483.8L562.6 483.9L563.7 484L564.9 484.2L566 484.3L567.2 484.4L568.3 484.6L569.5 484.7L570.6 484.9L571.8 485.1L572.9 485.2L574.1 485.4L575.3 485.6L576.4 485.8L577.6 486L578.7 486.3L579.9 486.5L581 486.7L582.2 486.9L583.3 487.1L584.5 487.4L585.6 487.6L586.8 487.8L587.9 488.1L589.1 488.3L590.3 488.5L591.4 488.8L592.6 489L593.7 489.2L594.9 489.4L596 489.7L597.2 489.9L598.3 490.1L599.5 490.3L600.6 490.5L601.8 490.7L602.9 490.9L604.1 491.1L605.3 491.3L606.4 491.5L607.6 491.7L608.7 491.8L609.9 492L611 492.2L612.2 492.3L613.3 492.5L614.5 492.6L615.6 492.8L616.8 492.9L618 493L619.1 493.1L620.3 493.2L621.4 493.4L622.6 493.5L623.7 493.6L624.9 493.7L626 493.8L627.2 493.8L628.3 493.9L629.5 494L630.6 494.1L631.8 494.1L633 494.2L634.1 494.3L635.3 494.3L636.4 494.4L637.6 494.4L638.7 494.5L639.9 494.5L641 494.5L642.2 494.6L643.3 494.6L644.5 494.6L645.6 494.7L646.8 494.7L648 494.7L649.1 494.8L650.3 494.8L651.4 494.8L652.6 494.8L653.7 494.8L654.9 494.8L656 494.9L657.2 494.9L658.3 494.9L659.5 494.9L660.6 494.9L661.8 494.9L663 494.9L664.1 494.9L665.3 494.9L666.4 494.9L667.6 495L668.7 495L669.9 495L671 495L672.2 495L673.3 495" fill="none" stroke="#2A8C8C" stroke-width="1.4" stroke-dasharray="7.6 3.2 2 2.9"/>
<path d="M412.6 479.3L413.7 478.6L414.9 477.8L416 477L417.2 476.2L418.3 475.4L419.5 474.5L420.6 473.6L421.8 472.7L422.9 471.8L424.1 470.8L425.2 469.8L426.4 468.8L427.6 467.7L428.7 466.6L429.9 465.5L431 464.4L432.2 463.3L433.3 462.1L434.5 460.9L435.6 459.7L436.8 458.4L437.9 457.2L439.1 455.9L440.2 454.6L441.4 453.3L442.6 452L443.7 450.6L444.9 449.2L446 447.9L447.2 446.5L448.3 445.1L449.5 443.7L450.6 442.2L451.8 440.8L452.9 439.4L454.1 437.9L455.2 436.5L456.4 435.1L457.6 433.6L458.7 432.2L459.9 430.8L461 429.3L462.2 427.9L463.3 426.5L464.5 425.1L465.6 423.7L466.8 422.4L467.9 421L469.1 419.7L470.2 418.4L471.4 417.1L472.6 415.8L473.7 414.6L474.9 413.4L476 412.2L477.2 411.1L478.3 410L479.5 408.9L480.6 407.9L481.8 406.9L482.9 406L484.1 405.1L485.3 404.2L486.4 403.4L487.6 402.7L488.7 402L489.9 401.3L491 400.7L492.2 400.1L493.3 399.6L494.5 399.2L495.6 398.8L496.8 398.4L497.9 398.2L499.1 397.9L500.3 397.8L501.4 397.7L502.6 397.6L503.7 397.6L504.9 397.7L506 397.9L507.2 398.2L508.3 398.5L509.5 399L510.6 399.5L511.8 400.2L512.9 400.9L514.1 401.6L515.3 402.5L516.4 403.4L517.6 404.5L518.7 405.5L519.9 406.7L521 407.9L522.2 409.2L523.3 410.5L524.5 411.9L525.6 413.4L526.8 414.8L527.9 416.4L529.1 418L530.3 419.6L531.4 421.2L532.6 422.9L533.7 424.6L534.9 426.4L536 428.1L537.2 429.9L538.3 431.6L539.5 433.4L540.6 435.2L541.8 437L542.9 438.8L544.1 440.6L545.3 442.3L546.4 444.1L547.6 445.9L548.7 447.6L549.9 449.3L551 451L552.2 452.7L553.3 454.3L554.5 455.9L555.6 457.5L556.8 459.1L557.9 460.6L559.1 462.1L560.3 463.5L561.4 464.9L562.6 466.3L563.7 467.7L564.9 469L566 470.2L567.2 471.4L568.3 472.6L569.5 473.8L570.6 474.9L571.8 475.9L572.9 477L574.1 477.9L575.3 478.9L576.4 479.8L577.6 480.7L578.7 481.5L579.9 482.3L581 483.1L582.2 483.8L583.3 484.5L584.5 485.1L585.6 485.7L586.8 486.3L587.9 486.9L589.1 487.4L590.3 487.9L591.4 488.4L592.6 488.9L593.7 489.3L594.9 489.7L596 490.1L597.2 490.4L598.3 490.8L599.5 491.1L600.6 491.4L601.8 491.6L602.9 491.9L604.1 492.1L605.3 492.4L606.4 492.6L607.6 492.8L608.7 492.9L609.9 493.1L611 493.3L612.2 493.4L613.3 493.5L614.5 493.7L615.6 493.8L616.8 493.9L618 494L619.1 494.1L620.3 494.1L621.4 494.2L622.6 494.3L623.7 494.4L624.9 494.4L626 494.5L627.2 494.5L628.3 494.6L629.5 494.6L630.6 494.6L631.8 494.7L633 494.7L634.1 494.7L635.3 494.8L636.4 494.8L637.6 494.8L638.7 494.8L639.9 494.8L641 494.9L642.2 494.9L643.3 494.9L644.5 494.9L645.6 494.9L646.8 494.9L648 494.9L649.1 494.9L650.3 494.9L651.4 495L652.6 495L653.7 495L654.9 495L656 495L657.2 495L658.3 495L659.5 495L660.6 495L661.8 495L663 495L664.1 495L665.3 495L666.4 495L667.6 495L668.7 495L669.9 495L671 495L672.2 495L673.3 495" fill="none" stroke="#0000FF" stroke-width="1.4" stroke-dasharray="7.6 3.2 2 2.9"/>
<path d="M412.6 488.6L413.7 487.9L414.9 487.2L416 486.4L417.2 485.6L418.3 484.7L419.5 483.7L420.6 482.7L421.8 481.6L422.9 480.5L424.1 479.3L425.2 478L426.4 476.6L427.6 475.1L428.7 473.6L429.9 472L431 470.4L432.2 468.7L433.3 466.9L434.5 465L435.6 463.1L436.8 461.1L437.9 459.1L439.1 457L440.2 454.8L441.4 452.6L442.6 450.4L443.7 448.2L444.9 445.9L446 443.7L447.2 441.4L448.3 439.1L449.5 436.9L450.6 434.7L451.8 432.5L452.9 430.3L454.1 428.2L455.2 426.2L456.4 424.2L457.6 422.3L458.7 420.5L459.9 418.8L461 417.3L462.2 415.8L463.3 414.4L464.5 413.2L465.6 412.2L466.8 411.2L467.9 410.5L469.1 409.8L470.2 409.4L471.4 409.1L472.6 408.9L473.7 408.9L474.9 409.2L476 409.8L477.2 410.6L478.3 411.7L479.5 413L480.6 414.5L481.8 416.2L482.9 418.2L484.1 420.3L485.3 422.6L486.4 425L487.6 427.6L488.7 430.3L489.9 433L491 435.9L492.2 438.7L493.3 441.6L494.5 444.5L495.6 447.4L496.8 450.3L497.9 453.1L499.1 455.9L500.3 458.5L501.4 461.2L502.6 463.7L503.7 466.1L504.9 468.4L506 470.6L507.2 472.7L508.3 474.7L509.5 476.6L510.6 478.3L511.8 479.9L512.9 481.4L514.1 482.8L515.3 484.1L516.4 485.3L517.6 486.4L518.7 487.3L519.9 488.2L521 489L522.2 489.8L523.3 490.4L524.5 491L525.6 491.5L526.8 492L527.9 492.4L529.1 492.8L530.3 493.1L531.4 493.3L532.6 493.6L533.7 493.8L534.9 494L536 494.1L537.2 494.3L538.3 494.4L539.5 494.5L540.6 494.6L541.8 494.6L542.9 494.7L544.1 494.8L545.3 494.8L546.4 494.8L547.6 494.9L548.7 494.9L549.9 494.9L551 494.9L552.2 494.9L553.3 495L554.5 495L555.6 495L556.8 495L557.9 495L559.1 495L560.3 495L561.4 495L562.6 495L563.7 495L564.9 495L566 495L567.2 495L568.3 495L569.5 495L570.6 495L571.8 495L572.9 495L574.1 495L575.3 495L576.4 495L577.6 495L578.7 495L579.9 495L581 495L582.2 495L583.3 495L584.5 495L585.6 495L586.8 495L587.9 495L589.1 495L590.3 495L591.4 495L592.6 495L593.7 495L594.9 495L596 495L597.2 495L598.3 495L599.5 495L600.6 495L601.8 495L602.9 495L604.1 495L605.3 495L606.4 495L607.6 495L608.7 495L609.9 495L611 495L612.2 495L613.3 495L614.5 495L615.6 495L616.8 495L618 495L619.1 495L620.3 495L621.4 495L622.6 495L623.7 495L624.9 495L626 495L627.2 495L628.3 495L629.5 495L630.6 495L631.8 495L633 495L634.1 495L635.3 495L636.4 495L637.6 495L638.7 495L639.9 495L641 495L642.2 495L643.3 495L644.5 495L645.6 495L646.8 495L648 495L649.1 495L650.3 495L651.4 495L652.6 495L653.7 495L654.9 495L656 495L657.2 495L658.3 495L659.5 495L660.6 495L661.8 495L663 495L664.1 495L665.3 495L666.4 495L667.6 495L668.7 495L669.9 495L671 495L672.2 495L673.3 495" fill="none" stroke="#1F8A1F" stroke-width="1.4" stroke-dasharray="7.6 3.2 2 2.9"/>
<path d="M412.6 473.2L413.7 472.6L414.9 472.1L416 471.7L417.2 471.2L418.3 470.7L419.5 470L420.6 469.1L421.8 467.6L422.9 465.7L424.1 463.6L425.2 461.5L426.4 459.6L427.6 457.7L428.7 455.9L429.9 453.8L431 451.5L432.2 448.8L433.3 445.4L434.5 441.6L435.6 437.6L436.8 433.8L437.9 430.2L439.1 426.6L440.2 423.1L441.4 419.6L442.6 416L443.7 412.3L444.9 408.4L446 404.5L447.2 400.4L448.3 396.4L449.5 392.4L450.6 388.4L451.8 384.5L452.9 380.8L454.1 377.2L455.2 373.9L456.4 370.6L457.6 367.4L458.7 364.3L459.9 361.3L461 358.4L462.2 355.5L463.3 352.7L464.5 350L465.6 347.4L466.8 344.9L467.9 342.4L469.1 340L470.2 337.8L471.4 335.7L472.6 333.7L473.7 331.5L474.9 329.3L476 327.6L477.2 326.6L478.3 326.6L479.5 326.8L480.6 327.2L481.8 327.6L482.9 328.2L484.1 328.9L485.3 329.9L486.4 331.3L487.6 332.8L488.7 334.3L489.9 335.8L491 337.2L492.2 338.7L493.3 340.3L494.5 341.9L495.6 343.5L496.8 345.1L497.9 346.8L499.1 348.5L500.3 350.1L501.4 351.8L502.6 353.5L503.7 355.2L504.9 356.9L506 358.6L507.2 360.3L508.3 362.1L509.5 363.9L510.6 365.7L511.8 367.6L512.9 369.5L514.1 371.4L515.3 373.4L516.4 375.5L517.6 377.6L518.7 379.6L519.9 381.7L521 383.8L522.2 385.9L523.3 388L524.5 390.1L525.6 392.1L526.8 394.3L527.9 396.4L529.1 398.5L530.3 400.6L531.4 402.7L532.6 404.7L533.7 406.7L534.9 408.6L536 410.4L537.2 412.2L538.3 414L539.5 415.7L540.6 417.4L541.8 419L542.9 420.7L544.1 422.3L545.3 423.9L546.4 425.4L547.6 426.9L548.7 428.4L549.9 429.9L551 431.4L552.2 432.8L553.3 434.2L554.5 435.6L555.6 437L556.8 438.3L557.9 439.7L559.1 441.1L560.3 442.4L561.4 443.8L562.6 445.2L563.7 446.5L564.9 447.8L566 449.1L567.2 450.4L568.3 451.6L569.5 452.8L570.6 453.9L571.8 455L572.9 456L574.1 457.1L575.3 458.2L576.4 459.2L577.6 460.1L578.7 460.9L579.9 461.7L581 462.4L582.2 462.9L583.3 463.4L584.5 463.8L585.6 464.2L586.8 464.6L587.9 465L589.1 465.3L590.3 465.6L591.4 466L592.6 466.4L593.7 466.8L594.9 467.3L596 467.8L597.2 468.3L598.3 468.8L599.5 469.3L600.6 469.8L601.8 470.3L602.9 470.7L604.1 471.2L605.3 471.6L606.4 472.1L607.6 472.5L608.7 472.9L609.9 473.3L611 473.8L612.2 474.1L613.3 474.5L614.5 474.9L615.6 475.2L616.8 475.5L618 475.8L619.1 476.1L620.3 476.4L621.4 476.7L622.6 476.9L623.7 477.2L624.9 477.4L626 477.7L627.2 478L628.3 478.2L629.5 478.5L630.6 478.8L631.8 479L633 479.3L634.1 479.6L635.3 479.8L636.4 480.1L637.6 480.4L638.7 480.7L639.9 481L641 481.3L642.2 481.6L643.3 481.9L644.5 482.2L645.6 482.6L646.8 482.9L648 483.3L649.1 483.6L650.3 484L651.4 484.4L652.6 484.7L653.7 485.2L654.9 485.6L656 486L657.2 486.4L658.3 486.8L659.5 487.2L660.6 487.6L661.8 488L663 488.3L664.1 488.6L665.3 488.9L666.4 489.2L667.6 489.5L668.7 489.8L669.9 490L671 490.3L672.2 490.5L673.3 490.7" fill="none" stroke="#FF8000" stroke-width="1.4" stroke-dasharray="7.6 3.2 2 2.9"/>
</g>
<g font-family='"Liberation Sans", sans-serif' font-size="16.8">
<text x="443" y="516.9" text-anchor="middle">1.5</text>
<text x="500.7" y="516.9" text-anchor="middle">2.0</text>
<text x="558.4" y="516.9" text-anchor="middle">2.5</text>
<text x="616.1" y="516.9" text-anchor="middle">3.0</text>
<text x="673.8" y="516.9" text-anchor="middle">3.5</text>
<text x="400.4" y="499.7" text-anchor="end">0.0</text>
<text x="400.4" y="395.2" text-anchor="end">0.5</text>
<text x="400.4" y="290.7" text-anchor="end">1.0</text>
</g>
<text x="543.5" y="536.2" font-family='"Liberation Serif", serif' font-weight="bold" font-size="19.5" text-anchor="middle">Energy(eV)</text>
<text transform="translate(369.9 390.5) rotate(-90)" font-family='"Liberation Serif", serif' font-weight="bold" font-size="19.1" text-anchor="middle">IL Intensity(<tspan font-weight="normal">&#215;10</tspan><tspan font-weight="normal" font-size="11.5" dy="-8.3">4</tspan><tspan dy="8.3">a.u./eV)</tspan></text>
<text x="411.4" y="312.3" font-family='"Liberation Serif", serif' font-size="26">(d)</text>
<g font-family='"Liberation Sans", sans-serif' font-size="15">
<circle cx="589" cy="303.4" r="2.4" fill="none" stroke="#555" stroke-width="0.9"/>
<text x="610.7" y="308.8">125s</text>
<path d="M571.1 322.4H607" stroke="#FF0000" stroke-width="1.8" stroke-dasharray="7.6 3.2 2 2.9"/>
<text x="610.7" y="327.8">3.15eV</text>
<path d="M571.1 341.4H607" stroke="#FF00FF" stroke-width="1.8" stroke-dasharray="7.6 3.2 2 2.9"/>
<text x="610.7" y="346.8">2.82eV</text>
<path d="M571.1 360.4H607" stroke="#2A8C8C" stroke-width="1.8" stroke-dasharray="7.6 3.2 2 2.9"/>
<text x="610.7" y="365.8">2.47eV</text>
<path d="M571.1 379.4H607" stroke="#0000FF" stroke-width="1.8" stroke-dasharray="7.6 3.2 2 2.9"/>
<text x="610.7" y="384.8">2.02eV</text>
<path d="M571.1 398.4H607" stroke="#1F8A1F" stroke-width="1.8" stroke-dasharray="7.6 3.2 2 2.9"/>
<text x="610.7" y="403.8">1.75eV</text>
<path d="M571.1 417.4H607" stroke="#FF8000" stroke-width="1.8" stroke-dasharray="7.6 3.2 2 2.9"/>
<text x="610.7" y="422.8">Cumu.</text>
</g>
<clipPath id="cpe"><rect x="55.8" y="562.8" width="265.1" height="211.2"/></clipPath>
<g clip-path="url(#cpe)">
<g fill="#fff" stroke="#111" stroke-width="0.8"><path d="M57.4 764.3L62.5 767L57.4 769.6Z"/><path d="M58 763.5L63 766.1L58 768.8Z"/><path d="M58.3 762.7L63.3 765.3L58.3 767.9Z"/><path d="M58.8 762.1L63.8 764.8L58.8 767.4Z"/><path d="M58.8 761.5L63.8 764.2L58.8 766.8Z"/><path d="M59.5 761.4L64.6 764L59.5 766.6Z"/><path d="M60.1 760.4L65.1 763L60.1 765.7Z"/><path d="M60.4 759.5L65.4 762.2L60.4 764.8Z"/><path d="M60.8 758.2L65.8 760.8L60.8 763.5Z"/><path d="M61.4 757.2L66.4 759.8L61.4 762.4Z"/><path d="M61.8 755.8L66.8 758.4L61.8 761.1Z"/><path d="M62.1 754.6L67.1 757.2L62.1 759.9Z"/><path d="M62.3 753.9L67.3 756.5L62.3 759.1Z"/><path d="M63.1 753.8L68.2 756.4L63.1 759Z"/><path d="M63.4 751.9L68.5 754.6L63.4 757.2Z"/><path d="M63.9 750.8L69 753.4L63.9 756.1Z"/><path d="M64.3 749.3L69.3 752L64.3 754.6Z"/><path d="M64.3 749.7L69.3 752.3L64.3 755Z"/><path d="M65.2 748L70.2 750.6L65.2 753.3Z"/><path d="M65.4 746.9L70.5 749.5L65.4 752.1Z"/><path d="M66 746.6L71 749.3L66 751.9Z"/><path d="M66.6 744.5L71.6 747.1L66.6 749.8Z"/><path d="M66.7 743.8L71.8 746.5L66.7 749.1Z"/><path d="M67 742.2L72.1 744.8L67 747.5Z"/><path d="M67.5 741.6L72.5 744.2L67.5 746.8Z"/><path d="M68.3 739.5L73.3 742.2L68.3 744.8Z"/><path d="M68.4 739.4L73.4 742.1L68.4 744.7Z"/><path d="M68.8 739L73.9 741.6L68.8 744.3Z"/><path d="M69.7 736.5L74.8 739.1L69.7 741.8Z"/><path d="M69.9 735.5L75 738.2L69.9 740.8Z"/><path d="M70.5 735.4L75.5 738L70.5 740.6Z"/><path d="M70.7 735.4L75.7 738L70.7 740.7Z"/><path d="M71.3 734.1L76.3 736.7L71.3 739.3Z"/><path d="M71.8 733L76.8 735.7L71.8 738.3Z"/><path d="M72.5 732.5L77.5 735.1L72.5 737.8Z"/><path d="M72.8 732.3L77.8 735L72.8 737.6Z"/><path d="M73.6 732.7L78.6 735.3L73.6 737.9Z"/><path d="M73.9 732.6L78.9 735.2L73.9 737.9Z"/><path d="M74.3 731.1L79.4 733.7L74.3 736.3Z"/><path d="M75 731.9L80.1 734.5L75 737.2Z"/><path d="M75.5 730.6L80.5 733.3L75.5 735.9Z"/><path d="M75.7 730.3L80.8 733L75.7 735.6Z"/><path d="M76.5 729.4L81.6 732L76.5 734.7Z"/><path d="M76.6 729.5L81.6 732.1L76.6 734.8Z"/><path d="M77.1 729.1L82.1 731.7L77.1 734.4Z"/><path d="M77.9 728L82.9 730.6L77.9 733.3Z"/><path d="M78.4 727.2L83.5 729.8L78.4 732.4Z"/><path d="M79 726.6L84 729.3L79 731.9Z"/><path d="M79.4 726.8L84.5 729.5L79.4 732.1Z"/><path d="M79.9 726.6L84.9 729.2L79.9 731.9Z"/><path d="M80.5 725.5L85.5 728.1L80.5 730.8Z"/><path d="M80.8 723.9L85.8 726.5L80.8 729.2Z"/><path d="M81.6 723.9L86.6 726.6L81.6 729.2Z"/><path d="M82.1 722.2L87.1 724.8L82.1 727.5Z"/><path d="M82.5 722.1L87.6 724.8L82.5 727.4Z"/><path d="M83.1 719.9L88.1 722.5L83.1 725.1Z"/><path d="M83.8 718.3L88.9 720.9L83.8 723.6Z"/><path d="M84.5 716.3L89.5 719L84.5 721.6Z"/><path d="M85 715.3L90.1 718L85 720.6Z"/><path d="M85.6 712.2L90.6 714.9L85.6 717.5Z"/><path d="M86.3 709.8L91.3 712.5L86.3 715.1Z"/><path d="M86.6 707.4L91.7 710.1L86.6 712.7Z"/><path d="M86.9 706.2L92 708.9L86.9 711.5Z"/><path d="M87.6 703.3L92.7 706L87.6 708.6Z"/><path d="M88.6 702.1L93.6 704.7L88.6 707.3Z"/><path d="M88.7 700.9L93.7 703.6L88.7 706.2Z"/><path d="M89.4 698.4L94.5 701L89.4 703.7Z"/><path d="M90 696.6L95 699.2L90 701.9Z"/><path d="M90.9 694.2L95.9 696.8L90.9 699.5Z"/><path d="M91 693.5L96.1 696.2L91 698.8Z"/><path d="M91.8 691.2L96.9 693.8L91.8 696.5Z"/><path d="M92.7 689.6L97.7 692.2L92.7 694.8Z"/><path d="M93.3 688.2L98.4 690.8L93.3 693.5Z"/><path d="M94 686.8L99 689.4L94 692.1Z"/><path d="M94.3 684.9L99.4 687.5L94.3 690.1Z"/><path d="M94.8 683L99.8 685.6L94.8 688.3Z"/><path d="M95.7 681.1L100.7 683.8L95.7 686.4Z"/><path d="M96.6 679.9L101.6 682.6L96.6 685.2Z"/><path d="M97.1 678.6L102.2 681.2L97.1 683.9Z"/><path d="M97.6 676.7L102.6 679.3L97.6 681.9Z"/><path d="M98 674.3L103 676.9L98 679.6Z"/><path d="M98.9 672.8L103.9 675.5L98.9 678.1Z"/><path d="M99.4 671.3L104.5 674L99.4 676.6Z"/><path d="M100.1 670.4L105.1 673L100.1 675.7Z"/><path d="M101.1 667.9L106.1 670.5L101.1 673.1Z"/><path d="M101.5 666.1L106.6 668.7L101.5 671.4Z"/><path d="M102.5 664.5L107.6 667.2L102.5 669.8Z"/><path d="M102.9 663.3L107.9 666L102.9 668.6Z"/><path d="M103.6 662.9L108.6 665.5L103.6 668.2Z"/><path d="M104.2 661.1L109.2 663.8L104.2 666.4Z"/><path d="M104.8 659.6L109.8 662.2L104.8 664.8Z"/><path d="M105.9 658.5L111 661.1L105.9 663.7Z"/><path d="M106.5 657L111.6 659.6L106.5 662.2Z"/><path d="M107.1 654.9L112.2 657.6L107.1 660.2Z"/><path d="M108.1 652.8L113.1 655.5L108.1 658.1Z"/><path d="M108.7 652L113.7 654.7L108.7 657.3Z"/><path d="M109.5 650.4L114.5 653L109.5 655.7Z"/><path d="M110.1 649.5L115.2 652.2L110.1 654.8Z"/><path d="M111 648.1L116.1 650.8L111 653.4Z"/><path d="M111.4 646.4L116.5 649.1L111.4 651.7Z"/><path d="M112.1 644.5L117.2 647.1L112.1 649.7Z"/><path d="M113 644.1L118.1 646.7L113 649.3Z"/><path d="M114 641.6L119.1 644.3L114 646.9Z"/><path d="M114.9 640.1L120 642.7L114.9 645.4Z"/><path d="M115.6 638.8L120.6 641.5L115.6 644.1Z"/><path d="M116 637.9L121.1 640.5L116 643.1Z"/><path d="M117 636.3L122 639L117 641.6Z"/><path d="M118.1 636L123.1 638.6L118.1 641.2Z"/><path d="M118.9 634L123.9 636.7L118.9 639.3Z"/><path d="M119.2 633.9L124.2 636.5L119.2 639.2Z"/><path d="M120.1 635.2L125.2 637.9L120.1 640.5Z"/><path d="M121.1 635.7L126.2 638.3L121.1 641Z"/><path d="M122 636.3L127 639L122 641.6Z"/><path d="M122.6 636.1L127.7 638.7L122.6 641.4Z"/><path d="M123.6 637.1L128.6 639.8L123.6 642.4Z"/><path d="M124.6 637.1L129.6 639.7L124.6 642.4Z"/><path d="M125.2 637.7L130.2 640.4L125.2 643Z"/><path d="M126.2 638.2L131.2 640.8L126.2 643.5Z"/><path d="M126.8 639.3L131.9 641.9L126.8 644.6Z"/><path d="M127.9 640.3L132.9 642.9L127.9 645.6Z"/><path d="M128.7 639.9L133.7 642.5L128.7 645.2Z"/><path d="M129.6 640.8L134.6 643.5L129.6 646.1Z"/><path d="M130.6 640.7L135.6 643.4L130.6 646Z"/><path d="M131.8 641.3L136.8 643.9L131.8 646.6Z"/><path d="M132.3 642.8L137.4 645.4L132.3 648.1Z"/><path d="M133.7 642.4L138.7 645.1L133.7 647.7Z"/><path d="M134.1 644.2L139.2 646.8L134.1 649.5Z"/><path d="M135.2 644.5L140.2 647.1L135.2 649.8Z"/><path d="M136 645.2L141.1 647.9L136 650.5Z"/><path d="M137.2 645L142.2 647.6L137.2 650.3Z"/><path d="M138.3 646.7L143.3 649.3L138.3 651.9Z"/><path d="M139.3 646.8L144.3 649.4L139.3 652Z"/><path d="M139.9 648.4L144.9 651.1L139.9 653.7Z"/><path d="M141.2 649L146.3 651.7L141.2 654.3Z"/><path d="M142.1 650.3L147.1 652.9L142.1 655.6Z"/><path d="M143.4 651.5L148.4 654.1L143.4 656.8Z"/><path d="M144.2 652.4L149.3 655L144.2 657.6Z"/><path d="M145.3 653.8L150.4 656.5L145.3 659.1Z"/><path d="M146.5 654.4L151.6 657.1L146.5 659.7Z"/><path d="M147.5 655.2L152.5 657.8L147.5 660.4Z"/><path d="M148.2 657.1L153.2 659.8L148.2 662.4Z"/><path d="M149.2 657.7L154.2 660.4L149.2 663Z"/><path d="M150.6 659.2L155.6 661.8L150.6 664.4Z"/><path d="M151.8 659.8L156.8 662.4L151.8 665.1Z"/><path d="M152.8 660.8L157.9 663.5L152.8 666.1Z"/><path d="M153.5 662.1L158.6 664.7L153.5 667.4Z"/><path d="M154.7 663.1L159.8 665.7L154.7 668.4Z"/><path d="M156.1 665.2L161.2 667.8L156.1 670.5Z"/><path d="M157.3 666.2L162.3 668.9L157.3 671.5Z"/><path d="M158.5 667.8L163.6 670.4L158.5 673.1Z"/><path d="M159.7 670.4L164.8 673L159.7 675.7Z"/><path d="M160.9 672.5L165.9 675.2L160.9 677.8Z"/><path d="M162 673.3L167.1 675.9L162 678.6Z"/><path d="M162.8 676.4L167.9 679L162.8 681.6Z"/><path d="M164.1 677.4L169.1 680.1L164.1 682.7Z"/><path d="M165.6 679.9L170.7 682.6L165.6 685.2Z"/><path d="M166.6 681.9L171.6 684.6L166.6 687.2Z"/><path d="M168.2 685.3L173.3 688L168.2 690.6Z"/><path d="M169.3 686.6L174.3 689.3L169.3 691.9Z"/><path d="M170.7 688.3L175.8 690.9L170.7 693.5Z"/><path d="M172 690.1L177.1 692.8L172 695.4Z"/><path d="M173.1 692.6L178.1 695.3L173.1 697.9Z"/><path d="M174.6 695.2L179.6 697.8L174.6 700.5Z"/><path d="M175.6 696L180.6 698.6L175.6 701.3Z"/><path d="M177.2 697.6L182.2 700.2L177.2 702.8Z"/><path d="M178.5 700.6L183.5 703.2L178.5 705.8Z"/><path d="M180 701.9L185.1 704.5L180 707.2Z"/><path d="M180.8 703.7L185.9 706.3L180.8 709Z"/><path d="M182.7 704.9L187.7 707.6L182.7 710.2Z"/><path d="M184 707.4L189 710.1L184 712.7Z"/><path d="M185.1 709.4L190.1 712L185.1 714.7Z"/><path d="M186.6 709.9L191.7 712.6L186.6 715.2Z"/><path d="M188.2 711.5L193.3 714.2L188.2 716.8Z"/><path d="M189.6 712.9L194.7 715.6L189.6 718.2Z"/><path d="M191.1 715.2L196.1 717.9L191.1 720.5Z"/><path d="M192.5 715.6L197.5 718.3L192.5 720.9Z"/><path d="M194.4 717.7L199.4 720.3L194.4 722.9Z"/><path d="M195.5 719L200.6 721.6L195.5 724.2Z"/><path d="M197.5 720.6L202.5 723.2L197.5 725.8Z"/><path d="M199 721.9L204.1 724.6L199 727.2Z"/><path d="M200.4 723.9L205.4 726.6L200.4 729.2Z"/><path d="M201.8 725L206.8 727.7L201.8 730.3Z"/><path d="M203.5 726L208.5 728.7L203.5 731.3Z"/><path d="M205.5 727.3L210.6 730L205.5 732.6Z"/><path d="M207.2 729.5L212.3 732.1L207.2 734.8Z"/><path d="M208.5 730.6L213.5 733.2L208.5 735.9Z"/><path d="M210 731.8L215.1 734.4L210 737.1Z"/><path d="M212.1 732.1L217.2 734.7L212.1 737.4Z"/><path d="M213.6 733.6L218.7 736.2L213.6 738.8Z"/><path d="M215.7 734.7L220.8 737.3L215.7 740Z"/><path d="M217.2 736.2L222.2 738.8L217.2 741.5Z"/><path d="M219 736.9L224 739.5L219 742.2Z"/><path d="M220.9 737.8L225.9 740.5L220.9 743.1Z"/><path d="M222.5 739.5L227.6 742.1L222.5 744.8Z"/><path d="M224.4 739.8L229.4 742.4L224.4 745.1Z"/><path d="M226.3 741.3L231.4 743.9L226.3 746.6Z"/><path d="M228.7 742.2L233.7 744.9L228.7 747.5Z"/><path d="M230.6 743.2L235.6 745.8L230.6 748.5Z"/><path d="M232 744.1L237 746.7L232 749.4Z"/><path d="M234.5 744L239.5 746.7L234.5 749.3Z"/><path d="M236.2 744.7L241.2 747.3L236.2 750Z"/><path d="M238.2 746.6L243.3 749.2L238.2 751.9Z"/><path d="M240.1 747.9L245.1 750.5L240.1 753.2Z"/><path d="M242.2 748L247.3 750.6L242.2 753.3Z"/><path d="M244.4 749.9L249.4 752.5L244.4 755.2Z"/><path d="M246.8 750.8L251.9 753.4L246.8 756Z"/><path d="M248.7 751.4L253.7 754L248.7 756.7Z"/><path d="M250.9 752.4L256 755L250.9 757.7Z"/><path d="M253.1 752.9L258.1 755.6L253.1 758.2Z"/><path d="M255.6 753.9L260.6 756.5L255.6 759.2Z"/><path d="M257.9 753.8L263 756.4L257.9 759.1Z"/><path d="M260 755.7L265.1 758.3L260 761Z"/><path d="M262.4 754.7L267.4 757.4L262.4 760Z"/><path d="M265 756.1L270 758.8L265 761.4Z"/><path d="M267.1 755.9L272.1 758.5L267.1 761.2Z"/><path d="M269.9 756.8L274.9 759.4L269.9 762Z"/><path d="M272 755.6L277.1 758.3L272 760.9Z"/><path d="M274.9 755.9L280 758.6L274.9 761.2Z"/><path d="M277.2 756.2L282.3 758.9L277.2 761.5Z"/><path d="M280.1 756L285.1 758.6L280.1 761.3Z"/><path d="M282.3 756L287.3 758.7L282.3 761.3Z"/><path d="M285.1 756.8L290.2 759.4L285.1 762.1Z"/><path d="M287.8 756.5L292.8 759.2L287.8 761.8Z"/><path d="M290.4 757.2L295.5 759.9L290.4 762.5Z"/><path d="M293.5 758.5L298.5 761.1L293.5 763.7Z"/><path d="M296 758.5L301.1 761.1L296 763.8Z"/><path d="M298.9 760.9L303.9 763.6L298.9 766.2Z"/><path d="M301.6 760.5L306.6 763.1L301.6 765.8Z"/><path d="M304.6 762.4L309.7 765L304.6 767.7Z"/><path d="M307.7 763.8L312.7 766.5L307.7 769.1Z"/><path d="M311 764.6L316 767.2L311 769.9Z"/><path d="M313.8 765.3L318.8 767.9L313.8 770.6Z"/><path d="M317.1 764.9L322.1 767.5L317.1 770.2Z"/></g>
</g>
<rect x="55.8" y="562.8" width="265.1" height="209.2" fill="none" stroke="#000" stroke-width="1.6"/>
<path d="M55.8 772v-3.8M55.8 562.8v3.8M67.3 772v-3.8M67.3 562.8v3.8M78.9 772v-3.8M78.9 562.8v3.8M90.4 772v-7M90.4 562.8v7M101.9 772v-3.8M101.9 562.8v3.8M113.4 772v-3.8M113.4 562.8v3.8M125 772v-3.8M125 562.8v3.8M136.5 772v-3.8M136.5 562.8v3.8M148 772v-7M148 562.8v7M159.5 772v-3.8M159.5 562.8v3.8M171.1 772v-3.8M171.1 562.8v3.8M182.6 772v-3.8M182.6 562.8v3.8M194.1 772v-3.8M194.1 562.8v3.8M205.6 772v-7M205.6 562.8v7M217.2 772v-3.8M217.2 562.8v3.8M228.7 772v-3.8M228.7 562.8v3.8M240.2 772v-3.8M240.2 562.8v3.8M251.7 772v-3.8M251.7 562.8v3.8M263.3 772v-7M263.3 562.8v7M274.8 772v-3.8M274.8 562.8v3.8M286.3 772v-3.8M286.3 562.8v3.8M297.8 772v-3.8M297.8 562.8v3.8M309.4 772v-3.8M309.4 562.8v3.8M320.9 772v-7M320.9 562.8v7M55.8 772h7M320.9 772h-7M55.8 751.1h3.8M320.9 751.1h-3.8M55.8 730.2h3.8M320.9 730.2h-3.8M55.8 709.2h3.8M320.9 709.2h-3.8M55.8 688.3h3.8M320.9 688.3h-3.8M55.8 667.4h7M320.9 667.4h-7M55.8 646.5h3.8M320.9 646.5h-3.8M55.8 625.6h3.8M320.9 625.6h-3.8M55.8 604.6h3.8M320.9 604.6h-3.8M55.8 583.7h3.8M320.9 583.7h-3.8M55.8 562.8h7M320.9 562.8h-7" stroke="#000" stroke-width="1.2" fill="none"/>
<g clip-path="url(#cpe)">
<path d="M59.9 772L61.1 772L62.3 772L63.4 772L64.6 772L65.7 772L66.9 772L68 772L69.2 772L70.3 772L71.5 772L72.6 772L73.8 772L74.9 772L76.1 772L77.2 772L78.4 772L79.5 772L80.7 772L81.8 772L83 772L84.2 772L85.3 772L86.5 772L87.6 772L88.8 772L89.9 772L91.1 772L92.2 772L93.4 772L94.5 772L95.7 772L96.8 772L98 772L99.1 772L100.3 772L101.4 772L102.6 772L103.7 772L104.9 772L106.1 772L107.2 772L108.4 772L109.5 772L110.7 772L111.8 772L113 772L114.1 772L115.3 772L116.4 772L117.6 772L118.7 772L119.9 772L121 772L122.2 772L123.3 772L124.5 772L125.6 772L126.8 772L128 772L129.1 772L130.3 772L131.4 772L132.6 772L133.7 772L134.9 772L136 772L137.2 772L138.3 772L139.5 772L140.6 772L141.8 772L142.9 772L144.1 772L145.2 772L146.4 772L147.5 772L148.7 772L149.9 772L151 772L152.2 772L153.3 772L154.5 772L155.6 772L156.8 772L157.9 772L159.1 772L160.2 772L161.4 772L162.5 772L163.7 772L164.8 772L166 772L167.1 772L168.3 772L169.4 772L170.6 772L171.8 772L172.9 772L174.1 772L175.2 772L176.4 772L177.5 772L178.7 772L179.8 772L181 772L182.1 772L183.3 772L184.4 772L185.6 772L186.7 772L187.9 772L189 772L190.2 772L191.3 772L192.5 772L193.7 772L194.8 772L196 772L197.1 772L198.3 772L199.4 772L200.6 772L201.7 772L202.9 772L204 772L205.2 772L206.3 771.9L207.5 771.9L208.6 771.9L209.8 771.9L210.9 771.9L212.1 771.9L213.2 771.9L214.4 771.8L215.6 771.8L216.7 771.8L217.9 771.8L219 771.7L220.2 771.7L221.3 771.6L222.5 771.6L223.6 771.5L224.8 771.5L225.9 771.4L227.1 771.3L228.2 771.2L229.4 771.1L230.5 771L231.7 770.9L232.8 770.8L234 770.7L235.1 770.5L236.3 770.4L237.5 770.2L238.6 770L239.8 769.8L240.9 769.6L242.1 769.4L243.2 769.2L244.4 768.9L245.5 768.7L246.7 768.4L247.8 768.2L249 767.9L250.1 767.6L251.3 767.3L252.4 766.9L253.6 766.6L254.7 766.3L255.9 766L257 765.6L258.2 765.3L259.4 765L260.5 764.6L261.7 764.3L262.8 764L264 763.7L265.1 763.4L266.3 763.1L267.4 762.8L268.6 762.5L269.7 762.3L270.9 762.1L272 761.9L273.2 761.7L274.3 761.5L275.5 761.4L276.6 761.3L277.8 761.2L278.9 761.1L280.1 761.1L281.3 761.1L282.4 761.1L283.6 761.2L284.7 761.2L285.9 761.3L287 761.4L288.2 761.5L289.3 761.7L290.5 761.8L291.6 762L292.8 762.2L293.9 762.4L295.1 762.6L296.2 762.8L297.4 763L298.5 763.3L299.7 763.5L300.8 763.8L302 764.1L303.1 764.3L304.3 764.6L305.5 764.9L306.6 765.2L307.8 765.5L308.9 765.7L310.1 766L311.2 766.3L312.4 766.6L313.5 766.8L314.7 767.1L315.8 767.4L317 767.6L318.1 767.9L319.3 768.1L320.4 768.4" fill="none" stroke="#FF0000" stroke-width="1.4" stroke-dasharray="7.6 3.2 2 2.9"/>
<path d="M59.9 772L61.1 772L62.3 772L63.4 772L64.6 772L65.7 772L66.9 772L68 772L69.2 772L70.3 772L71.5 772L72.6 772L73.8 772L74.9 772L76.1 772L77.2 772L78.4 772L79.5 772L80.7 772L81.8 772L83 772L84.2 772L85.3 772L86.5 772L87.6 772L88.8 772L89.9 772L91.1 772L92.2 772L93.4 772L94.5 772L95.7 772L96.8 772L98 772L99.1 772L100.3 772L101.4 772L102.6 772L103.7 772L104.9 772L106.1 772L107.2 772L108.4 772L109.5 772L110.7 772L111.8 772L113 772L114.1 772L115.3 772L116.4 772L117.6 772L118.7 772L119.9 772L121 772L122.2 772L123.3 772L124.5 772L125.6 772L126.8 772L128 772L129.1 772L130.3 772L131.4 772L132.6 772L133.7 772L134.9 772L136 772L137.2 772L138.3 772L139.5 772L140.6 772L141.8 772L142.9 772L144.1 772L145.2 772L146.4 772L147.5 772L148.7 772L149.9 772L151 772L152.2 772L153.3 772L154.5 772L155.6 772L156.8 772L157.9 772L159.1 772L160.2 772L161.4 772L162.5 772L163.7 772L164.8 772L166 772L167.1 772L168.3 772L169.4 772L170.6 772L171.8 772L172.9 772L174.1 772L175.2 772L176.4 772L177.5 772L178.7 772L179.8 772L181 772L182.1 772L183.3 772L184.4 772L185.6 772L186.7 772L187.9 771.9L189 771.9L190.2 771.9L191.3 771.9L192.5 771.8L193.7 771.8L194.8 771.7L196 771.7L197.1 771.6L198.3 771.5L199.4 771.3L200.6 771.2L201.7 771L202.9 770.8L204 770.6L205.2 770.3L206.3 770L207.5 769.7L208.6 769.3L209.8 768.9L210.9 768.4L212.1 767.9L213.2 767.4L214.4 766.8L215.6 766.2L216.7 765.6L217.9 764.9L219 764.3L220.2 763.6L221.3 762.9L222.5 762.3L223.6 761.7L224.8 761.1L225.9 760.6L227.1 760.1L228.2 759.7L229.4 759.3L230.5 759.1L231.7 758.9L232.8 758.8L234 758.8L235.1 759L236.3 759.3L237.5 759.6L238.6 760.1L239.8 760.7L240.9 761.4L242.1 762.1L243.2 762.9L244.4 763.7L245.5 764.5L246.7 765.3L247.8 766L249 766.8L250.1 767.5L251.3 768.1L252.4 768.7L253.6 769.2L254.7 769.7L255.9 770.1L257 770.4L258.2 770.7L259.4 771L260.5 771.2L261.7 771.4L262.8 771.5L264 771.6L265.1 771.7L266.3 771.8L267.4 771.8L268.6 771.9L269.7 771.9L270.9 771.9L272 772L273.2 772L274.3 772L275.5 772L276.6 772L277.8 772L278.9 772L280.1 772L281.3 772L282.4 772L283.6 772L284.7 772L285.9 772L287 772L288.2 772L289.3 772L290.5 772L291.6 772L292.8 772L293.9 772L295.1 772L296.2 772L297.4 772L298.5 772L299.7 772L300.8 772L302 772L303.1 772L304.3 772L305.5 772L306.6 772L307.8 772L308.9 772L310.1 772L311.2 772L312.4 772L313.5 772L314.7 772L315.8 772L317 772L318.1 772L319.3 772L320.4 772" fill="none" stroke="#FF00FF" stroke-width="1.4" stroke-dasharray="7.6 3.2 2 2.9"/>
<path d="M59.9 769.7L61.1 769.5L62.3 769.4L63.4 769.2L64.6 768.9L65.7 768.7L66.9 768.5L68 768.2L69.2 767.9L70.3 767.6L71.5 767.3L72.6 767L73.8 766.6L74.9 766.3L76.1 765.9L77.2 765.5L78.4 765L79.5 764.6L80.7 764.1L81.8 763.6L83 763.1L84.2 762.5L85.3 762L86.5 761.4L87.6 760.7L88.8 760.1L89.9 759.4L91.1 758.7L92.2 758L93.4 757.2L94.5 756.4L95.7 755.6L96.8 754.8L98 753.9L99.1 753L100.3 752L101.4 751.1L102.6 750.1L103.7 749.1L104.9 748L106.1 747L107.2 745.9L108.4 744.8L109.5 743.6L110.7 742.4L111.8 741.3L113 740.1L114.1 738.8L115.3 737.6L116.4 736.3L117.6 735L118.7 733.7L119.9 732.4L121 731.1L122.2 729.8L123.3 728.5L124.5 727.1L125.6 725.8L126.8 724.5L128 723.1L129.1 721.8L130.3 720.5L131.4 719.2L132.6 717.9L133.7 716.6L134.9 715.3L136 714.1L137.2 712.9L138.3 711.7L139.5 710.5L140.6 709.4L141.8 708.2L142.9 707.2L144.1 706.1L145.2 705.1L146.4 704.2L147.5 703.3L148.7 702.4L149.9 701.6L151 700.8L152.2 700.1L153.3 699.4L154.5 698.8L155.6 698.3L156.8 697.8L157.9 697.4L159.1 697L160.2 696.7L161.4 696.4L162.5 696.2L163.7 696.1L164.8 696.1L166 696.1L167.1 696.2L168.3 696.4L169.4 696.7L170.6 697L171.8 697.5L172.9 698.1L174.1 698.7L175.2 699.4L176.4 700.2L177.5 701.1L178.7 702.1L179.8 703.1L181 704.2L182.1 705.4L183.3 706.6L184.4 707.9L185.6 709.2L186.7 710.6L187.9 712.1L189 713.5L190.2 715L191.3 716.5L192.5 718.1L193.7 719.7L194.8 721.3L196 722.9L197.1 724.5L198.3 726.1L199.4 727.7L200.6 729.3L201.7 730.9L202.9 732.5L204 734.1L205.2 735.7L206.3 737.2L207.5 738.7L208.6 740.2L209.8 741.7L210.9 743.1L212.1 744.5L213.2 745.8L214.4 747.2L215.6 748.4L216.7 749.7L217.9 750.9L219 752.1L220.2 753.2L221.3 754.3L222.5 755.3L223.6 756.3L224.8 757.3L225.9 758.2L227.1 759L228.2 759.9L229.4 760.7L230.5 761.4L231.7 762.1L232.8 762.8L234 763.5L235.1 764.1L236.3 764.7L237.5 765.2L238.6 765.7L239.8 766.2L240.9 766.6L242.1 767L243.2 767.4L244.4 767.8L245.5 768.2L246.7 768.5L247.8 768.8L249 769L250.1 769.3L251.3 769.5L252.4 769.7L253.6 769.9L254.7 770.1L255.9 770.3L257 770.5L258.2 770.6L259.4 770.7L260.5 770.9L261.7 771L262.8 771.1L264 771.2L265.1 771.2L266.3 771.3L267.4 771.4L268.6 771.5L269.7 771.5L270.9 771.6L272 771.6L273.2 771.7L274.3 771.7L275.5 771.7L276.6 771.8L277.8 771.8L278.9 771.8L280.1 771.8L281.3 771.9L282.4 771.9L283.6 771.9L284.7 771.9L285.9 771.9L287 771.9L288.2 771.9L289.3 771.9L290.5 771.9L291.6 772L292.8 772L293.9 772L295.1 772L296.2 772L297.4 772L298.5 772L299.7 772L300.8 772L302 772L303.1 772L304.3 772L305.5 772L306.6 772L307.8 772L308.9 772L310.1 772L311.2 772L312.4 772L313.5 772L314.7 772L315.8 772L317 772L318.1 772L319.3 772L320.4 772" fill="none" stroke="#0000FF" stroke-width="1.4" stroke-dasharray="7.6 3.2 2 2.9"/>
<path d="M59.9 763.9L61.1 763.1L62.3 762.2L63.4 761.1L64.6 760.1L65.7 758.9L66.9 757.6L68 756.3L69.2 754.9L70.3 753.4L71.5 751.8L72.6 750.1L73.8 748.3L74.9 746.4L76.1 744.4L77.2 742.4L78.4 740.2L79.5 738L80.7 735.7L81.8 733.3L83 730.9L84.2 728.4L85.3 725.8L86.5 723.2L87.6 720.5L88.8 717.8L89.9 715.1L91.1 712.4L92.2 709.7L93.4 707L94.5 704.4L95.7 701.8L96.8 699.2L98 696.7L99.1 694.3L100.3 692L101.4 689.7L102.6 687.6L103.7 685.6L104.9 683.8L106.1 682.1L107.2 680.6L108.4 679.3L109.5 678.1L110.7 677.1L111.8 676.3L113 675.7L114.1 675.3L115.3 675.2L116.4 675.2L117.6 675.4L118.7 675.8L119.9 676.4L121 677.2L122.2 678.2L123.3 679.4L124.5 680.8L125.6 682.3L126.8 683.9L128 685.8L129.1 687.7L130.3 689.8L131.4 692L132.6 694.3L133.7 696.7L134.9 699.1L136 701.7L137.2 704.2L138.3 706.9L139.5 709.5L140.6 712.2L141.8 714.9L142.9 717.5L144.1 720.2L145.2 722.8L146.4 725.4L147.5 727.9L148.7 730.4L149.9 732.8L151 735.2L152.2 737.5L153.3 739.7L154.5 741.8L155.6 743.9L156.8 745.8L157.9 747.7L159.1 749.5L160.2 751.2L161.4 752.8L162.5 754.4L163.7 755.8L164.8 757.1L166 758.4L167.1 759.6L168.3 760.7L169.4 761.7L170.6 762.7L171.8 763.6L172.9 764.4L174.1 765.1L175.2 765.8L176.4 766.4L177.5 767L178.7 767.5L179.8 768L181 768.5L182.1 768.9L183.3 769.2L184.4 769.5L185.6 769.8L186.7 770.1L187.9 770.3L189 770.5L190.2 770.7L191.3 770.9L192.5 771L193.7 771.1L194.8 771.3L196 771.4L197.1 771.4L198.3 771.5L199.4 771.6L200.6 771.6L201.7 771.7L202.9 771.7L204 771.8L205.2 771.8L206.3 771.8L207.5 771.9L208.6 771.9L209.8 771.9L210.9 771.9L212.1 771.9L213.2 771.9L214.4 772L215.6 772L216.7 772L217.9 772L219 772L220.2 772L221.3 772L222.5 772L223.6 772L224.8 772L225.9 772L227.1 772L228.2 772L229.4 772L230.5 772L231.7 772L232.8 772L234 772L235.1 772L236.3 772L237.5 772L238.6 772L239.8 772L240.9 772L242.1 772L243.2 772L244.4 772L245.5 772L246.7 772L247.8 772L249 772L250.1 772L251.3 772L252.4 772L253.6 772L254.7 772L255.9 772L257 772L258.2 772L259.4 772L260.5 772L261.7 772L262.8 772L264 772L265.1 772L266.3 772L267.4 772L268.6 772L269.7 772L270.9 772L272 772L273.2 772L274.3 772L275.5 772L276.6 772L277.8 772L278.9 772L280.1 772L281.3 772L282.4 772L283.6 772L284.7 772L285.9 772L287 772L288.2 772L289.3 772L290.5 772L291.6 772L292.8 772L293.9 772L295.1 772L296.2 772L297.4 772L298.5 772L299.7 772L300.8 772L302 772L303.1 772L304.3 772L305.5 772L306.6 772L307.8 772L308.9 772L310.1 772L311.2 772L312.4 772L313.5 772L314.7 772L315.8 772L317 772L318.1 772L319.3 772L320.4 772" fill="none" stroke="#1F8A1F" stroke-width="1.4" stroke-dasharray="7.6 3.2 2 2.9"/>
<path d="M59.9 766.4L61.1 764.4L62.3 762.3L63.4 759.8L64.6 757L65.7 754.1L66.9 751.3L68 748.6L69.2 745.7L70.3 742.9L71.5 740.3L72.6 738.1L73.8 736.7L74.9 735.6L76.1 734.6L77.2 733.7L78.4 732.7L79.5 731.5L80.7 730.3L81.8 728.9L83 727.4L84.2 725.6L85.3 723.2L86.5 719.6L87.6 715.3L88.8 710.8L89.9 706.5L91.1 702.9L92.2 699.5L93.4 696.1L94.5 692.8L95.7 689.6L96.8 686.5L98 683.4L99.1 680.5L100.3 677.6L101.4 674.8L102.6 672.1L103.7 669.4L104.9 666.8L106.1 664.3L107.2 661.9L108.4 659.5L109.5 657.2L110.7 654.9L111.8 652.7L113 650.5L114.1 648.3L115.3 646.1L116.4 644L117.6 642L118.7 640.2L119.9 638.6L121 637.2L122.2 637.2L123.3 637.8L124.5 638.7L125.6 639.4L126.8 640.1L128 640.9L129.1 641.7L130.3 642.4L131.4 643.1L132.6 643.8L133.7 644.4L134.9 645L136 645.7L137.2 646.6L138.3 647.5L139.5 648.5L140.6 649.5L141.8 650.6L142.9 651.7L144.1 652.9L145.2 654.1L146.4 655.3L147.5 656.5L148.7 657.6L149.9 658.8L151 659.9L152.2 661.1L153.3 662.3L154.5 663.5L155.6 664.8L156.8 666.1L157.9 667.4L159.1 668.9L160.2 670.4L161.4 672.1L162.5 674L163.7 675.9L164.8 678L166 680L167.1 682.1L168.3 684.1L169.4 686.1L170.6 688L171.8 689.8L172.9 691.6L174.1 693.4L175.2 695.1L176.4 696.9L177.5 698.5L178.7 700.2L179.8 701.8L181 703.4L182.1 704.9L183.3 706.3L184.4 707.7L185.6 709.1L186.7 710.4L187.9 711.7L189 713L190.2 714.2L191.3 715.4L192.5 716.6L193.7 717.8L194.8 718.9L196 720L197.1 721.1L198.3 722.1L199.4 723.2L200.6 724.2L201.7 725.2L202.9 726.2L204 727.1L205.2 728.1L206.3 729.1L207.5 730L208.6 731L209.8 732L210.9 732.9L212.1 733.8L213.2 734.7L214.4 735.6L215.6 736.4L216.7 737.2L217.9 737.9L219 738.6L220.2 739.2L221.3 739.8L222.5 740.4L223.6 740.9L224.8 741.5L225.9 742L227.1 742.6L228.2 743.1L229.4 743.7L230.5 744.3L231.7 744.8L232.8 745.4L234 746L235.1 746.5L236.3 747.1L237.5 747.7L238.6 748.2L239.8 748.8L240.9 749.3L242.1 749.9L243.2 750.5L244.4 751.1L245.5 751.7L246.7 752.2L247.8 752.8L249 753.3L250.1 753.8L251.3 754.3L252.4 754.7L253.6 755.1L254.7 755.5L255.9 755.9L257 756.2L258.2 756.6L259.4 756.9L260.5 757.2L261.7 757.5L262.8 757.7L264 757.9L265.1 758.1L266.3 758.2L267.4 758.4L268.6 758.6L269.7 758.7L270.9 758.8L272 758.9L273.2 759L274.3 759L275.5 759L276.6 759L277.8 759L278.9 759L280.1 759L281.3 759L282.4 759L283.6 759L284.7 759L285.9 759L287 759L288.2 759.1L289.3 759.3L290.5 759.6L291.6 759.9L292.8 760.2L293.9 760.5L295.1 760.9L296.2 761.3L297.4 761.6L298.5 762L299.7 762.3L300.8 762.7L302 763.1L303.1 763.6L304.3 764L305.5 764.4L306.6 764.8L307.8 765.2L308.9 765.6L310.1 765.9L311.2 766.2L312.4 766.5L313.5 766.8L314.7 767.1L315.8 767.4L317 767.7L318.1 767.9L319.3 768.1L320.4 768.4" fill="none" stroke="#FF8000" stroke-width="1.4" stroke-dasharray="7.6 3.2 2 2.9"/>
</g>
<g font-family='"Liberation Sans", sans-serif' font-size="16.8">
<text x="90.4" y="793.9" text-anchor="middle">1.5</text>
<text x="148" y="793.9" text-anchor="middle">2.0</text>
<text x="205.6" y="793.9" text-anchor="middle">2.5</text>
<text x="263.3" y="793.9" text-anchor="middle">3.0</text>
<text x="320.9" y="793.9" text-anchor="middle">3.5</text>
<text x="47.8" y="776.7" text-anchor="end">0.0</text>
<text x="47.8" y="672.1" text-anchor="end">0.5</text>
<text x="47.8" y="567.5" text-anchor="end">1.0</text>
</g>
<text x="191.3" y="813.8" font-family='"Liberation Serif", serif' font-weight="bold" font-size="19.5" text-anchor="middle">Energy(eV)</text>
<text transform="translate(17.3 667.4) rotate(-90)" font-family='"Liberation Serif", serif' font-weight="bold" font-size="19.1" text-anchor="middle">IL Intensity(<tspan font-weight="normal">&#215;10</tspan><tspan font-weight="normal" font-size="11.5" dy="-8.3">4</tspan><tspan dy="8.3">a.u./eV)</tspan></text>
<text x="59.6" y="589.7" font-family='"Liberation Serif", serif' font-size="26">(e)</text>
<g font-family='"Liberation Sans", sans-serif' font-size="15">
<path d="M219.7 581.7L224.8 584.3L219.7 586.9Z" fill="none" stroke="#555" stroke-width="0.9"/>
<text x="243.5" y="589.7">150s</text>
<path d="M203.9 603.4H239.9" stroke="#FF0000" stroke-width="1.8" stroke-dasharray="7.6 3.2 2 2.9"/>
<text x="243.5" y="608.8">3.15eV</text>
<path d="M203.9 622.5H239.9" stroke="#FF00FF" stroke-width="1.8" stroke-dasharray="7.6 3.2 2 2.9"/>
<text x="243.5" y="627.9">2.73eV</text>
<path d="M203.9 641.6H239.9" stroke="#0000FF" stroke-width="1.8" stroke-dasharray="7.6 3.2 2 2.9"/>
<text x="243.5" y="647">2.15eV</text>
<path d="M203.9 660.7H239.9" stroke="#1F8A1F" stroke-width="1.8" stroke-dasharray="7.6 3.2 2 2.9"/>
<text x="243.5" y="666.1">1.73eV</text>
<path d="M203.9 679.8H239.9" stroke="#FF8000" stroke-width="1.8" stroke-dasharray="7.6 3.2 2 2.9"/>
<text x="243.5" y="685.2">Cumu.</text>
</g>
<clipPath id="cpf"><rect x="406.8" y="564.4" width="265.1" height="210.6"/></clipPath>
<g clip-path="url(#cpf)">
<g fill="#fff" stroke="#111" stroke-width="0.8"><path d="M410.8 748.9L413.3 750.7L412.3 753.7L409.2 753.7L408.3 750.7Z"/><path d="M411.4 749L413.9 750.9L412.9 753.8L409.8 753.8L408.9 750.9Z"/><path d="M411.5 749.1L414 750.9L413.1 753.8L409.9 753.8L409 750.9Z"/><path d="M411.5 750.3L414 752.1L413.1 755L410 755L409 752.1Z"/><path d="M411.8 749.2L414.3 751.1L413.4 754L410.3 754L409.3 751.1Z"/><path d="M412.5 749.6L415 751.4L414 754.4L410.9 754.4L410 751.4Z"/><path d="M412.8 749.2L415.3 751L414.3 754L411.2 754L410.3 751Z"/><path d="M413.1 749.4L415.6 751.2L414.6 754.2L411.5 754.2L410.6 751.2Z"/><path d="M413.1 750.1L415.6 751.9L414.6 754.8L411.5 754.8L410.6 751.9Z"/><path d="M413.6 749.8L416.1 751.7L415.1 754.6L412 754.6L411.1 751.7Z"/><path d="M414 750.1L416.5 751.9L415.5 754.9L412.4 754.9L411.5 751.9Z"/><path d="M413.9 749.4L416.4 751.2L415.4 754.2L412.3 754.2L411.4 751.2Z"/><path d="M414.2 749.3L416.8 751.2L415.8 754.1L412.7 754.1L411.7 751.2Z"/><path d="M414.8 749.7L417.3 751.5L416.3 754.5L413.2 754.5L412.3 751.5Z"/><path d="M415.3 749.2L417.8 751L416.8 754L413.7 754L412.8 751Z"/><path d="M415.6 748.4L418.1 750.2L417.1 753.2L414 753.2L413.1 750.2Z"/><path d="M415.5 749L418 750.8L417 753.8L413.9 753.8L412.9 750.8Z"/><path d="M416.1 749.5L418.6 751.3L417.6 754.2L414.5 754.2L413.6 751.3Z"/><path d="M416.1 748.1L418.6 749.9L417.7 752.8L414.6 752.8L413.6 749.9Z"/><path d="M416.4 749.3L418.9 751.1L417.9 754.1L414.8 754.1L413.8 751.1Z"/><path d="M417 748.7L419.5 750.5L418.6 753.5L415.5 753.5L414.5 750.5Z"/><path d="M417.1 747.9L419.6 749.8L418.7 752.7L415.6 752.7L414.6 749.8Z"/><path d="M417.4 748L419.9 749.8L419 752.8L415.8 752.8L414.9 749.8Z"/><path d="M418 747.7L420.5 749.5L419.5 752.5L416.4 752.5L415.5 749.5Z"/><path d="M417.8 747.1L420.4 748.9L419.4 751.9L416.3 751.9L415.3 748.9Z"/><path d="M418.2 747.1L420.7 748.9L419.7 751.9L416.6 751.9L415.7 748.9Z"/><path d="M419 748.1L421.5 749.9L420.5 752.8L417.4 752.8L416.5 749.9Z"/><path d="M419.1 747.6L421.6 749.4L420.7 752.4L417.6 752.4L416.6 749.4Z"/><path d="M419.5 746.2L422 748L421 750.9L417.9 750.9L417 748Z"/><path d="M419.4 745.2L421.9 747L420.9 750L417.8 750L416.9 747Z"/><path d="M420.1 745.9L422.6 747.7L421.7 750.7L418.6 750.7L417.6 747.7Z"/><path d="M420.6 745.5L423.1 747.3L422.1 750.3L419 750.3L418.1 747.3Z"/><path d="M420.9 743.7L423.4 745.5L422.4 748.4L419.3 748.4L418.4 745.5Z"/><path d="M420.7 744L423.2 745.9L422.2 748.8L419.1 748.8L418.2 745.9Z"/><path d="M421.5 742.1L424 743.9L423.1 746.9L420 746.9L419 743.9Z"/><path d="M421.6 741.4L424.1 743.2L423.2 746.2L420.1 746.2L419.1 743.2Z"/><path d="M422 741.7L424.5 743.5L423.5 746.4L420.4 746.4L419.5 743.5Z"/><path d="M422 739.7L424.5 741.6L423.5 744.5L420.4 744.5L419.5 741.6Z"/><path d="M422.4 738.5L424.9 740.3L424 743.3L420.9 743.3L419.9 740.3Z"/><path d="M423 738.7L425.5 740.5L424.5 743.4L421.4 743.4L420.5 740.5Z"/><path d="M423.4 737.7L425.9 739.5L424.9 742.5L421.8 742.5L420.9 739.5Z"/><path d="M423.6 736.8L426.1 738.6L425.2 741.5L422.1 741.5L421.1 738.6Z"/><path d="M423.9 736.5L426.4 738.3L425.5 741.3L422.4 741.3L421.4 738.3Z"/><path d="M424.5 735.6L427 737.4L426 740.4L422.9 740.4L421.9 737.4Z"/><path d="M424.5 734.6L427 736.4L426 739.4L422.9 739.4L422 736.4Z"/><path d="M425 734.9L427.5 736.8L426.6 739.7L423.5 739.7L422.5 736.8Z"/><path d="M425 734.4L427.5 736.3L426.6 739.2L423.5 739.2L422.5 736.3Z"/><path d="M425.9 734.2L428.4 736L427.5 739L424.4 739L423.4 736Z"/><path d="M426.2 733.3L428.7 735.1L427.7 738.1L424.6 738.1L423.7 735.1Z"/><path d="M426.2 732.3L428.7 734.2L427.8 737.1L424.7 737.1L423.7 734.2Z"/><path d="M426.9 731.3L429.4 733.1L428.4 736.1L425.3 736.1L424.4 733.1Z"/><path d="M427 731.4L429.5 733.2L428.5 736.1L425.4 736.1L424.5 733.2Z"/><path d="M427.3 730.6L429.8 732.4L428.8 735.4L425.7 735.4L424.7 732.4Z"/><path d="M427.5 730.7L430 732.5L429.1 735.4L426 735.4L425 732.5Z"/><path d="M428.4 729.7L430.9 731.5L429.9 734.5L426.8 734.5L425.9 731.5Z"/><path d="M428.5 729.3L431 731.1L430.1 734L427 734L426 731.1Z"/><path d="M428.8 729.5L431.3 731.4L430.3 734.3L427.2 734.3L426.3 731.4Z"/><path d="M429.3 728.8L431.8 730.6L430.8 733.6L427.7 733.6L426.8 730.6Z"/><path d="M429.4 728.3L431.9 730.2L431 733.1L427.9 733.1L426.9 730.2Z"/><path d="M430.1 726.9L432.6 728.7L431.6 731.7L428.5 731.7L427.6 728.7Z"/><path d="M430.4 726.4L432.9 728.2L431.9 731.2L428.8 731.2L427.9 728.2Z"/><path d="M430.8 726.2L433.3 728L432.3 731L429.2 731L428.3 728Z"/><path d="M431.3 725.2L433.8 727L432.9 729.9L429.8 729.9L428.8 727Z"/><path d="M431.6 723.9L434.1 725.7L433.2 728.7L430 728.7L429.1 725.7Z"/><path d="M432 723.1L434.5 724.9L433.6 727.8L430.5 727.8L429.5 724.9Z"/><path d="M431.9 721.7L434.4 723.5L433.5 726.4L430.3 726.4L429.4 723.5Z"/><path d="M432.4 720.9L435 722.7L434 725.7L430.9 725.7L429.9 722.7Z"/><path d="M432.9 720.8L435.5 722.7L434.5 725.6L431.4 725.6L430.4 722.7Z"/><path d="M433.3 719.8L435.8 721.6L434.8 724.6L431.7 724.6L430.8 721.6Z"/><path d="M433.8 718.3L436.3 720.2L435.4 723.1L432.3 723.1L431.3 720.2Z"/><path d="M434.2 717.3L436.8 719.1L435.8 722L432.7 722L431.7 719.1Z"/><path d="M434.2 716.3L436.7 718.2L435.7 721.1L432.6 721.1L431.7 718.2Z"/><path d="M434.7 715.6L437.2 717.4L436.2 720.3L433.1 720.3L432.1 717.4Z"/><path d="M435.3 716.3L437.8 718.1L436.9 721.1L433.8 721.1L432.8 718.1Z"/><path d="M435.8 715.7L438.3 717.5L437.4 720.5L434.3 720.5L433.3 717.5Z"/><path d="M436.2 714.5L438.7 716.3L437.7 719.3L434.6 719.3L433.7 716.3Z"/><path d="M436.5 713.3L439.1 715.1L438.1 718.1L435 718.1L434 715.1Z"/><path d="M436.7 713.9L439.2 715.7L438.3 718.7L435.1 718.7L434.2 715.7Z"/><path d="M437.1 712.4L439.6 714.2L438.6 717.1L435.5 717.1L434.5 714.2Z"/><path d="M437.6 711.8L440.1 713.7L439.1 716.6L436 716.6L435.1 713.7Z"/><path d="M437.8 711.8L440.3 713.7L439.4 716.6L436.3 716.6L435.3 713.7Z"/><path d="M438.5 711.4L441.1 713.2L440.1 716.1L437 716.1L436 713.2Z"/><path d="M438.5 709.7L441 711.6L440.1 714.5L437 714.5L436 711.6Z"/><path d="M439 709.6L441.5 711.5L440.6 714.4L437.5 714.4L436.5 711.5Z"/><path d="M439.6 708.6L442.1 710.4L441.1 713.4L438 713.4L437.1 710.4Z"/><path d="M439.7 709.1L442.3 710.9L441.3 713.8L438.2 713.8L437.2 710.9Z"/><path d="M440.2 708.1L442.7 710L441.8 712.9L438.7 712.9L437.7 710Z"/><path d="M440.8 707.7L443.3 709.5L442.3 712.4L439.2 712.4L438.3 709.5Z"/><path d="M441.1 707.1L443.6 708.9L442.7 711.9L439.6 711.9L438.6 708.9Z"/><path d="M441.4 707L443.9 708.8L442.9 711.8L439.8 711.8L438.9 708.8Z"/><path d="M442.3 706.8L444.8 708.6L443.8 711.5L440.7 711.5L439.7 708.6Z"/><path d="M442.5 706L445 707.8L444 710.8L440.9 710.8L440 707.8Z"/><path d="M443.2 705.8L445.7 707.6L444.8 710.6L441.7 710.6L440.7 707.6Z"/><path d="M443.5 705L446 706.8L445 709.8L441.9 709.8L441 706.8Z"/><path d="M444 705.1L446.5 707L445.5 709.9L442.4 709.9L441.5 707Z"/><path d="M444.3 704.4L446.8 706.2L445.8 709.2L442.7 709.2L441.8 706.2Z"/><path d="M444.6 703.6L447.1 705.5L446.2 708.4L443 708.4L442.1 705.5Z"/><path d="M445 703.8L447.5 705.6L446.5 708.6L443.4 708.6L442.5 705.6Z"/><path d="M445.6 704.1L448.1 705.9L447.2 708.9L444.1 708.9L443.1 705.9Z"/><path d="M445.9 703L448.4 704.8L447.5 707.8L444.4 707.8L443.4 704.8Z"/><path d="M446.6 703L449.1 704.9L448.1 707.8L445 707.8L444.1 704.9Z"/><path d="M446.5 702.4L449.1 704.2L448.1 707.2L445 707.2L444 704.2Z"/><path d="M447 702.2L449.5 704.1L448.6 707L445.5 707L444.5 704.1Z"/><path d="M448 701.8L450.5 703.6L449.5 706.6L446.4 706.6L445.5 703.6Z"/><path d="M448.4 700.9L450.9 702.7L450 705.7L446.9 705.7L445.9 702.7Z"/><path d="M448.8 700.6L451.3 702.4L450.3 705.3L447.2 705.3L446.3 702.4Z"/><path d="M449.4 700.3L451.9 702.1L450.9 705L447.8 705L446.9 702.1Z"/><path d="M449.5 699.9L452.1 701.7L451.1 704.7L448 704.7L447 701.7Z"/><path d="M449.7 699.8L452.2 701.6L451.3 704.6L448.2 704.6L447.2 701.6Z"/><path d="M450.2 700L452.7 701.9L451.8 704.8L448.7 704.8L447.7 701.9Z"/><path d="M451.1 699.8L453.6 701.7L452.6 704.6L449.5 704.6L448.6 701.7Z"/><path d="M451.3 698.9L453.8 700.8L452.9 703.7L449.8 703.7L448.8 700.8Z"/><path d="M451.8 698.4L454.3 700.2L453.3 703.2L450.2 703.2L449.3 700.2Z"/><path d="M452.2 698.6L454.7 700.4L453.7 703.4L450.6 703.4L449.7 700.4Z"/><path d="M452.7 699.1L455.2 700.9L454.2 703.8L451.1 703.8L450.2 700.9Z"/><path d="M453.5 698.8L456 700.6L455.1 703.6L452 703.6L451 700.6Z"/><path d="M453.6 697.2L456.1 699L455.1 701.9L452 701.9L451 699Z"/><path d="M454.1 697.1L456.6 699L455.7 701.9L452.6 701.9L451.6 699Z"/><path d="M454.8 696.5L457.3 698.4L456.3 701.3L453.2 701.3L452.3 698.4Z"/><path d="M455 696.2L457.5 698.1L456.6 701L453.5 701L452.5 698.1Z"/><path d="M455.5 695.7L458 697.5L457 700.5L453.9 700.5L453 697.5Z"/><path d="M456.5 696.2L459 698L458 701L454.9 701L454 698Z"/><path d="M456.8 695.2L459.4 697L458.4 699.9L455.3 699.9L454.3 697Z"/><path d="M457.4 695.2L459.9 697L458.9 700L455.8 700L454.9 697Z"/><path d="M457.8 695.2L460.3 697L459.3 699.9L456.2 699.9L455.2 697Z"/><path d="M458 695.1L460.5 696.9L459.5 699.9L456.4 699.9L455.5 696.9Z"/><path d="M458.6 693.5L461.1 695.3L460.1 698.3L457 698.3L456 695.3Z"/><path d="M459.5 694.2L462 696.1L461 699L457.9 699L457 696.1Z"/><path d="M459.5 693.1L462 694.9L461.1 697.9L458 697.9L457 694.9Z"/><path d="M460.1 693.2L462.6 695L461.7 697.9L458.6 697.9L457.6 695Z"/><path d="M460.8 691.5L463.3 693.3L462.3 696.2L459.2 696.2L458.3 693.3Z"/><path d="M461.4 691.5L463.9 693.4L463 696.3L459.9 696.3L458.9 693.4Z"/><path d="M461.6 691.3L464.1 693.2L463.2 696.1L460.1 696.1L459.1 693.2Z"/><path d="M462.3 690.1L464.8 691.9L463.9 694.8L460.8 694.8L459.8 691.9Z"/><path d="M462.9 690.1L465.4 691.9L464.5 694.9L461.4 694.9L460.4 691.9Z"/><path d="M463.5 689.4L466.1 691.2L465.1 694.1L462 694.1L461 691.2Z"/><path d="M463.6 688.5L466.2 690.3L465.2 693.3L462.1 693.3L461.1 690.3Z"/><path d="M464.5 687.7L467 689.5L466.1 692.5L463 692.5L462 689.5Z"/><path d="M465.1 688L467.6 689.8L466.7 692.8L463.6 692.8L462.6 689.8Z"/><path d="M465.8 688.1L468.3 689.9L467.4 692.8L464.3 692.8L463.3 689.9Z"/><path d="M466.3 687.1L468.9 688.9L467.9 691.8L464.8 691.8L463.8 688.9Z"/><path d="M466.7 687.7L469.2 689.5L468.2 692.5L465.1 692.5L464.2 689.5Z"/><path d="M467.1 687.6L469.6 689.5L468.7 692.4L465.6 692.4L464.6 689.5Z"/><path d="M467.8 687.3L470.3 689.1L469.4 692L466.3 692L465.3 689.1Z"/><path d="M468 686.6L470.6 688.4L469.6 691.3L466.5 691.3L465.5 688.4Z"/><path d="M469 687.2L471.6 689L470.6 692L467.5 692L466.5 689Z"/><path d="M469.6 686.7L472.1 688.5L471.1 691.5L468 691.5L467.1 688.5Z"/><path d="M470.1 686.5L472.6 688.4L471.6 691.3L468.5 691.3L467.6 688.4Z"/><path d="M470.7 685.9L473.2 687.8L472.2 690.7L469.1 690.7L468.2 687.8Z"/><path d="M471.1 686.2L473.7 688L472.7 691L469.6 691L468.6 688Z"/><path d="M471.6 686.2L474.1 688L473.2 691L470.1 691L469.1 688Z"/><path d="M472.1 686.6L474.6 688.5L473.6 691.4L470.5 691.4L469.6 688.5Z"/><path d="M472.8 687.8L475.4 689.6L474.4 692.6L471.3 692.6L470.3 689.6Z"/><path d="M473.6 688.8L476.1 690.7L475.2 693.6L472.1 693.6L471.1 690.7Z"/><path d="M473.9 689L476.4 690.8L475.5 693.8L472.4 693.8L471.4 690.8Z"/><path d="M474.7 688.8L477.2 690.6L476.2 693.6L473.1 693.6L472.2 690.6Z"/><path d="M475 688.9L477.5 690.7L476.5 693.6L473.4 693.6L472.4 690.7Z"/><path d="M476 689.7L478.5 691.6L477.5 694.5L474.4 694.5L473.5 691.6Z"/><path d="M476.3 689.7L478.9 691.5L477.9 694.5L474.8 694.5L473.8 691.5Z"/><path d="M477.3 691L479.8 692.8L478.9 695.8L475.8 695.8L474.8 692.8Z"/><path d="M477.5 691.3L480 693.1L479 696.1L475.9 696.1L475 693.1Z"/><path d="M478 691.1L480.5 693L479.5 695.9L476.4 695.9L475.5 693Z"/><path d="M478.7 691.5L481.2 693.3L480.3 696.3L477.2 696.3L476.2 693.3Z"/><path d="M479.3 692.6L481.9 694.4L480.9 697.3L477.8 697.3L476.8 694.4Z"/><path d="M480 692L482.5 693.9L481.6 696.8L478.5 696.8L477.5 693.9Z"/><path d="M480.6 693L483.1 694.9L482.1 697.8L479 697.8L478.1 694.9Z"/><path d="M481.6 693L484.1 694.8L483.1 697.8L480 697.8L479.1 694.8Z"/><path d="M482 693.2L484.5 695L483.5 698L480.4 698L479.4 695Z"/><path d="M482.9 694L485.4 695.8L484.4 698.8L481.3 698.8L480.4 695.8Z"/><path d="M483.6 694.5L486.1 696.3L485.2 699.3L482 699.3L481.1 696.3Z"/><path d="M483.8 694.5L486.3 696.4L485.4 699.3L482.3 699.3L481.3 696.4Z"/><path d="M484.8 696.1L487.3 697.9L486.3 700.8L483.2 700.8L482.2 697.9Z"/><path d="M485.3 695.6L487.8 697.4L486.8 700.4L483.7 700.4L482.7 697.4Z"/><path d="M485.7 696.9L488.2 698.7L487.2 701.7L484.1 701.7L483.2 698.7Z"/><path d="M486.7 696.3L489.2 698.1L488.3 701L485.2 701L484.2 698.1Z"/><path d="M487.3 697.4L489.8 699.2L488.8 702.2L485.7 702.2L484.8 699.2Z"/><path d="M487.6 698.2L490.1 700L489.2 702.9L486.1 702.9L485.1 700Z"/><path d="M488.7 698.3L491.2 700.1L490.2 703.1L487.1 703.1L486.2 700.1Z"/><path d="M489.3 699.2L491.8 701L490.9 704L487.8 704L486.8 701Z"/><path d="M489.8 698.6L492.3 700.4L491.3 703.4L488.2 703.4L487.3 700.4Z"/><path d="M490.7 700.4L493.2 702.2L492.2 705.2L489.1 705.2L488.2 702.2Z"/><path d="M491.2 700.5L493.7 702.3L492.7 705.3L489.6 705.3L488.7 702.3Z"/><path d="M492.3 700.1L494.8 702L493.8 704.9L490.7 704.9L489.8 702Z"/><path d="M492.7 701.3L495.2 703.1L494.2 706.1L491.1 706.1L490.2 703.1Z"/><path d="M493.7 701.3L496.3 703.1L495.3 706.1L492.2 706.1L491.2 703.1Z"/><path d="M494.2 702.2L496.7 704L495.8 707L492.7 707L491.7 704Z"/><path d="M494.9 703.2L497.5 705L496.5 708L493.4 708L492.4 705Z"/><path d="M495.5 703.2L498 705.1L497 708L493.9 708L493 705.1Z"/><path d="M496.6 704.1L499.1 705.9L498.1 708.9L495 708.9L494.1 705.9Z"/><path d="M497.1 704.3L499.6 706.1L498.7 709.1L495.6 709.1L494.6 706.1Z"/><path d="M497.7 704.9L500.2 706.7L499.2 709.7L496.1 709.7L495.2 706.7Z"/><path d="M498.7 705.7L501.2 707.5L500.2 710.5L497.1 710.5L496.2 707.5Z"/><path d="M499.5 706.5L502.1 708.3L501.1 711.2L498 711.2L497 708.3Z"/><path d="M500.2 706.1L502.7 707.9L501.7 710.9L498.6 710.9L497.7 707.9Z"/><path d="M500.9 706.2L503.4 708.1L502.5 711L499.4 711L498.4 708.1Z"/><path d="M501.8 707L504.3 708.9L503.3 711.8L500.2 711.8L499.3 708.9Z"/><path d="M502.3 707.4L504.8 709.2L503.8 712.2L500.7 712.2L499.8 709.2Z"/><path d="M503.1 707.6L505.6 709.4L504.6 712.4L501.5 712.4L500.6 709.4Z"/><path d="M503.8 709.1L506.3 711L505.4 713.9L502.2 713.9L501.3 711Z"/><path d="M504.4 709L506.9 710.8L506 713.8L502.8 713.8L501.9 710.8Z"/><path d="M505.5 709.2L508 711L507.1 713.9L504 713.9L503 711Z"/><path d="M505.9 710.4L508.4 712.2L507.5 715.2L504.4 715.2L503.4 712.2Z"/><path d="M507.2 710.6L509.7 712.5L508.7 715.4L505.6 715.4L504.7 712.5Z"/><path d="M508 711.4L510.5 713.2L509.5 716.2L506.4 716.2L505.5 713.2Z"/><path d="M508.6 711.2L511.1 713L510.2 715.9L507.1 715.9L506.1 713Z"/><path d="M509.5 713L512 714.8L511 717.8L507.9 717.8L507 714.8Z"/><path d="M509.9 712.2L512.4 714.1L511.5 717L508.3 717L507.4 714.1Z"/><path d="M511.1 713L513.6 714.8L512.7 717.7L509.6 717.7L508.6 714.8Z"/><path d="M512 714.1L514.5 715.9L513.6 718.8L510.4 718.8L509.5 715.9Z"/><path d="M512.9 715.2L515.4 717L514.5 720L511.4 720L510.4 717Z"/><path d="M513.6 715.8L516.1 717.6L515.2 720.6L512.1 720.6L511.1 717.6Z"/><path d="M514.1 716.2L516.7 718L515.7 721L512.6 721L511.6 718Z"/><path d="M514.9 715.4L517.4 717.3L516.5 720.2L513.4 720.2L512.4 717.3Z"/><path d="M516 717.2L518.5 719L517.5 722L514.4 722L513.5 719Z"/><path d="M516.7 717.9L519.2 719.7L518.2 722.7L515.1 722.7L514.2 719.7Z"/><path d="M517.5 717.6L520 719.4L519.1 722.4L516 722.4L515 719.4Z"/><path d="M518.9 718.4L521.4 720.3L520.4 723.2L517.3 723.2L516.4 720.3Z"/><path d="M519.5 719.2L522 721.1L521 724L517.9 724L516.9 721.1Z"/><path d="M520.4 719.5L522.9 721.3L521.9 724.3L518.8 724.3L517.9 721.3Z"/><path d="M521.5 720.6L524 722.5L523 725.4L519.9 725.4L519 722.5Z"/><path d="M522.4 720.8L524.9 722.7L524 725.6L520.9 725.6L519.9 722.7Z"/><path d="M523 721L525.5 722.8L524.5 725.8L521.4 725.8L520.5 722.8Z"/><path d="M524 721.3L526.6 723.1L525.6 726L522.5 726L521.5 723.1Z"/><path d="M525.2 721.2L527.7 723L526.7 726L523.6 726L522.7 723Z"/><path d="M525.9 722.5L528.4 724.3L527.4 727.3L524.3 727.3L523.4 724.3Z"/><path d="M526.6 722.5L529.1 724.3L528.1 727.3L525 727.3L524.1 724.3Z"/><path d="M527.6 723.2L530.1 725L529.1 728L526 728L525.1 725Z"/><path d="M529 723.6L531.5 725.5L530.5 728.4L527.4 728.4L526.4 725.5Z"/><path d="M529.7 723.9L532.2 725.7L531.3 728.7L528.2 728.7L527.2 725.7Z"/><path d="M530.5 724.8L533 726.7L532.1 729.6L529 729.6L528 726.7Z"/><path d="M531.4 725L533.9 726.9L533 729.8L529.9 729.8L528.9 726.9Z"/><path d="M532.4 725L534.9 726.9L534 729.8L530.9 729.8L529.9 726.9Z"/><path d="M533.7 726.4L536.3 728.2L535.3 731.2L532.2 731.2L531.2 728.2Z"/><path d="M534.2 726.4L536.7 728.2L535.7 731.2L532.6 731.2L531.7 728.2Z"/><path d="M535.2 728.1L537.7 729.9L536.8 732.9L533.7 732.9L532.7 729.9Z"/><path d="M536.6 728L539.1 729.8L538.2 732.8L535.1 732.8L534.1 729.8Z"/><path d="M537.7 728.5L540.2 730.3L539.3 733.3L536.2 733.3L535.2 730.3Z"/><path d="M538.3 729.6L540.8 731.5L539.9 734.4L536.8 734.4L535.8 731.5Z"/><path d="M539.6 730.8L542.1 732.7L541.1 735.6L538 735.6L537.1 732.7Z"/><path d="M540.8 732.1L543.3 734L542.4 736.9L539.3 736.9L538.3 734Z"/><path d="M541.5 732.6L544.1 734.4L543.1 737.4L540 737.4L539 734.4Z"/><path d="M542.9 733.4L545.4 735.2L544.4 738.1L541.3 738.1L540.4 735.2Z"/><path d="M543.8 734.1L546.3 735.9L545.4 738.8L542.3 738.8L541.3 735.9Z"/><path d="M544.7 735.6L547.2 737.4L546.3 740.3L543.2 740.3L542.2 737.4Z"/><path d="M546.1 735.6L548.6 737.5L547.6 740.4L544.5 740.4L543.6 737.5Z"/><path d="M546.6 736.9L549.2 738.7L548.2 741.6L545.1 741.6L544.1 738.7Z"/><path d="M548.1 737L550.6 738.8L549.6 741.7L546.5 741.7L545.6 738.8Z"/><path d="M548.9 738.4L551.4 740.3L550.4 743.2L547.3 743.2L546.4 740.3Z"/><path d="M550.3 739.8L552.8 741.6L551.8 744.5L548.7 744.5L547.8 741.6Z"/><path d="M551.2 741.1L553.7 742.9L552.7 745.9L549.6 745.9L548.7 742.9Z"/><path d="M552.2 741.3L554.7 743.1L553.7 746.1L550.6 746.1L549.7 743.1Z"/><path d="M553.9 742.6L556.4 744.4L555.4 747.4L552.3 747.4L551.3 744.4Z"/><path d="M554.9 743.2L557.4 745.1L556.4 748L553.3 748L552.4 745.1Z"/><path d="M556.1 744.8L558.6 746.6L557.6 749.6L554.5 749.6L553.6 746.6Z"/><path d="M556.7 744.2L559.3 746L558.3 749L555.2 749L554.2 746Z"/><path d="M557.9 745.7L560.4 747.5L559.5 750.5L556.4 750.5L555.4 747.5Z"/><path d="M559.5 746.3L562 748.2L561.1 751.1L558 751.1L557 748.2Z"/><path d="M560.7 746.7L563.2 748.5L562.2 751.4L559.1 751.4L558.2 748.5Z"/><path d="M562 748.1L564.5 749.9L563.6 752.9L560.5 752.9L559.5 749.9Z"/><path d="M562.7 749.1L565.2 750.9L564.3 753.8L561.2 753.8L560.2 750.9Z"/><path d="M564.1 750.2L566.6 752L565.6 755L562.5 755L561.6 752Z"/><path d="M565.4 749.7L567.9 751.5L567 754.5L563.9 754.5L562.9 751.5Z"/><path d="M567 751.1L569.5 752.9L568.5 755.8L565.4 755.8L564.4 752.9Z"/><path d="M567.7 751.1L570.3 752.9L569.3 755.8L566.2 755.8L565.2 752.9Z"/><path d="M568.9 752.5L571.4 754.3L570.5 757.2L567.3 757.2L566.4 754.3Z"/><path d="M570.2 752.8L572.7 754.6L571.8 757.6L568.7 757.6L567.7 754.6Z"/><path d="M571.9 752.6L574.4 754.5L573.5 757.4L570.4 757.4L569.4 754.5Z"/><path d="M572.8 753.4L575.3 755.2L574.4 758.2L571.3 758.2L570.3 755.2Z"/><path d="M574.1 754.1L576.6 755.9L575.7 758.9L572.6 758.9L571.6 755.9Z"/><path d="M575.7 755.8L578.2 757.6L577.3 760.5L574.2 760.5L573.2 757.6Z"/><path d="M576.7 755.2L579.2 757L578.2 760L575.1 760L574.2 757Z"/><path d="M578.4 755.1L580.9 756.9L579.9 759.9L576.8 759.9L575.9 756.9Z"/><path d="M579.5 756L582 757.8L581.1 760.8L578 760.8L577 757.8Z"/><path d="M581 757L583.5 758.9L582.6 761.8L579.5 761.8L578.5 758.9Z"/><path d="M582.1 756.1L584.6 757.9L583.7 760.9L580.6 760.9L579.6 757.9Z"/><path d="M583.9 756.7L586.4 758.5L585.4 761.5L582.3 761.5L581.4 758.5Z"/><path d="M585.2 757.7L587.7 759.6L586.8 762.5L583.7 762.5L582.7 759.6Z"/><path d="M586.4 756.9L588.9 758.7L588 761.7L584.8 761.7L583.9 758.7Z"/><path d="M588.2 757.3L590.7 759.2L589.8 762.1L586.7 762.1L585.7 759.2Z"/><path d="M589.6 757.5L592.1 759.3L591.2 762.3L588.1 762.3L587.1 759.3Z"/><path d="M590.8 757.2L593.4 759.1L592.4 762L589.3 762L588.3 759.1Z"/><path d="M592.2 758.3L594.7 760.1L593.8 763.1L590.7 763.1L589.7 760.1Z"/><path d="M593.9 757.9L596.4 759.7L595.4 762.7L592.3 762.7L591.4 759.7Z"/><path d="M595.2 758.8L597.7 760.6L596.8 763.5L593.7 763.5L592.7 760.6Z"/><path d="M596.8 759.3L599.3 761.1L598.4 764.1L595.3 764.1L594.3 761.1Z"/><path d="M598.6 759.5L601.1 761.3L600.1 764.3L597 764.3L596 761.3Z"/><path d="M599.7 760.2L602.2 762L601.3 764.9L598.2 764.9L597.2 762Z"/><path d="M601.4 760L603.9 761.9L603 764.8L599.9 764.8L598.9 761.9Z"/><path d="M602.7 760.2L605.2 762.1L604.2 765L601.1 765L600.2 762.1Z"/><path d="M604.7 759.8L607.2 761.6L606.2 764.5L603.1 764.5L602.2 761.6Z"/><path d="M606.2 760.8L608.7 762.7L607.7 765.6L604.6 765.6L603.7 762.7Z"/><path d="M607.9 760.5L610.4 762.3L609.4 765.3L606.3 765.3L605.3 762.3Z"/><path d="M609.5 762.3L612 764.1L611 767.1L607.9 767.1L607 764.1Z"/><path d="M611.1 761.7L613.6 763.5L612.7 766.5L609.6 766.5L608.6 763.5Z"/><path d="M612.7 761.6L615.2 763.4L614.2 766.4L611.1 766.4L610.2 763.4Z"/><path d="M614.5 762.6L617 764.5L616 767.4L612.9 767.4L612 764.5Z"/><path d="M616.2 762L618.7 763.8L617.8 766.7L614.7 766.7L613.7 763.8Z"/><path d="M617.6 761.9L620.1 763.7L619.1 766.7L616 766.7L615.1 763.7Z"/><path d="M619.5 762.4L622 764.3L621.1 767.2L618 767.2L617 764.3Z"/><path d="M621.3 761.7L623.8 763.5L622.9 766.4L619.8 766.4L618.8 763.5Z"/><path d="M622.6 761.6L625.1 763.4L624.2 766.3L621.1 766.3L620.1 763.4Z"/><path d="M624.5 761.3L627 763.1L626 766.1L622.9 766.1L622 763.1Z"/><path d="M626.3 762.1L628.8 763.9L627.8 766.9L624.7 766.9L623.8 763.9Z"/><path d="M628.1 760.7L630.6 762.5L629.6 765.5L626.5 765.5L625.6 762.5Z"/><path d="M630.3 762.3L632.8 764.2L631.8 767.1L628.7 767.1L627.8 764.2Z"/><path d="M631.7 762.1L634.2 763.9L633.3 766.9L630.2 766.9L629.2 763.9Z"/><path d="M633.9 762.6L636.4 764.4L635.4 767.4L632.3 767.4L631.4 764.4Z"/><path d="M635.3 763L637.8 764.8L636.9 767.8L633.8 767.8L632.8 764.8Z"/><path d="M637.4 762.5L639.9 764.3L639 767.3L635.9 767.3L634.9 764.3Z"/><path d="M639.7 762.9L642.2 764.7L641.2 767.6L638.1 767.6L637.1 764.7Z"/><path d="M641.6 763.8L644.1 765.7L643.1 768.6L640 768.6L639 765.7Z"/><path d="M643.4 764.1L645.9 765.9L644.9 768.9L641.8 768.9L640.9 765.9Z"/><path d="M645.5 763.5L648 765.4L647.1 768.3L644 768.3L643 765.4Z"/><path d="M647.2 765.4L649.7 767.2L648.8 770.1L645.7 770.1L644.7 767.2Z"/><path d="M649.3 765.7L651.8 767.5L650.8 770.5L647.7 770.5L646.8 767.5Z"/><path d="M651.1 765.1L653.6 766.9L652.6 769.9L649.5 769.9L648.5 766.9Z"/><path d="M653.3 765.8L655.8 767.6L654.8 770.6L651.7 770.6L650.7 767.6Z"/><path d="M655.3 766.1L657.8 767.9L656.8 770.9L653.7 770.9L652.7 767.9Z"/><path d="M657.4 766.6L659.9 768.4L659 771.4L655.9 771.4L654.9 768.4Z"/><path d="M659.7 767.3L662.2 769.1L661.2 772.1L658.1 772.1L657.1 769.1Z"/><path d="M661.9 767.6L664.4 769.4L663.5 772.3L660.4 772.3L659.4 769.4Z"/><path d="M664.2 768.8L666.7 770.6L665.7 773.5L662.6 773.5L661.7 770.6Z"/><path d="M666.2 769L668.7 770.8L667.8 773.8L664.7 773.8L663.7 770.8Z"/><path d="M668.3 768.6L670.8 770.4L669.8 773.4L666.7 773.4L665.8 770.4Z"/><path d="M670.6 769.4L673.1 771.2L672.1 774.1L669 774.1L668.1 771.2Z"/></g>
</g>
<rect x="406.8" y="564.4" width="265.1" height="208.6" fill="none" stroke="#000" stroke-width="1.6"/>
<path d="M406.8 773v-3.8M406.8 564.4v3.8M418.3 773v-3.8M418.3 564.4v3.8M429.9 773v-3.8M429.9 564.4v3.8M441.4 773v-7M441.4 564.4v7M452.9 773v-3.8M452.9 564.4v3.8M464.4 773v-3.8M464.4 564.4v3.8M476 773v-3.8M476 564.4v3.8M487.5 773v-3.8M487.5 564.4v3.8M499 773v-7M499 564.4v7M510.5 773v-3.8M510.5 564.4v3.8M522.1 773v-3.8M522.1 564.4v3.8M533.6 773v-3.8M533.6 564.4v3.8M545.1 773v-3.8M545.1 564.4v3.8M556.6 773v-7M556.6 564.4v7M568.2 773v-3.8M568.2 564.4v3.8M579.7 773v-3.8M579.7 564.4v3.8M591.2 773v-3.8M591.2 564.4v3.8M602.7 773v-3.8M602.7 564.4v3.8M614.3 773v-7M614.3 564.4v7M625.8 773v-3.8M625.8 564.4v3.8M637.3 773v-3.8M637.3 564.4v3.8M648.8 773v-3.8M648.8 564.4v3.8M660.4 773v-3.8M660.4 564.4v3.8M671.9 773v-7M671.9 564.4v7M406.8 773h7M671.9 773h-7M406.8 752.1h3.8M671.9 752.1h-3.8M406.8 731.3h3.8M671.9 731.3h-3.8M406.8 710.4h3.8M671.9 710.4h-3.8M406.8 689.6h3.8M671.9 689.6h-3.8M406.8 668.7h7M671.9 668.7h-7M406.8 647.8h3.8M671.9 647.8h-3.8M406.8 627h3.8M671.9 627h-3.8M406.8 606.1h3.8M671.9 606.1h-3.8M406.8 585.3h3.8M671.9 585.3h-3.8M406.8 564.4h7M671.9 564.4h-7" stroke="#000" stroke-width="1.2" fill="none"/>
<g clip-path="url(#cpf)">
<path d="M410.9 773L412.1 773L413.3 773L414.4 773L415.6 773L416.7 773L417.9 773L419 773L420.2 773L421.3 773L422.5 773L423.6 773L424.8 773L425.9 773L427.1 773L428.2 773L429.4 773L430.5 773L431.7 773L432.8 773L434 773L435.2 773L436.3 773L437.5 773L438.6 773L439.8 773L440.9 773L442.1 773L443.2 773L444.4 773L445.5 773L446.7 773L447.8 773L449 773L450.1 773L451.3 773L452.4 773L453.6 773L454.7 773L455.9 773L457.1 773L458.2 773L459.4 773L460.5 773L461.7 773L462.8 773L464 773L465.1 773L466.3 773L467.4 773L468.6 773L469.7 773L470.9 773L472 773L473.2 773L474.3 773L475.5 773L476.6 773L477.8 773L479 773L480.1 773L481.3 773L482.4 773L483.6 773L484.7 773L485.9 773L487 773L488.2 773L489.3 773L490.5 773L491.6 773L492.8 773L493.9 773L495.1 773L496.2 773L497.4 773L498.5 773L499.7 773L500.9 773L502 773L503.2 773L504.3 773L505.5 773L506.6 773L507.8 773L508.9 773L510.1 773L511.2 773L512.4 773L513.5 773L514.7 773L515.8 773L517 773L518.1 773L519.3 773L520.4 773L521.6 773L522.8 773L523.9 773L525.1 773L526.2 773L527.4 773L528.5 773L529.7 773L530.8 773L532 773L533.1 773L534.3 773L535.4 773L536.6 773L537.7 773L538.9 773L540 773L541.2 773L542.3 773L543.5 773L544.7 773L545.8 773L547 773L548.1 773L549.3 773L550.4 773L551.6 773L552.7 773L553.9 773L555 773L556.2 773L557.3 773L558.5 773L559.6 773L560.8 773L561.9 772.9L563.1 772.9L564.2 772.9L565.4 772.9L566.6 772.9L567.7 772.9L568.9 772.8L570 772.8L571.2 772.8L572.3 772.8L573.5 772.7L574.6 772.7L575.8 772.6L576.9 772.6L578.1 772.5L579.2 772.5L580.4 772.4L581.5 772.3L582.7 772.2L583.8 772.1L585 772L586.1 771.9L587.3 771.8L588.5 771.7L589.6 771.5L590.8 771.4L591.9 771.2L593.1 771.1L594.2 770.9L595.4 770.7L596.5 770.5L597.7 770.3L598.8 770.1L600 769.9L601.1 769.7L602.3 769.5L603.4 769.3L604.6 769L605.7 768.8L606.9 768.6L608 768.4L609.2 768.2L610.4 767.9L611.5 767.7L612.7 767.5L613.8 767.4L615 767.2L616.1 767L617.3 766.9L618.4 766.7L619.6 766.6L620.7 766.5L621.9 766.4L623 766.4L624.2 766.3L625.3 766.3L626.5 766.3L627.6 766.4L628.8 766.4L629.9 766.5L631.1 766.5L632.3 766.6L633.4 766.8L634.6 766.9L635.7 767L636.9 767.2L638 767.4L639.2 767.6L640.3 767.8L641.5 768L642.6 768.2L643.8 768.4L644.9 768.6L646.1 768.9L647.2 769.1L648.4 769.3L649.5 769.5L650.7 769.8L651.8 770L653 770.2L654.1 770.4L655.3 770.6L656.5 770.8L657.6 770.9L658.8 771.1L659.9 771.3L661.1 771.4L662.2 771.6L663.4 771.7L664.5 771.8L665.7 771.9L666.8 772.1L668 772.2L669.1 772.2L670.3 772.3L671.4 772.4" fill="none" stroke="#FF0000" stroke-width="1.4" stroke-dasharray="7.6 3.2 2 2.9"/>
<path d="M410.9 773L412.1 773L413.3 773L414.4 773L415.6 773L416.7 773L417.9 773L419 773L420.2 773L421.3 773L422.5 773L423.6 773L424.8 773L425.9 773L427.1 773L428.2 773L429.4 773L430.5 773L431.7 773L432.8 773L434 773L435.2 773L436.3 773L437.5 773L438.6 773L439.8 773L440.9 773L442.1 773L443.2 773L444.4 773L445.5 773L446.7 773L447.8 773L449 773L450.1 773L451.3 773L452.4 773L453.6 773L454.7 773L455.9 773L457.1 773L458.2 773L459.4 773L460.5 773L461.7 773L462.8 773L464 773L465.1 773L466.3 773L467.4 773L468.6 773L469.7 773L470.9 773L472 773L473.2 773L474.3 773L475.5 773L476.6 773L477.8 773L479 773L480.1 773L481.3 773L482.4 773L483.6 773L484.7 773L485.9 773L487 773L488.2 773L489.3 773L490.5 773L491.6 773L492.8 773L493.9 773L495.1 773L496.2 773L497.4 773L498.5 773L499.7 773L500.9 773L502 773L503.2 773L504.3 773L505.5 773L506.6 773L507.8 773L508.9 773L510.1 773L511.2 773L512.4 773L513.5 773L514.7 773L515.8 773L517 773L518.1 773L519.3 773L520.4 773L521.6 773L522.8 773L523.9 773L525.1 773L526.2 773L527.4 773L528.5 773L529.7 773L530.8 773L532 773L533.1 773L534.3 773L535.4 773L536.6 773L537.7 773L538.9 773L540 773L541.2 773L542.3 773L543.5 773L544.7 773L545.8 773L547 773L548.1 773L549.3 772.9L550.4 772.9L551.6 772.9L552.7 772.9L553.9 772.8L555 772.8L556.2 772.8L557.3 772.7L558.5 772.6L559.6 772.6L560.8 772.5L561.9 772.4L563.1 772.3L564.2 772.1L565.4 772L566.6 771.8L567.7 771.6L568.9 771.4L570 771.2L571.2 771L572.3 770.7L573.5 770.4L574.6 770.2L575.8 769.9L576.9 769.6L578.1 769.3L579.2 769L580.4 768.7L581.5 768.4L582.7 768.2L583.8 767.9L585 767.7L586.1 767.5L587.3 767.4L588.5 767.3L589.6 767.2L590.8 767.2L591.9 767.2L593.1 767.2L594.2 767.4L595.4 767.5L596.5 767.7L597.7 768L598.8 768.3L600 768.6L601.1 769L602.3 769.3L603.4 769.7L604.6 770L605.7 770.4L606.9 770.7L608 771L609.2 771.3L610.4 771.5L611.5 771.8L612.7 772L613.8 772.1L615 772.3L616.1 772.4L617.3 772.5L618.4 772.6L619.6 772.7L620.7 772.8L621.9 772.8L623 772.9L624.2 772.9L625.3 772.9L626.5 772.9L627.6 773L628.8 773L629.9 773L631.1 773L632.3 773L633.4 773L634.6 773L635.7 773L636.9 773L638 773L639.2 773L640.3 773L641.5 773L642.6 773L643.8 773L644.9 773L646.1 773L647.2 773L648.4 773L649.5 773L650.7 773L651.8 773L653 773L654.1 773L655.3 773L656.5 773L657.6 773L658.8 773L659.9 773L661.1 773L662.2 773L663.4 773L664.5 773L665.7 773L666.8 773L668 773L669.1 773L670.3 773L671.4 773" fill="none" stroke="#FF00FF" stroke-width="1.4" stroke-dasharray="7.6 3.2 2 2.9"/>
<path d="M410.9 772.4L412.1 772.4L413.3 772.3L414.4 772.3L415.6 772.2L416.7 772.1L417.9 772L419 771.9L420.2 771.8L421.3 771.7L422.5 771.6L423.6 771.5L424.8 771.4L425.9 771.2L427.1 771.1L428.2 770.9L429.4 770.7L430.5 770.6L431.7 770.4L432.8 770.1L434 769.9L435.2 769.7L436.3 769.4L437.5 769.2L438.6 768.9L439.8 768.6L440.9 768.3L442.1 768L443.2 767.6L444.4 767.3L445.5 766.9L446.7 766.5L447.8 766L449 765.6L450.1 765.1L451.3 764.7L452.4 764.2L453.6 763.7L454.7 763.1L455.9 762.6L457.1 762L458.2 761.4L459.4 760.8L460.5 760.1L461.7 759.5L462.8 758.8L464 758.1L465.1 757.4L466.3 756.6L467.4 755.9L468.6 755.1L469.7 754.4L470.9 753.6L472 752.8L473.2 751.9L474.3 751.1L475.5 750.3L476.6 749.4L477.8 748.6L479 747.8L480.1 746.9L481.3 746L482.4 745.2L483.6 744.3L484.7 743.5L485.9 742.7L487 741.8L488.2 741L489.3 740.2L490.5 739.4L491.6 738.6L492.8 737.9L493.9 737.2L495.1 736.4L496.2 735.8L497.4 735.1L498.5 734.5L499.7 733.9L500.9 733.3L502 732.8L503.2 732.3L504.3 731.8L505.5 731.4L506.6 731L507.8 730.6L508.9 730.3L510.1 730.1L511.2 729.8L512.4 729.7L513.5 729.5L514.7 729.4L515.8 729.4L517 729.4L518.1 729.5L519.3 729.5L520.4 729.7L521.6 729.8L522.8 730L523.9 730.3L525.1 730.5L526.2 730.9L527.4 731.2L528.5 731.6L529.7 732L530.8 732.5L532 733L533.1 733.5L534.3 734L535.4 734.6L536.6 735.2L537.7 735.8L538.9 736.5L540 737.1L541.2 737.8L542.3 738.5L543.5 739.2L544.7 740L545.8 740.7L547 741.5L548.1 742.3L549.3 743.1L550.4 743.8L551.6 744.6L552.7 745.4L553.9 746.2L555 747L556.2 747.8L557.3 748.6L558.5 749.4L559.6 750.2L560.8 751L561.9 751.8L563.1 752.5L564.2 753.3L565.4 754.1L566.6 754.8L567.7 755.5L568.9 756.2L570 756.9L571.2 757.6L572.3 758.3L573.5 758.9L574.6 759.5L575.8 760.2L576.9 760.8L578.1 761.3L579.2 761.9L580.4 762.5L581.5 763L582.7 763.5L583.8 764L585 764.5L586.1 764.9L587.3 765.4L588.5 765.8L589.6 766.2L590.8 766.6L591.9 767L593.1 767.3L594.2 767.7L595.4 768L596.5 768.3L597.7 768.6L598.8 768.9L600 769.1L601.1 769.4L602.3 769.6L603.4 769.8L604.6 770.1L605.7 770.3L606.9 770.4L608 770.6L609.2 770.8L610.4 771L611.5 771.1L612.7 771.2L613.8 771.4L615 771.5L616.1 771.6L617.3 771.7L618.4 771.8L619.6 771.9L620.7 772L621.9 772.1L623 772.1L624.2 772.2L625.3 772.3L626.5 772.3L627.6 772.4L628.8 772.5L629.9 772.5L631.1 772.5L632.3 772.6L633.4 772.6L634.6 772.7L635.7 772.7L636.9 772.7L638 772.7L639.2 772.8L640.3 772.8L641.5 772.8L642.6 772.8L643.8 772.8L644.9 772.9L646.1 772.9L647.2 772.9L648.4 772.9L649.5 772.9L650.7 772.9L651.8 772.9L653 772.9L654.1 772.9L655.3 772.9L656.5 773L657.6 773L658.8 773L659.9 773L661.1 773L662.2 773L663.4 773L664.5 773L665.7 773L666.8 773L668 773L669.1 773L670.3 773L671.4 773" fill="none" stroke="#0000FF" stroke-width="1.4" stroke-dasharray="7.6 3.2 2 2.9"/>
<path d="M410.9 757.4L412.1 756.3L413.3 755.3L414.4 754.2L415.6 753L416.7 751.8L417.9 750.6L419 749.4L420.2 748.1L421.3 746.7L422.5 745.4L423.6 744L424.8 742.6L425.9 741.2L427.1 739.8L428.2 738.3L429.4 736.8L430.5 735.4L431.7 733.9L432.8 732.4L434 731L435.2 729.5L436.3 728.1L437.5 726.7L438.6 725.3L439.8 724L440.9 722.6L442.1 721.4L443.2 720.1L444.4 719L445.5 717.8L446.7 716.8L447.8 715.8L449 714.8L450.1 714L451.3 713.2L452.4 712.5L453.6 711.9L454.7 711.3L455.9 710.9L457.1 710.5L458.2 710.3L459.4 710.1L460.5 710L461.7 710L462.8 710.1L464 710.4L465.1 710.7L466.3 711.1L467.4 711.7L468.6 712.3L469.7 713.1L470.9 713.9L472 714.8L473.2 715.9L474.3 716.9L475.5 718.1L476.6 719.3L477.8 720.6L479 722L480.1 723.4L481.3 724.9L482.4 726.3L483.6 727.9L484.7 729.4L485.9 731L487 732.6L488.2 734.2L489.3 735.7L490.5 737.3L491.6 738.9L492.8 740.5L493.9 742L495.1 743.6L496.2 745.1L497.4 746.5L498.5 748L499.7 749.4L500.9 750.7L502 752L503.2 753.3L504.3 754.5L505.5 755.7L506.6 756.9L507.8 757.9L508.9 759L510.1 760L511.2 760.9L512.4 761.8L513.5 762.6L514.7 763.4L515.8 764.2L517 764.9L518.1 765.6L519.3 766.2L520.4 766.8L521.6 767.3L522.8 767.8L523.9 768.3L525.1 768.7L526.2 769.1L527.4 769.5L528.5 769.8L529.7 770.1L530.8 770.4L532 770.7L533.1 770.9L534.3 771.1L535.4 771.3L536.6 771.5L537.7 771.7L538.9 771.8L540 771.9L541.2 772.1L542.3 772.2L543.5 772.3L544.7 772.4L545.8 772.4L547 772.5L548.1 772.6L549.3 772.6L550.4 772.7L551.6 772.7L552.7 772.7L553.9 772.8L555 772.8L556.2 772.8L557.3 772.9L558.5 772.9L559.6 772.9L560.8 772.9L561.9 772.9L563.1 772.9L564.2 772.9L565.4 772.9L566.6 773L567.7 773L568.9 773L570 773L571.2 773L572.3 773L573.5 773L574.6 773L575.8 773L576.9 773L578.1 773L579.2 773L580.4 773L581.5 773L582.7 773L583.8 773L585 773L586.1 773L587.3 773L588.5 773L589.6 773L590.8 773L591.9 773L593.1 773L594.2 773L595.4 773L596.5 773L597.7 773L598.8 773L600 773L601.1 773L602.3 773L603.4 773L604.6 773L605.7 773L606.9 773L608 773L609.2 773L610.4 773L611.5 773L612.7 773L613.8 773L615 773L616.1 773L617.3 773L618.4 773L619.6 773L620.7 773L621.9 773L623 773L624.2 773L625.3 773L626.5 773L627.6 773L628.8 773L629.9 773L631.1 773L632.3 773L633.4 773L634.6 773L635.7 773L636.9 773L638 773L639.2 773L640.3 773L641.5 773L642.6 773L643.8 773L644.9 773L646.1 773L647.2 773L648.4 773L649.5 773L650.7 773L651.8 773L653 773L654.1 773L655.3 773L656.5 773L657.6 773L658.8 773L659.9 773L661.1 773L662.2 773L663.4 773L664.5 773L665.7 773L666.8 773L668 773L669.1 773L670.3 773L671.4 773" fill="none" stroke="#1F8A1F" stroke-width="1.4" stroke-dasharray="7.6 3.2 2 2.9"/>
<path d="M410.9 752.1L412.1 752.1L413.3 752.1L414.4 751.9L415.6 751.6L416.7 751.1L417.9 750.5L419 749.6L420.2 747.7L421.3 745.1L422.5 742.3L423.6 739.7L424.8 737.6L425.9 735.9L427.1 734.2L428.2 732.5L429.4 730.6L430.5 728.5L431.7 726L432.8 723.3L434 720.6L435.2 718.3L436.3 716.4L437.5 714.7L438.6 713.2L439.8 711.8L440.9 710.5L442.1 709.3L443.2 708.2L444.4 707.2L445.5 706.3L446.7 705.4L447.8 704.5L449 703.7L450.1 702.9L451.3 702.1L452.4 701.4L453.6 700.6L454.7 699.8L455.9 699L457.1 698.1L458.2 697.2L459.4 696.2L460.5 694.9L461.7 693.6L462.8 692.3L464 691.3L465.1 690.7L466.3 690.1L467.4 689.7L468.6 689.3L469.7 689.2L470.9 689.2L472 689.7L473.2 690.6L474.3 691.5L475.5 692.4L476.6 693.1L477.8 693.9L479 694.6L480.1 695.3L481.3 696.1L482.4 696.8L483.6 697.6L484.7 698.3L485.9 699.1L487 699.9L488.2 700.7L489.3 701.5L490.5 702.3L491.6 703.1L492.8 703.9L493.9 704.8L495.1 705.6L496.2 706.4L497.4 707.2L498.5 708L499.7 708.8L500.9 709.6L502 710.3L503.2 711.1L504.3 711.9L505.5 712.6L506.6 713.3L507.8 714.1L508.9 714.8L510.1 715.6L511.2 716.3L512.4 717L513.5 717.8L514.7 718.5L515.8 719.2L517 719.9L518.1 720.6L519.3 721.3L520.4 722L521.6 722.7L522.8 723.3L523.9 723.9L525.1 724.5L526.2 725L527.4 725.6L528.5 726.1L529.7 726.6L530.8 727.2L532 727.8L533.1 728.5L534.3 729.2L535.4 730L536.6 730.9L537.7 731.8L538.9 732.7L540 733.7L541.2 734.7L542.3 735.6L543.5 736.6L544.7 737.6L545.8 738.5L547 739.5L548.1 740.4L549.3 741.4L550.4 742.4L551.6 743.4L552.7 744.3L553.9 745.3L555 746.2L556.2 747L557.3 747.8L558.5 748.6L559.6 749.4L560.8 750.2L561.9 750.9L563.1 751.7L564.2 752.3L565.4 753L566.6 753.6L567.7 754.2L568.9 754.8L570 755.3L571.2 755.8L572.3 756.3L573.5 756.8L574.6 757.3L575.8 757.7L576.9 758.1L578.1 758.4L579.2 758.7L580.4 759L581.5 759.2L582.7 759.3L583.8 759.5L585 759.7L586.1 759.8L587.3 759.9L588.5 760.1L589.6 760.2L590.8 760.4L591.9 760.6L593.1 760.8L594.2 761L595.4 761.3L596.5 761.5L597.7 761.7L598.8 762L600 762.2L601.1 762.5L602.3 762.7L603.4 762.9L604.6 763.2L605.7 763.4L606.9 763.7L608 764L609.2 764.2L610.4 764.5L611.5 764.7L612.7 764.8L613.8 764.9L615 764.9L616.1 764.8L617.3 764.7L618.4 764.6L619.6 764.5L620.7 764.4L621.9 764.3L623 764.2L624.2 764.1L625.3 764L626.5 764L627.6 764.1L628.8 764.2L629.9 764.3L631.1 764.5L632.3 764.7L633.4 764.8L634.6 765L635.7 765.2L636.9 765.4L638 765.6L639.2 765.8L640.3 766L641.5 766.2L642.6 766.4L643.8 766.6L644.9 766.8L646.1 767L647.2 767.2L648.4 767.5L649.5 767.7L650.7 768L651.8 768.3L653 768.6L654.1 768.9L655.3 769.2L656.5 769.5L657.6 769.8L658.8 770L659.9 770.2L661.1 770.4L662.2 770.6L663.4 770.7L664.5 770.9L665.7 771L666.8 771.1L668 771.3L669.1 771.4L670.3 771.4L671.4 771.5" fill="none" stroke="#FF8000" stroke-width="1.4" stroke-dasharray="7.6 3.2 2 2.9"/>
</g>
<g font-family='"Liberation Sans", sans-serif' font-size="16.8">
<text x="441.4" y="794.9" text-anchor="middle">1.5</text>
<text x="499" y="794.9" text-anchor="middle">2.0</text>
<text x="556.6" y="794.9" text-anchor="middle">2.5</text>
<text x="614.3" y="794.9" text-anchor="middle">3.0</text>
<text x="671.9" y="794.9" text-anchor="middle">3.5</text>
<text x="398.8" y="777.7" text-anchor="end">0.0</text>
<text x="398.8" y="673.4" text-anchor="end">0.5</text>
<text x="398.8" y="569.1" text-anchor="end">1.0</text>
</g>
<text x="542.1" y="815.2" font-family='"Liberation Serif", serif' font-weight="bold" font-size="19.5" text-anchor="middle">Energy(eV)</text>
<text transform="translate(368.3 668.7) rotate(-90)" font-family='"Liberation Serif", serif' font-weight="bold" font-size="19.1" text-anchor="middle">IL Intensity(<tspan font-weight="normal">&#215;10</tspan><tspan font-weight="normal" font-size="11.5" dy="-8.3">4</tspan><tspan dy="8.3">a.u./eV)</tspan></text>
<text x="412.2" y="591.7" font-family='"Liberation Serif", serif' font-size="26">(f)</text>
<g font-family='"Liberation Sans", sans-serif' font-size="15">
<path d="M572.8 582.9L575.4 584.8L574.4 587.9L571.1 587.9L570.1 584.8Z" fill="none" stroke="#555" stroke-width="0.9"/>
<text x="594.6" y="591.1">300s</text>
<path d="M554.9 604.8H590.6" stroke="#FF0000" stroke-width="1.8" stroke-dasharray="7.6 3.2 2 2.9"/>
<text x="594.6" y="610.2">3.13eV</text>
<path d="M554.9 623.9H590.6" stroke="#FF00FF" stroke-width="1.8" stroke-dasharray="7.6 3.2 2 2.9"/>
<text x="594.6" y="629.3">2.81eV</text>
<path d="M554.9 643H590.6" stroke="#0000FF" stroke-width="1.8" stroke-dasharray="7.6 3.2 2 2.9"/>
<text x="594.6" y="648.4">2.14eV</text>
<path d="M554.9 662.1H590.6" stroke="#1F8A1F" stroke-width="1.8" stroke-dasharray="7.6 3.2 2 2.9"/>
<text x="594.6" y="667.5">1.66eV</text>
<path d="M554.9 681.2H590.6" stroke="#FF8000" stroke-width="1.8" stroke-dasharray="7.6 3.2 2 2.9"/>
<text x="594.6" y="686.6">Cumu.</text>
</g>
<rect x="243.9" y="251" width="1" height="5.5" fill="#8394ad"/>
</svg></body></html>
